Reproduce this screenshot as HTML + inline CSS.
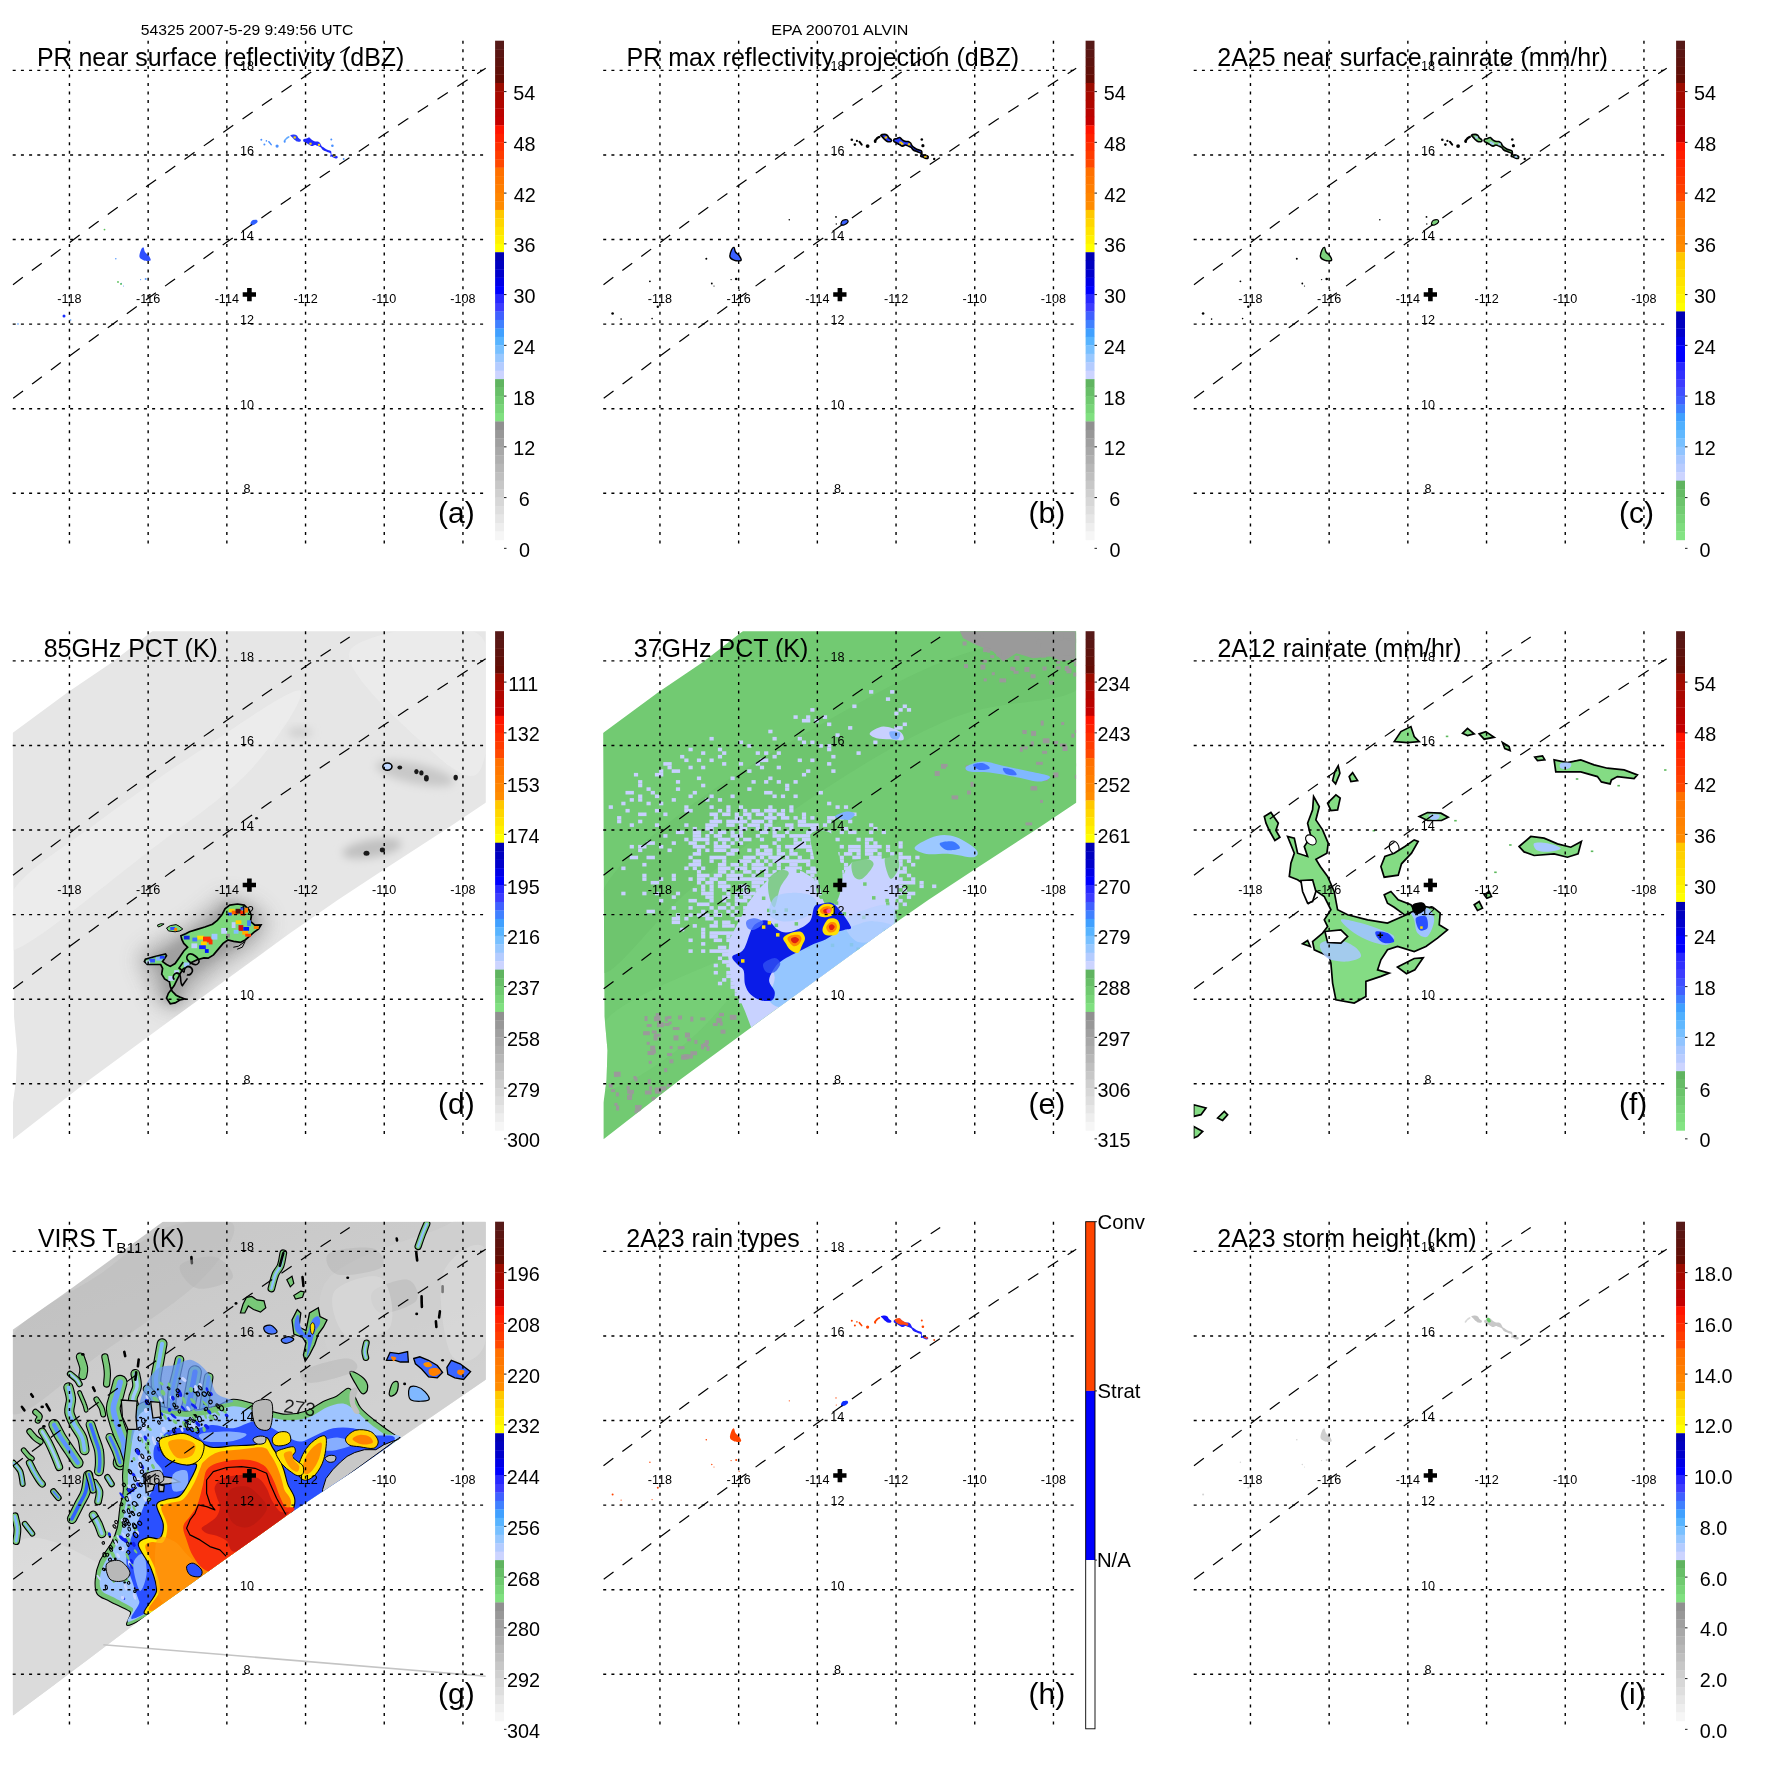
<!DOCTYPE html><html><head><meta charset="utf-8"><style>html,body{margin:0;padding:0;background:#fff;}svg{display:block;will-change:transform;}text{font-family:"Liberation Sans",sans-serif;}</style></head><body>
<svg width="1771" height="1771" viewBox="0 0 1771 1771">
<rect width="1771" height="1771" fill="#fff"/>
<defs><clipPath id="pc"><rect x="12.7" y="40.7" width="473.1" height="508.3"/></clipPath></defs>
<text transform="translate(140.87,35.00) scale(1.0114,1)" font-size="15.5" fill="#000">54325 2007-5-29 9:49:56 UTC</text>
<text transform="translate(771.31,34.70) scale(1.0381,1)" font-size="15.5" fill="#000">EPA 200701 ALVIN</text>
<g transform="translate(0.0,0.0)">
<g clip-path="url(#pc)"><path d="M284.4,141.0 C284.8,140.6 285.7,139.2 286.4,138.5 C287.2,137.8 288.4,137.2 288.8,136.9" fill="none" stroke="#60a8ff" stroke-width="1.6" stroke-linecap="round" stroke-linejoin="round"/>
<path d="M290.4,135.2 C290.7,134.8 293.0,134.4 294.0,134.4 C295.1,134.4 296.1,134.9 296.9,135.5 C297.6,136.1 297.9,137.4 298.6,138.1 C299.2,138.8 300.5,139.2 300.8,139.8 C301.1,140.3 300.8,141.3 300.3,141.6 C299.7,141.9 298.3,141.8 297.4,141.6 C296.6,141.4 296.1,141.1 295.2,140.3 C294.2,139.6 292.6,137.8 291.8,136.9 C291.0,136.1 290.0,135.7 290.4,135.2Z" fill="#2a3cff"/>
<path d="M303.5,139.2 C304.0,138.7 305.5,138.8 306.5,138.5 C307.4,138.2 308.4,137.3 309.3,137.5 C310.1,137.7 310.7,139.0 311.5,139.6 C312.4,140.3 313.3,141.0 314.4,141.3 C315.4,141.7 316.8,141.3 317.8,141.6 C318.7,141.9 319.4,142.4 320.0,143.0 C320.6,143.7 320.8,144.7 321.3,145.4 C321.7,146.1 322.1,146.5 323.0,147.1 C323.8,147.7 324.9,148.6 326.2,149.2 C327.5,149.9 330.0,150.3 330.9,150.9 C331.7,151.6 331.2,152.7 331.4,153.3 C331.6,154.0 331.1,154.4 332.0,154.9 C332.9,155.3 336.0,155.5 337.0,156.0 C337.9,156.5 337.8,157.4 337.6,157.8 C337.4,158.2 336.8,158.7 335.8,158.5 C334.9,158.3 332.8,157.2 331.9,156.8 C330.9,156.4 330.4,156.8 330.2,156.3 C330.0,155.7 331.2,154.2 330.6,153.4 C330.1,152.7 328.1,152.3 326.8,151.7 C325.5,151.2 323.9,150.8 322.8,150.0 C321.8,149.3 321.4,148.0 320.6,147.3 C319.7,146.7 318.7,146.5 317.8,146.1 C316.8,145.7 315.9,145.0 314.9,145.0 C314.0,145.0 313.1,146.2 312.1,146.1 C311.1,146.0 309.8,145.0 308.7,144.4 C307.7,143.8 306.8,143.2 305.9,142.7 C305.0,142.2 303.9,142.0 303.5,141.5 C303.1,140.9 303.0,139.7 303.5,139.2Z" fill="#1e28ff"/>
<rect x="293.6" y="136.5" width="2.2" height="2" fill="#ffe000"/>
<rect x="309.4" y="142.7" width="2.2" height="2" fill="#ffe000"/>
<rect x="317.9" y="143.8" width="2.2" height="2" fill="#ffe000"/>
<rect x="333.1" y="154.6" width="2.2" height="2" fill="#ffe000"/>
<circle cx="261.3" cy="139.8" r="1.0" fill="#4a90ff"/>
<circle cx="264.4" cy="144.6" r="1.0" fill="#4a90ff"/>
<circle cx="266.4" cy="140.9" r="0.8" fill="#4a90ff"/>
<circle cx="277.1" cy="146.1" r="1.6" fill="#4a90ff"/>
<circle cx="284.7" cy="141.7" r="1.0" fill="#4a90ff"/>
<circle cx="331.3" cy="139.5" r="1.0" fill="#4a90ff"/>
<circle cx="332.4" cy="145.7" r="1.3" fill="#4a90ff"/>
<circle cx="343.7" cy="159.0" r="0.9" fill="#4a90ff"/>
<path d="M268.9,141.7 C269.3,142.2 270.8,144.1 271.2,144.6" fill="none" stroke="#4a90ff" stroke-width="1.5" stroke-linecap="round" stroke-linejoin="round"/>
<path d="M139.5,257.0 C139.0,255.3 140.3,251.6 141.0,250.0 C141.7,248.4 142.8,247.1 143.5,247.4 C144.2,247.7 144.1,250.6 145.0,252.0 C145.9,253.4 148.1,254.6 149.0,256.0 C149.9,257.4 151.3,259.7 150.5,260.4 C149.7,261.1 145.8,261.0 144.0,260.4 C142.2,259.8 140.0,258.7 139.5,257.0Z" fill="#3050ff"/>
<path d="M250.6,223.0 C250.8,222.2 251.5,220.8 252.5,220.3 C253.5,219.8 255.7,219.5 256.5,219.8 C257.3,220.1 257.9,221.2 257.5,222.0 C257.1,222.8 255.1,224.3 254.0,224.8 C252.9,225.3 251.6,225.3 251.0,225.0 C250.4,224.7 250.3,223.8 250.6,223.0Z" fill="#3060ff"/>
<circle cx="115.8" cy="258.7" r="0.8" fill="#5a9cff"/>
<circle cx="145.7" cy="279.0" r="1.0" fill="#5a9cff"/>
<circle cx="140.6" cy="279.6" r="0.6" fill="#5a9cff"/>
<circle cx="121.3" cy="283.5" r="0.7" fill="#5a9cff"/>
<circle cx="123.5" cy="286.0" r="0.5" fill="#5a9cff"/>
<circle cx="104.5" cy="229.6" r="0.9" fill="#5cc05c"/>
<circle cx="121" cy="284" r="0.9" fill="#5cc05c"/>
<circle cx="118" cy="282" r="0.9" fill="#5cc05c"/>
<circle cx="64" cy="316" r="1.5" fill="#1a30ff"/><circle cx="70.5" cy="320" r="0.9" fill="#80b8ff"/><circle cx="18" cy="324" r="0.9" fill="#80b8ff"/></g>
<g stroke="#000" stroke-width="1.4" fill="none">
<line x1="69.45" y1="40.7" x2="69.45" y2="549.0" stroke-dasharray="3 5.47"/>
<line x1="148.15" y1="40.7" x2="148.15" y2="549.0" stroke-dasharray="3 5.47"/>
<line x1="226.85" y1="40.7" x2="226.85" y2="549.0" stroke-dasharray="3 5.47"/>
<line x1="305.55" y1="40.7" x2="305.55" y2="549.0" stroke-dasharray="3 5.47"/>
<line x1="384.25" y1="40.7" x2="384.25" y2="549.0" stroke-dasharray="3 5.47"/>
<line x1="462.95" y1="40.7" x2="462.95" y2="549.0" stroke-dasharray="3 5.47"/>
<line x1="12.7" y1="70.40" x2="485.8" y2="70.40" stroke-dasharray="3 5.2"/>
<line x1="12.7" y1="154.98" x2="485.8" y2="154.98" stroke-dasharray="3 5.2"/>
<line x1="12.7" y1="239.56" x2="485.8" y2="239.56" stroke-dasharray="3 5.2"/>
<line x1="12.7" y1="324.14" x2="485.8" y2="324.14" stroke-dasharray="3 5.2"/>
<line x1="12.7" y1="408.72" x2="485.8" y2="408.72" stroke-dasharray="3 5.2"/>
<line x1="12.7" y1="493.30" x2="485.8" y2="493.30" stroke-dasharray="3 5.2"/>
</g>
<g stroke="#000" stroke-width="1.2" fill="none" stroke-dasharray="12.3 11.3">
<path d="M13.00,284.74 L27.03,274.19 L41.06,263.69 L55.09,253.24 L69.12,242.85 L83.15,232.52 L97.17,222.24 L111.20,212.01 L125.23,201.84 L139.26,191.72 L153.29,181.65 L167.32,171.64 L181.35,161.68 L195.38,151.78 L209.41,141.93 L223.44,132.14 L237.47,122.40 L251.50,112.72 L265.52,103.09 L279.55,93.51 L293.58,83.99 L307.61,74.52 L321.64,65.10 L335.67,55.74 L349.70,46.44"/>
<path d="M13.20,398.31 L32.89,383.44 L52.58,368.67 L72.26,354.00 L91.95,339.42 L111.64,324.94 L131.32,310.55 L151.01,296.27 L170.70,282.07 L190.39,267.98 L210.07,253.98 L229.76,240.08 L249.45,226.28 L269.14,212.57 L288.82,198.97 L308.51,185.45 L328.20,172.04 L347.89,158.72 L367.57,145.50 L387.26,132.37 L406.95,119.34 L426.64,106.41 L446.32,93.58 L466.01,80.84 L485.70,68.20"/>
</g>
<text transform="translate(57.29,303.00)" font-size="12.6" fill="#000">-118</text>
<text transform="translate(136.02,303.00)" font-size="12.6" fill="#000">-116</text>
<text transform="translate(214.63,303.00)" font-size="12.6" fill="#000">-114</text>
<text transform="translate(293.45,303.00)" font-size="12.6" fill="#000">-112</text>
<text transform="translate(372.09,303.00)" font-size="12.6" fill="#000">-110</text>
<text transform="translate(450.32,303.00)" font-size="12.6" fill="#000">-108</text>
<text transform="translate(239.89,70.40)" font-size="12.6" fill="#000">18</text>
<text transform="translate(239.92,154.98)" font-size="12.6" fill="#000">16</text>
<text transform="translate(239.82,239.56)" font-size="12.6" fill="#000">14</text>
<text transform="translate(239.95,324.14)" font-size="12.6" fill="#000">12</text>
<text transform="translate(239.89,408.72)" font-size="12.6" fill="#000">10</text>
<text transform="translate(243.57,493.30)" font-size="12.6" fill="#000">8</text>
<path d="M247.1,288.1h4.6v4.1h4.3v4.6h-4.3v4.4h-4.6v-4.4h-4.4v-4.6h4.4z" fill="#000"/>
<text transform="translate(36.90,66.00) scale(0.9790,1)" font-size="25.5" fill="#000">PR near surface reflectivity (dBZ)</text>
<text transform="translate(438.00,523.00)" font-size="30.0" fill="#000">(a)</text>
<rect x="495.1" y="40.70" width="8.9" height="8.76" fill="#561a18"/>
<rect x="495.1" y="49.16" width="8.9" height="8.76" fill="#5a1613"/>
<rect x="495.1" y="57.62" width="8.9" height="8.76" fill="#5d130e"/>
<rect x="495.1" y="66.08" width="8.9" height="8.76" fill="#601009"/>
<rect x="495.1" y="74.54" width="8.9" height="8.76" fill="#640c04"/>
<rect x="495.1" y="83.01" width="8.9" height="8.76" fill="#9c0c00"/>
<rect x="495.1" y="91.47" width="8.9" height="8.76" fill="#a60900"/>
<rect x="495.1" y="99.93" width="8.9" height="8.76" fill="#b00600"/>
<rect x="495.1" y="108.39" width="8.9" height="8.76" fill="#ba0300"/>
<rect x="495.1" y="116.85" width="8.9" height="8.76" fill="#c40000"/>
<rect x="495.1" y="125.31" width="8.9" height="8.76" fill="#ff1400"/>
<rect x="495.1" y="133.77" width="8.9" height="8.76" fill="#ff2100"/>
<rect x="495.1" y="142.23" width="8.9" height="8.76" fill="#ff2e00"/>
<rect x="495.1" y="150.69" width="8.9" height="8.76" fill="#ff3b00"/>
<rect x="495.1" y="159.15" width="8.9" height="8.76" fill="#ff4800"/>
<rect x="495.1" y="167.62" width="8.9" height="8.76" fill="#ff7000"/>
<rect x="495.1" y="176.08" width="8.9" height="8.76" fill="#ff7700"/>
<rect x="495.1" y="184.54" width="8.9" height="8.76" fill="#ff7e00"/>
<rect x="495.1" y="193.00" width="8.9" height="8.76" fill="#ff8500"/>
<rect x="495.1" y="201.46" width="8.9" height="8.76" fill="#ff8c00"/>
<rect x="495.1" y="209.92" width="8.9" height="8.76" fill="#ffc800"/>
<rect x="495.1" y="218.38" width="8.9" height="8.76" fill="#ffd600"/>
<rect x="495.1" y="226.84" width="8.9" height="8.76" fill="#ffe400"/>
<rect x="495.1" y="235.30" width="8.9" height="8.76" fill="#fff100"/>
<rect x="495.1" y="243.76" width="8.9" height="8.76" fill="#ffff00"/>
<rect x="495.1" y="252.23" width="8.9" height="8.76" fill="#0000b4"/>
<rect x="495.1" y="260.69" width="8.9" height="8.76" fill="#0000c0"/>
<rect x="495.1" y="269.15" width="8.9" height="8.76" fill="#0000cc"/>
<rect x="495.1" y="277.61" width="8.9" height="8.76" fill="#0000e6"/>
<rect x="495.1" y="286.07" width="8.9" height="8.76" fill="#0000ff"/>
<rect x="495.1" y="294.53" width="8.9" height="8.76" fill="#2828ff"/>
<rect x="495.1" y="302.99" width="8.9" height="8.76" fill="#3c3cff"/>
<rect x="495.1" y="311.45" width="8.9" height="8.76" fill="#4060ff"/>
<rect x="495.1" y="319.91" width="8.9" height="8.76" fill="#4080ff"/>
<rect x="495.1" y="328.37" width="8.9" height="8.76" fill="#40a0ff"/>
<rect x="495.1" y="336.84" width="8.9" height="8.76" fill="#58b4ff"/>
<rect x="495.1" y="345.30" width="8.9" height="8.76" fill="#78c0ff"/>
<rect x="495.1" y="353.76" width="8.9" height="8.76" fill="#98c8ff"/>
<rect x="495.1" y="362.22" width="8.9" height="8.76" fill="#b4ccff"/>
<rect x="495.1" y="370.68" width="8.9" height="8.76" fill="#ccd4ff"/>
<rect x="495.1" y="379.14" width="8.9" height="8.76" fill="#60b460"/>
<rect x="495.1" y="387.60" width="8.9" height="8.76" fill="#68bf68"/>
<rect x="495.1" y="396.06" width="8.9" height="8.76" fill="#70ca70"/>
<rect x="495.1" y="404.52" width="8.9" height="8.76" fill="#78d578"/>
<rect x="495.1" y="412.98" width="8.9" height="8.76" fill="#80e080"/>
<rect x="495.1" y="421.45" width="8.9" height="8.76" fill="#909090"/>
<rect x="495.1" y="429.91" width="8.9" height="8.76" fill="#989898"/>
<rect x="495.1" y="438.37" width="8.9" height="8.76" fill="#a0a0a0"/>
<rect x="495.1" y="446.83" width="8.9" height="8.76" fill="#a8a8a8"/>
<rect x="495.1" y="455.29" width="8.9" height="8.76" fill="#afafaf"/>
<rect x="495.1" y="463.75" width="8.9" height="8.76" fill="#b7b7b7"/>
<rect x="495.1" y="472.21" width="8.9" height="8.76" fill="#bfbfbf"/>
<rect x="495.1" y="480.67" width="8.9" height="8.76" fill="#c7c7c7"/>
<rect x="495.1" y="489.13" width="8.9" height="8.76" fill="#cfcfcf"/>
<rect x="495.1" y="497.59" width="8.9" height="8.76" fill="#d7d7d7"/>
<rect x="495.1" y="506.06" width="8.9" height="8.76" fill="#dedede"/>
<rect x="495.1" y="514.52" width="8.9" height="8.76" fill="#e6e6e6"/>
<rect x="495.1" y="522.98" width="8.9" height="8.76" fill="#eeeeee"/>
<rect x="495.1" y="531.44" width="8.9" height="8.76" fill="#f6f6f6"/>
<line x1="504" y1="91.60" x2="506.5" y2="91.60" stroke="#000" stroke-width="0.9"/>
<text transform="translate(513.31,100.10)" font-size="19.8" fill="#000">54</text>
<line x1="504" y1="142.35" x2="506.5" y2="142.35" stroke="#000" stroke-width="0.9"/>
<text transform="translate(513.56,150.85)" font-size="19.8" fill="#000">48</text>
<line x1="504" y1="193.10" x2="506.5" y2="193.10" stroke="#000" stroke-width="0.9"/>
<text transform="translate(513.66,201.60)" font-size="19.8" fill="#000">42</text>
<line x1="504" y1="243.85" x2="506.5" y2="243.85" stroke="#000" stroke-width="0.9"/>
<text transform="translate(513.46,252.35)" font-size="19.8" fill="#000">36</text>
<line x1="504" y1="294.60" x2="506.5" y2="294.60" stroke="#000" stroke-width="0.9"/>
<text transform="translate(513.41,303.10)" font-size="19.8" fill="#000">30</text>
<line x1="504" y1="345.35" x2="506.5" y2="345.35" stroke="#000" stroke-width="0.9"/>
<text transform="translate(513.21,353.85)" font-size="19.8" fill="#000">24</text>
<line x1="504" y1="396.10" x2="506.5" y2="396.10" stroke="#000" stroke-width="0.9"/>
<text transform="translate(513.06,404.60)" font-size="19.8" fill="#000">18</text>
<line x1="504" y1="446.85" x2="506.5" y2="446.85" stroke="#000" stroke-width="0.9"/>
<text transform="translate(513.16,455.35)" font-size="19.8" fill="#000">12</text>
<line x1="504" y1="497.60" x2="506.5" y2="497.60" stroke="#000" stroke-width="0.9"/>
<text transform="translate(518.86,506.10)" font-size="19.8" fill="#000">6</text>
<line x1="504" y1="548.35" x2="506.5" y2="548.35" stroke="#000" stroke-width="0.9"/>
<text transform="translate(518.91,556.85)" font-size="19.8" fill="#000">0</text>
</g>
<g transform="translate(590.5,0.0)">
<g clip-path="url(#pc)"><path d="M284.4,141.0 C284.8,140.6 285.7,139.2 286.4,138.5 C287.2,137.8 288.4,137.2 288.8,136.9" fill="none" stroke="#000" stroke-width="2.4" stroke-linecap="round" stroke-linejoin="round"/>
<path d="M290.4,135.2 C290.7,134.8 293.0,134.4 294.0,134.4 C295.1,134.4 296.1,134.9 296.9,135.5 C297.6,136.1 297.9,137.4 298.6,138.1 C299.2,138.8 300.5,139.2 300.8,139.8 C301.1,140.3 300.8,141.3 300.3,141.6 C299.7,141.9 298.3,141.8 297.4,141.6 C296.6,141.4 296.1,141.1 295.2,140.3 C294.2,139.6 292.6,137.8 291.8,136.9 C291.0,136.1 290.0,135.7 290.4,135.2Z" fill="#2a3cff" stroke="#000" stroke-width="1.6"/>
<path d="M303.5,139.2 C304.0,138.7 305.5,138.8 306.5,138.5 C307.4,138.2 308.4,137.3 309.3,137.5 C310.1,137.7 310.7,139.0 311.5,139.6 C312.4,140.3 313.3,141.0 314.4,141.3 C315.4,141.7 316.8,141.3 317.8,141.6 C318.7,141.9 319.4,142.4 320.0,143.0 C320.6,143.7 320.8,144.7 321.3,145.4 C321.7,146.1 322.1,146.5 323.0,147.1 C323.8,147.7 324.9,148.6 326.2,149.2 C327.5,149.9 330.0,150.3 330.9,150.9 C331.7,151.6 331.2,152.7 331.4,153.3 C331.6,154.0 331.1,154.4 332.0,154.9 C332.9,155.3 336.0,155.5 337.0,156.0 C337.9,156.5 337.8,157.4 337.6,157.8 C337.4,158.2 336.8,158.7 335.8,158.5 C334.9,158.3 332.8,157.2 331.9,156.8 C330.9,156.4 330.4,156.8 330.2,156.3 C330.0,155.7 331.2,154.2 330.6,153.4 C330.1,152.7 328.1,152.3 326.8,151.7 C325.5,151.2 323.9,150.8 322.8,150.0 C321.8,149.3 321.4,148.0 320.6,147.3 C319.7,146.7 318.7,146.5 317.8,146.1 C316.8,145.7 315.9,145.0 314.9,145.0 C314.0,145.0 313.1,146.2 312.1,146.1 C311.1,146.0 309.8,145.0 308.7,144.4 C307.7,143.8 306.8,143.2 305.9,142.7 C305.0,142.2 303.9,142.0 303.5,141.5 C303.1,140.9 303.0,139.7 303.5,139.2Z" fill="#2a3cff" stroke="#000" stroke-width="1.6"/>
<rect x="294.2" y="136.5" width="2.4" height="2" fill="#ffd000"/>
<rect x="308.9" y="141.6" width="2.4" height="2" fill="#ffd000"/>
<rect x="310.5" y="142.7" width="2.4" height="2" fill="#ffd000"/>
<rect x="317.3" y="143.3" width="2.4" height="2" fill="#ffd000"/>
<rect x="333.7" y="155.6" width="2.4" height="2" fill="#ffd000"/>
<circle cx="261.3" cy="139.8" r="1.3" fill="#000"/>
<circle cx="264.4" cy="144.6" r="1.3" fill="#000"/>
<circle cx="266.4" cy="140.9" r="1.1" fill="#000"/>
<circle cx="277.1" cy="146.1" r="1.9" fill="#000"/>
<circle cx="284.7" cy="141.7" r="1.3" fill="#000"/>
<circle cx="331.3" cy="139.5" r="1.3" fill="#000"/>
<circle cx="332.4" cy="145.7" r="1.6" fill="#000"/>
<circle cx="343.7" cy="159.0" r="1.2" fill="#000"/>
<path d="M268.9,141.7 C269.3,142.2 270.8,144.1 271.2,144.6" fill="none" stroke="#000" stroke-width="2.0" stroke-linecap="round" stroke-linejoin="round"/>
<path d="M139.5,257.0 C139.0,255.3 140.3,251.6 141.0,250.0 C141.7,248.4 142.8,247.1 143.5,247.4 C144.2,247.7 144.1,250.6 145.0,252.0 C145.9,253.4 148.1,254.6 149.0,256.0 C149.9,257.4 151.3,259.7 150.5,260.4 C149.7,261.1 145.8,261.0 144.0,260.4 C142.2,259.8 140.0,258.7 139.5,257.0Z" fill="#3a60ff" stroke="#000" stroke-width="1.4"/>
<path d="M250.6,223.0 C250.8,222.2 251.5,220.8 252.5,220.3 C253.5,219.8 255.7,219.5 256.5,219.8 C257.3,220.1 257.9,221.2 257.5,222.0 C257.1,222.8 255.1,224.3 254.0,224.8 C252.9,225.3 251.6,225.3 251.0,225.0 C250.4,224.7 250.3,223.8 250.6,223.0Z" fill="#3a60ff" stroke="#000" stroke-width="1.2"/>
<circle cx="115.8" cy="258.7" r="1.0" fill="#000"/>
<circle cx="145.7" cy="279.0" r="1.3" fill="#000"/>
<circle cx="140.6" cy="279.6" r="0.7" fill="#000"/>
<circle cx="121.3" cy="283.5" r="0.9" fill="#000"/>
<circle cx="123.5" cy="286.0" r="0.6" fill="#000"/>
<circle cx="59.4" cy="281.3" r="0.9" fill="#000"/>
<circle cx="67.3" cy="306.7" r="1.2" fill="#000"/>
<circle cx="22.1" cy="313.5" r="1.3" fill="#000"/>
<circle cx="30.6" cy="319.1" r="0.8" fill="#000"/>
<circle cx="30.6" cy="323.7" r="0.7" fill="#000"/>
<circle cx="61.6" cy="318.6" r="0.8" fill="#000"/>
<circle cx="148.6" cy="290.3" r="0.8" fill="#000"/>
<circle cx="198.8" cy="219.8" r="0.8" fill="#000"/>
<circle cx="245.5" cy="216.9" r="0.9" fill="#000"/>
<circle cx="245.8" cy="224.0" r="0.7" fill="#000"/></g>
<g stroke="#000" stroke-width="1.4" fill="none">
<line x1="69.45" y1="40.7" x2="69.45" y2="549.0" stroke-dasharray="3 5.47"/>
<line x1="148.15" y1="40.7" x2="148.15" y2="549.0" stroke-dasharray="3 5.47"/>
<line x1="226.85" y1="40.7" x2="226.85" y2="549.0" stroke-dasharray="3 5.47"/>
<line x1="305.55" y1="40.7" x2="305.55" y2="549.0" stroke-dasharray="3 5.47"/>
<line x1="384.25" y1="40.7" x2="384.25" y2="549.0" stroke-dasharray="3 5.47"/>
<line x1="462.95" y1="40.7" x2="462.95" y2="549.0" stroke-dasharray="3 5.47"/>
<line x1="12.7" y1="70.40" x2="485.8" y2="70.40" stroke-dasharray="3 5.2"/>
<line x1="12.7" y1="154.98" x2="485.8" y2="154.98" stroke-dasharray="3 5.2"/>
<line x1="12.7" y1="239.56" x2="485.8" y2="239.56" stroke-dasharray="3 5.2"/>
<line x1="12.7" y1="324.14" x2="485.8" y2="324.14" stroke-dasharray="3 5.2"/>
<line x1="12.7" y1="408.72" x2="485.8" y2="408.72" stroke-dasharray="3 5.2"/>
<line x1="12.7" y1="493.30" x2="485.8" y2="493.30" stroke-dasharray="3 5.2"/>
</g>
<g stroke="#000" stroke-width="1.2" fill="none" stroke-dasharray="12.3 11.3">
<path d="M13.00,284.74 L27.03,274.19 L41.06,263.69 L55.09,253.24 L69.12,242.85 L83.15,232.52 L97.17,222.24 L111.20,212.01 L125.23,201.84 L139.26,191.72 L153.29,181.65 L167.32,171.64 L181.35,161.68 L195.38,151.78 L209.41,141.93 L223.44,132.14 L237.47,122.40 L251.50,112.72 L265.52,103.09 L279.55,93.51 L293.58,83.99 L307.61,74.52 L321.64,65.10 L335.67,55.74 L349.70,46.44"/>
<path d="M13.20,398.31 L32.89,383.44 L52.58,368.67 L72.26,354.00 L91.95,339.42 L111.64,324.94 L131.32,310.55 L151.01,296.27 L170.70,282.07 L190.39,267.98 L210.07,253.98 L229.76,240.08 L249.45,226.28 L269.14,212.57 L288.82,198.97 L308.51,185.45 L328.20,172.04 L347.89,158.72 L367.57,145.50 L387.26,132.37 L406.95,119.34 L426.64,106.41 L446.32,93.58 L466.01,80.84 L485.70,68.20"/>
</g>
<text transform="translate(57.29,303.00)" font-size="12.6" fill="#000">-118</text>
<text transform="translate(136.02,303.00)" font-size="12.6" fill="#000">-116</text>
<text transform="translate(214.63,303.00)" font-size="12.6" fill="#000">-114</text>
<text transform="translate(293.45,303.00)" font-size="12.6" fill="#000">-112</text>
<text transform="translate(372.09,303.00)" font-size="12.6" fill="#000">-110</text>
<text transform="translate(450.32,303.00)" font-size="12.6" fill="#000">-108</text>
<text transform="translate(239.89,70.40)" font-size="12.6" fill="#000">18</text>
<text transform="translate(239.92,154.98)" font-size="12.6" fill="#000">16</text>
<text transform="translate(239.82,239.56)" font-size="12.6" fill="#000">14</text>
<text transform="translate(239.95,324.14)" font-size="12.6" fill="#000">12</text>
<text transform="translate(239.89,408.72)" font-size="12.6" fill="#000">10</text>
<text transform="translate(243.57,493.30)" font-size="12.6" fill="#000">8</text>
<path d="M247.1,288.1h4.6v4.1h4.3v4.6h-4.3v4.4h-4.6v-4.4h-4.4v-4.6h4.4z" fill="#000"/>
<text transform="translate(35.99,66.00) scale(0.9833,1)" font-size="25.5" fill="#000">PR max reflectivity projection (dBZ)</text>
<text transform="translate(438.00,523.00)" font-size="30.0" fill="#000">(b)</text>
<rect x="495.1" y="40.70" width="8.9" height="8.76" fill="#561a18"/>
<rect x="495.1" y="49.16" width="8.9" height="8.76" fill="#5a1613"/>
<rect x="495.1" y="57.62" width="8.9" height="8.76" fill="#5d130e"/>
<rect x="495.1" y="66.08" width="8.9" height="8.76" fill="#601009"/>
<rect x="495.1" y="74.54" width="8.9" height="8.76" fill="#640c04"/>
<rect x="495.1" y="83.01" width="8.9" height="8.76" fill="#9c0c00"/>
<rect x="495.1" y="91.47" width="8.9" height="8.76" fill="#a60900"/>
<rect x="495.1" y="99.93" width="8.9" height="8.76" fill="#b00600"/>
<rect x="495.1" y="108.39" width="8.9" height="8.76" fill="#ba0300"/>
<rect x="495.1" y="116.85" width="8.9" height="8.76" fill="#c40000"/>
<rect x="495.1" y="125.31" width="8.9" height="8.76" fill="#ff1400"/>
<rect x="495.1" y="133.77" width="8.9" height="8.76" fill="#ff2100"/>
<rect x="495.1" y="142.23" width="8.9" height="8.76" fill="#ff2e00"/>
<rect x="495.1" y="150.69" width="8.9" height="8.76" fill="#ff3b00"/>
<rect x="495.1" y="159.15" width="8.9" height="8.76" fill="#ff4800"/>
<rect x="495.1" y="167.62" width="8.9" height="8.76" fill="#ff7000"/>
<rect x="495.1" y="176.08" width="8.9" height="8.76" fill="#ff7700"/>
<rect x="495.1" y="184.54" width="8.9" height="8.76" fill="#ff7e00"/>
<rect x="495.1" y="193.00" width="8.9" height="8.76" fill="#ff8500"/>
<rect x="495.1" y="201.46" width="8.9" height="8.76" fill="#ff8c00"/>
<rect x="495.1" y="209.92" width="8.9" height="8.76" fill="#ffc800"/>
<rect x="495.1" y="218.38" width="8.9" height="8.76" fill="#ffd600"/>
<rect x="495.1" y="226.84" width="8.9" height="8.76" fill="#ffe400"/>
<rect x="495.1" y="235.30" width="8.9" height="8.76" fill="#fff100"/>
<rect x="495.1" y="243.76" width="8.9" height="8.76" fill="#ffff00"/>
<rect x="495.1" y="252.23" width="8.9" height="8.76" fill="#0000b4"/>
<rect x="495.1" y="260.69" width="8.9" height="8.76" fill="#0000c0"/>
<rect x="495.1" y="269.15" width="8.9" height="8.76" fill="#0000cc"/>
<rect x="495.1" y="277.61" width="8.9" height="8.76" fill="#0000e6"/>
<rect x="495.1" y="286.07" width="8.9" height="8.76" fill="#0000ff"/>
<rect x="495.1" y="294.53" width="8.9" height="8.76" fill="#2828ff"/>
<rect x="495.1" y="302.99" width="8.9" height="8.76" fill="#3c3cff"/>
<rect x="495.1" y="311.45" width="8.9" height="8.76" fill="#4060ff"/>
<rect x="495.1" y="319.91" width="8.9" height="8.76" fill="#4080ff"/>
<rect x="495.1" y="328.37" width="8.9" height="8.76" fill="#40a0ff"/>
<rect x="495.1" y="336.84" width="8.9" height="8.76" fill="#58b4ff"/>
<rect x="495.1" y="345.30" width="8.9" height="8.76" fill="#78c0ff"/>
<rect x="495.1" y="353.76" width="8.9" height="8.76" fill="#98c8ff"/>
<rect x="495.1" y="362.22" width="8.9" height="8.76" fill="#b4ccff"/>
<rect x="495.1" y="370.68" width="8.9" height="8.76" fill="#ccd4ff"/>
<rect x="495.1" y="379.14" width="8.9" height="8.76" fill="#60b460"/>
<rect x="495.1" y="387.60" width="8.9" height="8.76" fill="#68bf68"/>
<rect x="495.1" y="396.06" width="8.9" height="8.76" fill="#70ca70"/>
<rect x="495.1" y="404.52" width="8.9" height="8.76" fill="#78d578"/>
<rect x="495.1" y="412.98" width="8.9" height="8.76" fill="#80e080"/>
<rect x="495.1" y="421.45" width="8.9" height="8.76" fill="#909090"/>
<rect x="495.1" y="429.91" width="8.9" height="8.76" fill="#989898"/>
<rect x="495.1" y="438.37" width="8.9" height="8.76" fill="#a0a0a0"/>
<rect x="495.1" y="446.83" width="8.9" height="8.76" fill="#a8a8a8"/>
<rect x="495.1" y="455.29" width="8.9" height="8.76" fill="#afafaf"/>
<rect x="495.1" y="463.75" width="8.9" height="8.76" fill="#b7b7b7"/>
<rect x="495.1" y="472.21" width="8.9" height="8.76" fill="#bfbfbf"/>
<rect x="495.1" y="480.67" width="8.9" height="8.76" fill="#c7c7c7"/>
<rect x="495.1" y="489.13" width="8.9" height="8.76" fill="#cfcfcf"/>
<rect x="495.1" y="497.59" width="8.9" height="8.76" fill="#d7d7d7"/>
<rect x="495.1" y="506.06" width="8.9" height="8.76" fill="#dedede"/>
<rect x="495.1" y="514.52" width="8.9" height="8.76" fill="#e6e6e6"/>
<rect x="495.1" y="522.98" width="8.9" height="8.76" fill="#eeeeee"/>
<rect x="495.1" y="531.44" width="8.9" height="8.76" fill="#f6f6f6"/>
<line x1="504" y1="91.60" x2="506.5" y2="91.60" stroke="#000" stroke-width="0.9"/>
<text transform="translate(513.31,100.10)" font-size="19.8" fill="#000">54</text>
<line x1="504" y1="142.35" x2="506.5" y2="142.35" stroke="#000" stroke-width="0.9"/>
<text transform="translate(513.56,150.85)" font-size="19.8" fill="#000">48</text>
<line x1="504" y1="193.10" x2="506.5" y2="193.10" stroke="#000" stroke-width="0.9"/>
<text transform="translate(513.66,201.60)" font-size="19.8" fill="#000">42</text>
<line x1="504" y1="243.85" x2="506.5" y2="243.85" stroke="#000" stroke-width="0.9"/>
<text transform="translate(513.46,252.35)" font-size="19.8" fill="#000">36</text>
<line x1="504" y1="294.60" x2="506.5" y2="294.60" stroke="#000" stroke-width="0.9"/>
<text transform="translate(513.41,303.10)" font-size="19.8" fill="#000">30</text>
<line x1="504" y1="345.35" x2="506.5" y2="345.35" stroke="#000" stroke-width="0.9"/>
<text transform="translate(513.21,353.85)" font-size="19.8" fill="#000">24</text>
<line x1="504" y1="396.10" x2="506.5" y2="396.10" stroke="#000" stroke-width="0.9"/>
<text transform="translate(513.06,404.60)" font-size="19.8" fill="#000">18</text>
<line x1="504" y1="446.85" x2="506.5" y2="446.85" stroke="#000" stroke-width="0.9"/>
<text transform="translate(513.16,455.35)" font-size="19.8" fill="#000">12</text>
<line x1="504" y1="497.60" x2="506.5" y2="497.60" stroke="#000" stroke-width="0.9"/>
<text transform="translate(518.86,506.10)" font-size="19.8" fill="#000">6</text>
<line x1="504" y1="548.35" x2="506.5" y2="548.35" stroke="#000" stroke-width="0.9"/>
<text transform="translate(518.91,556.85)" font-size="19.8" fill="#000">0</text>
</g>
<g transform="translate(1181.0,0.0)">
<g clip-path="url(#pc)"><path d="M284.4,141.0 C284.8,140.6 285.7,139.2 286.4,138.5 C287.2,137.8 288.4,137.2 288.8,136.9" fill="none" stroke="#000" stroke-width="2.4" stroke-linecap="round" stroke-linejoin="round"/>
<path d="M290.4,135.2 C290.7,134.8 293.0,134.4 294.0,134.4 C295.1,134.4 296.1,134.9 296.9,135.5 C297.6,136.1 297.9,137.4 298.6,138.1 C299.2,138.8 300.5,139.2 300.8,139.8 C301.1,140.3 300.8,141.3 300.3,141.6 C299.7,141.9 298.3,141.8 297.4,141.6 C296.6,141.4 296.1,141.1 295.2,140.3 C294.2,139.6 292.6,137.8 291.8,136.9 C291.0,136.1 290.0,135.7 290.4,135.2Z" fill="#7cd27c" stroke="#000" stroke-width="1.6"/>
<path d="M303.5,139.2 C304.0,138.7 305.5,138.8 306.5,138.5 C307.4,138.2 308.4,137.3 309.3,137.5 C310.1,137.7 310.7,139.0 311.5,139.6 C312.4,140.3 313.3,141.0 314.4,141.3 C315.4,141.7 316.8,141.3 317.8,141.6 C318.7,141.9 319.4,142.4 320.0,143.0 C320.6,143.7 320.8,144.7 321.3,145.4 C321.7,146.1 322.1,146.5 323.0,147.1 C323.8,147.7 324.9,148.6 326.2,149.2 C327.5,149.9 330.0,150.3 330.9,150.9 C331.7,151.6 331.2,152.7 331.4,153.3 C331.6,154.0 331.1,154.4 332.0,154.9 C332.9,155.3 336.0,155.5 337.0,156.0 C337.9,156.5 337.8,157.4 337.6,157.8 C337.4,158.2 336.8,158.7 335.8,158.5 C334.9,158.3 332.8,157.2 331.9,156.8 C330.9,156.4 330.4,156.8 330.2,156.3 C330.0,155.7 331.2,154.2 330.6,153.4 C330.1,152.7 328.1,152.3 326.8,151.7 C325.5,151.2 323.9,150.8 322.8,150.0 C321.8,149.3 321.4,148.0 320.6,147.3 C319.7,146.7 318.7,146.5 317.8,146.1 C316.8,145.7 315.9,145.0 314.9,145.0 C314.0,145.0 313.1,146.2 312.1,146.1 C311.1,146.0 309.8,145.0 308.7,144.4 C307.7,143.8 306.8,143.2 305.9,142.7 C305.0,142.2 303.9,142.0 303.5,141.5 C303.1,140.9 303.0,139.7 303.5,139.2Z" fill="#7cd27c" stroke="#000" stroke-width="1.6"/>
<rect x="294.2" y="136.5" width="2.4" height="2" fill="#a8c8ff"/>
<rect x="308.9" y="141.6" width="2.4" height="2" fill="#a8c8ff"/>
<rect x="310.5" y="142.7" width="2.4" height="2" fill="#a8c8ff"/>
<rect x="317.3" y="143.3" width="2.4" height="2" fill="#a8c8ff"/>
<rect x="333.7" y="155.6" width="2.4" height="2" fill="#a8c8ff"/>
<circle cx="261.3" cy="139.8" r="1.3" fill="#000"/>
<circle cx="264.4" cy="144.6" r="1.3" fill="#000"/>
<circle cx="266.4" cy="140.9" r="1.1" fill="#000"/>
<circle cx="277.1" cy="146.1" r="1.9" fill="#000"/>
<circle cx="284.7" cy="141.7" r="1.3" fill="#000"/>
<circle cx="331.3" cy="139.5" r="1.3" fill="#000"/>
<circle cx="332.4" cy="145.7" r="1.6" fill="#000"/>
<circle cx="343.7" cy="159.0" r="1.2" fill="#000"/>
<path d="M268.9,141.7 C269.3,142.2 270.8,144.1 271.2,144.6" fill="none" stroke="#000" stroke-width="2.0" stroke-linecap="round" stroke-linejoin="round"/>
<path d="M139.5,257.0 C139.0,255.3 140.3,251.6 141.0,250.0 C141.7,248.4 142.8,247.1 143.5,247.4 C144.2,247.7 144.1,250.6 145.0,252.0 C145.9,253.4 148.1,254.6 149.0,256.0 C149.9,257.4 151.3,259.7 150.5,260.4 C149.7,261.1 145.8,261.0 144.0,260.4 C142.2,259.8 140.0,258.7 139.5,257.0Z" fill="#7cd27c" stroke="#000" stroke-width="1.4"/>
<path d="M250.6,223.0 C250.8,222.2 251.5,220.8 252.5,220.3 C253.5,219.8 255.7,219.5 256.5,219.8 C257.3,220.1 257.9,221.2 257.5,222.0 C257.1,222.8 255.1,224.3 254.0,224.8 C252.9,225.3 251.6,225.3 251.0,225.0 C250.4,224.7 250.3,223.8 250.6,223.0Z" fill="#7cd27c" stroke="#000" stroke-width="1.2"/>
<circle cx="115.8" cy="258.7" r="1.0" fill="#000"/>
<circle cx="145.7" cy="279.0" r="1.3" fill="#000"/>
<circle cx="140.6" cy="279.6" r="0.7" fill="#000"/>
<circle cx="121.3" cy="283.5" r="0.9" fill="#000"/>
<circle cx="123.5" cy="286.0" r="0.6" fill="#000"/>
<circle cx="59.4" cy="281.3" r="0.9" fill="#000"/>
<circle cx="67.3" cy="306.7" r="1.2" fill="#000"/>
<circle cx="22.1" cy="313.5" r="1.3" fill="#000"/>
<circle cx="30.6" cy="319.1" r="0.8" fill="#000"/>
<circle cx="30.6" cy="323.7" r="0.7" fill="#000"/>
<circle cx="61.6" cy="318.6" r="0.8" fill="#000"/>
<circle cx="148.6" cy="290.3" r="0.8" fill="#000"/>
<circle cx="198.8" cy="219.8" r="0.8" fill="#000"/>
<circle cx="245.5" cy="216.9" r="0.9" fill="#000"/>
<circle cx="245.8" cy="224.0" r="0.7" fill="#000"/></g>
<g stroke="#000" stroke-width="1.4" fill="none">
<line x1="69.45" y1="40.7" x2="69.45" y2="549.0" stroke-dasharray="3 5.47"/>
<line x1="148.15" y1="40.7" x2="148.15" y2="549.0" stroke-dasharray="3 5.47"/>
<line x1="226.85" y1="40.7" x2="226.85" y2="549.0" stroke-dasharray="3 5.47"/>
<line x1="305.55" y1="40.7" x2="305.55" y2="549.0" stroke-dasharray="3 5.47"/>
<line x1="384.25" y1="40.7" x2="384.25" y2="549.0" stroke-dasharray="3 5.47"/>
<line x1="462.95" y1="40.7" x2="462.95" y2="549.0" stroke-dasharray="3 5.47"/>
<line x1="12.7" y1="70.40" x2="485.8" y2="70.40" stroke-dasharray="3 5.2"/>
<line x1="12.7" y1="154.98" x2="485.8" y2="154.98" stroke-dasharray="3 5.2"/>
<line x1="12.7" y1="239.56" x2="485.8" y2="239.56" stroke-dasharray="3 5.2"/>
<line x1="12.7" y1="324.14" x2="485.8" y2="324.14" stroke-dasharray="3 5.2"/>
<line x1="12.7" y1="408.72" x2="485.8" y2="408.72" stroke-dasharray="3 5.2"/>
<line x1="12.7" y1="493.30" x2="485.8" y2="493.30" stroke-dasharray="3 5.2"/>
</g>
<g stroke="#000" stroke-width="1.2" fill="none" stroke-dasharray="12.3 11.3">
<path d="M13.00,284.74 L27.03,274.19 L41.06,263.69 L55.09,253.24 L69.12,242.85 L83.15,232.52 L97.17,222.24 L111.20,212.01 L125.23,201.84 L139.26,191.72 L153.29,181.65 L167.32,171.64 L181.35,161.68 L195.38,151.78 L209.41,141.93 L223.44,132.14 L237.47,122.40 L251.50,112.72 L265.52,103.09 L279.55,93.51 L293.58,83.99 L307.61,74.52 L321.64,65.10 L335.67,55.74 L349.70,46.44"/>
<path d="M13.20,398.31 L32.89,383.44 L52.58,368.67 L72.26,354.00 L91.95,339.42 L111.64,324.94 L131.32,310.55 L151.01,296.27 L170.70,282.07 L190.39,267.98 L210.07,253.98 L229.76,240.08 L249.45,226.28 L269.14,212.57 L288.82,198.97 L308.51,185.45 L328.20,172.04 L347.89,158.72 L367.57,145.50 L387.26,132.37 L406.95,119.34 L426.64,106.41 L446.32,93.58 L466.01,80.84 L485.70,68.20"/>
</g>
<text transform="translate(57.29,303.00)" font-size="12.6" fill="#000">-118</text>
<text transform="translate(136.02,303.00)" font-size="12.6" fill="#000">-116</text>
<text transform="translate(214.63,303.00)" font-size="12.6" fill="#000">-114</text>
<text transform="translate(293.45,303.00)" font-size="12.6" fill="#000">-112</text>
<text transform="translate(372.09,303.00)" font-size="12.6" fill="#000">-110</text>
<text transform="translate(450.32,303.00)" font-size="12.6" fill="#000">-108</text>
<text transform="translate(239.89,70.40)" font-size="12.6" fill="#000">18</text>
<text transform="translate(239.92,154.98)" font-size="12.6" fill="#000">16</text>
<text transform="translate(239.82,239.56)" font-size="12.6" fill="#000">14</text>
<text transform="translate(239.95,324.14)" font-size="12.6" fill="#000">12</text>
<text transform="translate(239.89,408.72)" font-size="12.6" fill="#000">10</text>
<text transform="translate(243.57,493.30)" font-size="12.6" fill="#000">8</text>
<path d="M247.1,288.1h4.6v4.1h4.3v4.6h-4.3v4.4h-4.6v-4.4h-4.4v-4.6h4.4z" fill="#000"/>
<text transform="translate(36.25,66.00) scale(0.9818,1)" font-size="25.5" fill="#000">2A25 near surface rainrate (mm/hr)</text>
<text transform="translate(438.00,523.00)" font-size="30.0" fill="#000">(c)</text>
<rect x="495.1" y="40.70" width="8.9" height="8.76" fill="#561a18"/>
<rect x="495.1" y="49.16" width="8.9" height="8.76" fill="#5a1613"/>
<rect x="495.1" y="57.62" width="8.9" height="8.76" fill="#5d130e"/>
<rect x="495.1" y="66.08" width="8.9" height="8.76" fill="#601009"/>
<rect x="495.1" y="74.54" width="8.9" height="8.76" fill="#640c04"/>
<rect x="495.1" y="83.01" width="8.9" height="8.76" fill="#9c0c00"/>
<rect x="495.1" y="91.47" width="8.9" height="8.76" fill="#a30a00"/>
<rect x="495.1" y="99.93" width="8.9" height="8.76" fill="#a90800"/>
<rect x="495.1" y="108.39" width="8.9" height="8.76" fill="#b00600"/>
<rect x="495.1" y="116.85" width="8.9" height="8.76" fill="#b70400"/>
<rect x="495.1" y="125.31" width="8.9" height="8.76" fill="#bd0200"/>
<rect x="495.1" y="133.77" width="8.9" height="8.76" fill="#c40000"/>
<rect x="495.1" y="142.23" width="8.9" height="8.76" fill="#ff1400"/>
<rect x="495.1" y="150.69" width="8.9" height="8.76" fill="#ff1d00"/>
<rect x="495.1" y="159.15" width="8.9" height="8.76" fill="#ff2500"/>
<rect x="495.1" y="167.62" width="8.9" height="8.76" fill="#ff2e00"/>
<rect x="495.1" y="176.08" width="8.9" height="8.76" fill="#ff3700"/>
<rect x="495.1" y="184.54" width="8.9" height="8.76" fill="#ff3f00"/>
<rect x="495.1" y="193.00" width="8.9" height="8.76" fill="#ff4800"/>
<rect x="495.1" y="201.46" width="8.9" height="8.76" fill="#ff7000"/>
<rect x="495.1" y="209.92" width="8.9" height="8.76" fill="#ff7600"/>
<rect x="495.1" y="218.38" width="8.9" height="8.76" fill="#ff7b00"/>
<rect x="495.1" y="226.84" width="8.9" height="8.76" fill="#ff8100"/>
<rect x="495.1" y="235.30" width="8.9" height="8.76" fill="#ff8600"/>
<rect x="495.1" y="243.76" width="8.9" height="8.76" fill="#ff8c00"/>
<rect x="495.1" y="252.23" width="8.9" height="8.76" fill="#ffc800"/>
<rect x="495.1" y="260.69" width="8.9" height="8.76" fill="#ffd100"/>
<rect x="495.1" y="269.15" width="8.9" height="8.76" fill="#ffda00"/>
<rect x="495.1" y="277.61" width="8.9" height="8.76" fill="#ffe400"/>
<rect x="495.1" y="286.07" width="8.9" height="8.76" fill="#ffed00"/>
<rect x="495.1" y="294.53" width="8.9" height="8.76" fill="#fff600"/>
<rect x="495.1" y="302.99" width="8.9" height="8.76" fill="#ffff00"/>
<rect x="495.1" y="311.45" width="8.9" height="8.76" fill="#0000b4"/>
<rect x="495.1" y="319.91" width="8.9" height="8.76" fill="#0000c0"/>
<rect x="495.1" y="328.37" width="8.9" height="8.76" fill="#0000cc"/>
<rect x="495.1" y="336.84" width="8.9" height="8.76" fill="#0000e6"/>
<rect x="495.1" y="345.30" width="8.9" height="8.76" fill="#0000ff"/>
<rect x="495.1" y="353.76" width="8.9" height="8.76" fill="#0000ff"/>
<rect x="495.1" y="362.22" width="8.9" height="8.76" fill="#2828ff"/>
<rect x="495.1" y="370.68" width="8.9" height="8.76" fill="#3030ff"/>
<rect x="495.1" y="379.14" width="8.9" height="8.76" fill="#3c3cff"/>
<rect x="495.1" y="387.60" width="8.9" height="8.76" fill="#4050ff"/>
<rect x="495.1" y="396.06" width="8.9" height="8.76" fill="#4060ff"/>
<rect x="495.1" y="404.52" width="8.9" height="8.76" fill="#4080ff"/>
<rect x="495.1" y="412.98" width="8.9" height="8.76" fill="#40a0ff"/>
<rect x="495.1" y="421.45" width="8.9" height="8.76" fill="#50b0ff"/>
<rect x="495.1" y="429.91" width="8.9" height="8.76" fill="#60b8ff"/>
<rect x="495.1" y="438.37" width="8.9" height="8.76" fill="#78c0ff"/>
<rect x="495.1" y="446.83" width="8.9" height="8.76" fill="#90c4ff"/>
<rect x="495.1" y="455.29" width="8.9" height="8.76" fill="#a8c8ff"/>
<rect x="495.1" y="463.75" width="8.9" height="8.76" fill="#b8ccff"/>
<rect x="495.1" y="472.21" width="8.9" height="8.76" fill="#ccd4ff"/>
<rect x="495.1" y="480.67" width="8.9" height="8.76" fill="#60b460"/>
<rect x="495.1" y="489.13" width="8.9" height="8.76" fill="#66bc66"/>
<rect x="495.1" y="497.59" width="8.9" height="8.76" fill="#6cc46c"/>
<rect x="495.1" y="506.06" width="8.9" height="8.76" fill="#72cc72"/>
<rect x="495.1" y="514.52" width="8.9" height="8.76" fill="#78d478"/>
<rect x="495.1" y="522.98" width="8.9" height="8.76" fill="#7edc7e"/>
<rect x="495.1" y="531.44" width="8.9" height="8.76" fill="#84e484"/>
<line x1="504" y1="91.60" x2="506.5" y2="91.60" stroke="#000" stroke-width="0.9"/>
<text transform="translate(512.91,100.10)" font-size="19.8" fill="#000">54</text>
<line x1="504" y1="142.35" x2="506.5" y2="142.35" stroke="#000" stroke-width="0.9"/>
<text transform="translate(513.16,150.85)" font-size="19.8" fill="#000">48</text>
<line x1="504" y1="193.10" x2="506.5" y2="193.10" stroke="#000" stroke-width="0.9"/>
<text transform="translate(513.26,201.60)" font-size="19.8" fill="#000">42</text>
<line x1="504" y1="243.85" x2="506.5" y2="243.85" stroke="#000" stroke-width="0.9"/>
<text transform="translate(513.06,252.35)" font-size="19.8" fill="#000">36</text>
<line x1="504" y1="294.60" x2="506.5" y2="294.60" stroke="#000" stroke-width="0.9"/>
<text transform="translate(513.01,303.10)" font-size="19.8" fill="#000">30</text>
<line x1="504" y1="345.35" x2="506.5" y2="345.35" stroke="#000" stroke-width="0.9"/>
<text transform="translate(512.81,353.85)" font-size="19.8" fill="#000">24</text>
<line x1="504" y1="396.10" x2="506.5" y2="396.10" stroke="#000" stroke-width="0.9"/>
<text transform="translate(512.66,404.60)" font-size="19.8" fill="#000">18</text>
<line x1="504" y1="446.85" x2="506.5" y2="446.85" stroke="#000" stroke-width="0.9"/>
<text transform="translate(512.76,455.35)" font-size="19.8" fill="#000">12</text>
<line x1="504" y1="497.60" x2="506.5" y2="497.60" stroke="#000" stroke-width="0.9"/>
<text transform="translate(518.46,506.10)" font-size="19.8" fill="#000">6</text>
<line x1="504" y1="548.35" x2="506.5" y2="548.35" stroke="#000" stroke-width="0.9"/>
<text transform="translate(518.51,556.85)" font-size="19.8" fill="#000">0</text>
</g>
<g transform="translate(0.0,590.5)">
<g clip-path="url(#pc)"><defs><clipPath id="swd"><path d="M12.5,142.4 L67.8,101.8 L112.9,71.3 L152.5,40.5 L486.0,40.5 L486.0,212.0 L445.3,239.2 L384.4,278.7 L338.1,309.2 L289.5,343.1 L253.2,369.5 L178.7,423.7 L89.5,489.2 L13.0,548.8 L13.0,512.0 L16.0,490.0 L17.0,460.0 L14.0,426.0Z"/></clipPath><filter id="blr" x="-50%" y="-50%" width="200%" height="200%"><feGaussianBlur stdDeviation="9"/></filter><filter id="blr2" x="-50%" y="-50%" width="200%" height="200%"><feGaussianBlur stdDeviation="4"/></filter></defs>
<path d="M12.5,142.4 L67.8,101.8 L112.9,71.3 L152.5,40.5 L486.0,40.5 L486.0,212.0 L445.3,239.2 L384.4,278.7 L338.1,309.2 L289.5,343.1 L253.2,369.5 L178.7,423.7 L89.5,489.2 L13.0,548.8 L13.0,512.0 L16.0,490.0 L17.0,460.0 L14.0,426.0Z" fill="#e6e6e6"/>
<g clip-path="url(#swd)">
<path d="M13.0,300.0 C27.5,278.3 68.8,253.3 100.0,230.0 C131.2,206.7 166.7,181.7 200.0,160.0 C233.3,138.3 291.7,96.7 300.0,100.0 C308.3,103.3 275.0,153.3 250.0,180.0 C225.0,206.7 189.5,230.0 150.0,260.0 C110.5,290.0 35.8,353.3 13.0,360.0 C-9.8,366.7 -1.5,321.7 13.0,300.0Z" fill="#eeeeee" opacity="0.7"/>
<path d="M350.0,60.0 C360.0,42.5 458.3,25.0 480.0,45.0 C501.7,65.0 490.0,162.5 480.0,180.0 C470.0,197.5 441.7,170.0 420.0,150.0 C398.3,130.0 340.0,77.5 350.0,60.0Z" fill="#efefef" opacity="0.6"/>
<path d="M226.0,303.9 C233.2,303.9 247.6,308.7 254.8,313.5 C262.0,318.3 269.2,325.5 269.2,332.7 C269.2,339.9 262.0,349.5 254.8,356.7 C247.6,363.9 235.6,368.7 226.0,375.9 C216.4,383.1 204.4,392.7 197.2,399.9 C190.0,407.1 189.2,416.7 182.8,419.1 C176.4,421.5 165.2,419.9 158.8,414.3 C152.4,408.7 147.9,393.5 144.4,385.5 C140.9,377.5 136.1,371.9 137.7,366.3 C139.3,360.7 145.7,357.5 154.0,351.9 C162.3,346.3 178.0,339.1 187.6,332.7 C197.2,326.3 205.2,318.3 211.6,313.5 C218.0,308.7 218.8,303.9 226.0,303.9Z" fill="#b4b4b4" filter="url(#blr)" opacity="0.9"/>
<path d="M226.0,313.5 C231.6,312.7 245.2,314.3 250.0,318.3 C254.8,322.3 257.2,331.1 254.8,337.5 C252.4,343.9 242.8,351.1 235.6,356.7 C228.4,362.3 219.6,365.5 211.6,371.1 C203.6,376.7 193.2,383.9 187.6,390.3 C182.0,396.7 181.5,406.3 178.0,409.5 C174.5,412.7 169.7,414.3 166.5,409.5 C163.3,404.7 161.7,387.1 158.8,380.7 C155.9,374.3 147.6,375.1 149.2,371.1 C150.8,367.1 160.4,362.3 168.4,356.7 C176.4,351.1 189.2,343.1 197.2,337.5 C205.2,331.9 211.6,327.1 216.4,323.1 C221.2,319.1 220.4,314.3 226.0,313.5Z" fill="#9a9a9a" filter="url(#blr2)" opacity="0.8"/>
<ellipse cx="415" cy="183" rx="40" ry="10" fill="#c8c8c8" filter="url(#blr2)" transform="rotate(12 415 183)"/>
<ellipse cx="372" cy="258" rx="30" ry="9" fill="#c0c0c0" filter="url(#blr2)" transform="rotate(-10 372 258)"/>
<ellipse cx="300" cy="142" rx="12" ry="5" fill="#cfcfcf" filter="url(#blr2)"/>
</g>
<path d="M229.8,314.6 L237.5,313.5 L244.2,314.6 L249.0,319.3 L251.4,325.0 L250.5,330.8 L254.8,334.6 L261.0,334.4 L258.6,338.5 L253.8,341.8 L249.0,346.1 L245.2,349.5 L240.4,351.9 L233.7,350.9 L227.9,349.5 L223.1,352.9 L218.3,358.6 L213.5,364.4 L208.2,367.7 L203.9,367.4 L197.2,369.2 L191.4,372.0 L186.6,375.9 L182.8,378.8 L179.9,383.6 L177.0,389.3 L174.2,395.1 L171.3,398.9 L168.4,402.8 L166.5,407.6 L170.3,413.3 L175.1,412.4 L179.9,409.5 L184.7,408.5 L179.9,406.6 L176.1,404.7 L172.2,400.8 L170.3,396.0 L169.4,391.2 L164.6,388.4 L161.7,383.6 L162.6,377.8 L160.7,374.0 L154.0,374.0 L147.3,374.0 L144.4,371.1 L145.4,368.7 L154.0,366.3 L165.5,363.4 L166.5,365.3 L162.6,371.1 L166.5,374.0 L170.3,375.9 L175.1,373.0 L179.9,366.3 L183.8,360.5 L187.6,356.7 L183.8,352.9 L181.8,349.0 L180.9,345.2 L185.7,343.3 L189.5,341.3 L197.2,338.9 L204.9,336.5 L212.5,333.7 L217.3,329.8 L222.1,324.1 L225.0,318.3Z" fill="#7cd87c" stroke="#000" stroke-width="1.7"/>
<path d="M166.5,337.5 L170.3,335.1 L176.1,334.1 L179.0,335.6 L182.8,338.5 L179.9,340.4 L175.1,341.3 L168.4,340.4Z" fill="#7cd87c" stroke="#000" stroke-width="1.0"/>
<path d="M157.4,334.6 L160.7,333.2 L164.1,333.5 L160.7,335.6 L158.3,336.5Z" fill="#7cd87c" stroke="#000" stroke-width="1.0"/>
<path d="M233.7,356.7 L238.5,355.7 L245.2,350.9 L242.3,356.7 L237.5,358.6" fill="none" stroke="#000" stroke-width="1.0" stroke-linecap="round" stroke-linejoin="round"/>
<rect x="228.9" y="318.3" width="5.8" height="3.8" fill="#ffd000"/>
<rect x="231.7" y="320.2" width="6.7" height="3.8" fill="#ff6000"/>
<rect x="235.6" y="318.3" width="5.8" height="4.8" fill="#501010"/>
<rect x="240.4" y="320.2" width="4.8" height="4.8" fill="#ff3000"/>
<rect x="244.2" y="317.3" width="3.8" height="4.8" fill="#ff8000"/>
<rect x="227.9" y="322.1" width="3.8" height="2.9" fill="#2040ff"/>
<rect x="240.4" y="316.4" width="3.8" height="2.9" fill="#3050ff"/>
<rect x="235.6" y="329.8" width="5.8" height="3.8" fill="#ffd000"/>
<rect x="238.5" y="334.6" width="4.8" height="5.8" fill="#d01010"/>
<rect x="243.3" y="336.5" width="5.8" height="3.8" fill="#0010ff"/>
<rect x="242.3" y="340.4" width="5.8" height="3.8" fill="#ffb000"/>
<rect x="233.7" y="339.4" width="4.8" height="3.8" fill="#80c0ff"/>
<rect x="247.1" y="329.8" width="3.8" height="5.8" fill="#4080ff"/>
<rect x="253.8" y="335.6" width="4.8" height="2.9" fill="#ff8000"/>
<rect x="245.2" y="343.3" width="5.8" height="2.9" fill="#ff4000"/>
<rect x="231.7" y="331.7" width="3.8" height="5.8" fill="#c0d0ff"/>
<rect x="197.2" y="345.2" width="6.7" height="3.8" fill="#ffe000"/>
<rect x="203.0" y="346.1" width="7.7" height="5.8" fill="#ff3000"/>
<rect x="201.0" y="350.9" width="5.8" height="3.8" fill="#ffd000"/>
<rect x="199.1" y="354.8" width="6.7" height="3.8" fill="#1020ff"/>
<rect x="204.9" y="358.6" width="3.8" height="3.8" fill="#0010ff"/>
<rect x="192.4" y="347.1" width="4.8" height="3.8" fill="#4070ff"/>
<rect x="208.7" y="348.1" width="3.8" height="5.8" fill="#ff3000"/>
<rect x="191.4" y="352.9" width="5.8" height="4.8" fill="#c0d0ff"/>
<rect x="211.6" y="343.3" width="5.8" height="5.8" fill="#a0c8ff"/>
<rect x="183.8" y="345.2" width="5.8" height="3.8" fill="#1020e0"/>
<rect x="170.3" y="336.5" width="4.8" height="2.9" fill="#3050ff"/>
<rect x="174.2" y="337.5" width="2.9" height="2.9" fill="#ff8000"/>
<rect x="149.2" y="368.2" width="5.8" height="3.8" fill="#3050ff"/>
<rect x="155.9" y="366.3" width="5.8" height="3.8" fill="#80b0ff"/>
<rect x="146.3" y="370.1" width="3.8" height="2.9" fill="#c0d0ff"/>
<rect x="159.8" y="365.3" width="4.8" height="2.9" fill="#2040ff"/>
<rect x="168.4" y="385.5" width="5.8" height="4.8" fill="#c0d0ff"/>
<rect x="183.8" y="372.0" width="5.8" height="4.8" fill="#a0c8ff"/>
<rect x="174.2" y="379.7" width="4.8" height="3.8" fill="#c0d0ff"/>
<rect x="221.2" y="337.5" width="5.8" height="5.8" fill="#c0d0ff"/>
<rect x="226.0" y="343.3" width="3.8" height="3.8" fill="#909090"/>
<text transform="translate(182.0,397.0) rotate(-55)" font-size="21" fill="#000">250</text>
<ellipse cx="387.4" cy="176.1" rx="4.6" ry="3.6" fill="#c0d8ff" stroke="#000" stroke-width="1.6"/>
<ellipse cx="399.8" cy="177.1" rx="2.4" ry="2" fill="#1a1a1a"/>
<ellipse cx="416.4" cy="181.1" rx="2.2" ry="2.6" fill="#1a1a1a"/>
<ellipse cx="421.4" cy="182.4" rx="2.2" ry="2.6" fill="#1a1a1a"/>
<ellipse cx="426.4" cy="187.7" rx="2.4" ry="3.2" fill="#1a1a1a"/>
<ellipse cx="455.7" cy="187.1" rx="2.2" ry="2.8" fill="#1a1a1a"/>
<ellipse cx="366.5" cy="262.7" rx="3" ry="2.5" fill="#1a1a1a"/>
<ellipse cx="382.4" cy="259.4" rx="2.6" ry="2.4" fill="#1a1a1a"/>
<ellipse cx="256.5" cy="227.7" rx="1.5" ry="1.2" fill="#1a1a1a"/></g>
<g stroke="#000" stroke-width="1.4" fill="none">
<line x1="69.45" y1="40.7" x2="69.45" y2="549.0" stroke-dasharray="3 5.47"/>
<line x1="148.15" y1="40.7" x2="148.15" y2="549.0" stroke-dasharray="3 5.47"/>
<line x1="226.85" y1="40.7" x2="226.85" y2="549.0" stroke-dasharray="3 5.47"/>
<line x1="305.55" y1="40.7" x2="305.55" y2="549.0" stroke-dasharray="3 5.47"/>
<line x1="384.25" y1="40.7" x2="384.25" y2="549.0" stroke-dasharray="3 5.47"/>
<line x1="462.95" y1="40.7" x2="462.95" y2="549.0" stroke-dasharray="3 5.47"/>
<line x1="12.7" y1="70.40" x2="485.8" y2="70.40" stroke-dasharray="3 5.2"/>
<line x1="12.7" y1="154.98" x2="485.8" y2="154.98" stroke-dasharray="3 5.2"/>
<line x1="12.7" y1="239.56" x2="485.8" y2="239.56" stroke-dasharray="3 5.2"/>
<line x1="12.7" y1="324.14" x2="485.8" y2="324.14" stroke-dasharray="3 5.2"/>
<line x1="12.7" y1="408.72" x2="485.8" y2="408.72" stroke-dasharray="3 5.2"/>
<line x1="12.7" y1="493.30" x2="485.8" y2="493.30" stroke-dasharray="3 5.2"/>
</g>
<g stroke="#000" stroke-width="1.2" fill="none" stroke-dasharray="12.3 11.3">
<path d="M13.00,284.74 L27.03,274.19 L41.06,263.69 L55.09,253.24 L69.12,242.85 L83.15,232.52 L97.17,222.24 L111.20,212.01 L125.23,201.84 L139.26,191.72 L153.29,181.65 L167.32,171.64 L181.35,161.68 L195.38,151.78 L209.41,141.93 L223.44,132.14 L237.47,122.40 L251.50,112.72 L265.52,103.09 L279.55,93.51 L293.58,83.99 L307.61,74.52 L321.64,65.10 L335.67,55.74 L349.70,46.44"/>
<path d="M13.20,398.31 L32.89,383.44 L52.58,368.67 L72.26,354.00 L91.95,339.42 L111.64,324.94 L131.32,310.55 L151.01,296.27 L170.70,282.07 L190.39,267.98 L210.07,253.98 L229.76,240.08 L249.45,226.28 L269.14,212.57 L288.82,198.97 L308.51,185.45 L328.20,172.04 L347.89,158.72 L367.57,145.50 L387.26,132.37 L406.95,119.34 L426.64,106.41 L446.32,93.58 L466.01,80.84 L485.70,68.20"/>
</g>
<text transform="translate(57.29,303.00)" font-size="12.6" fill="#000">-118</text>
<text transform="translate(136.02,303.00)" font-size="12.6" fill="#000">-116</text>
<text transform="translate(214.63,303.00)" font-size="12.6" fill="#000">-114</text>
<text transform="translate(293.45,303.00)" font-size="12.6" fill="#000">-112</text>
<text transform="translate(372.09,303.00)" font-size="12.6" fill="#000">-110</text>
<text transform="translate(450.32,303.00)" font-size="12.6" fill="#000">-108</text>
<text transform="translate(239.89,70.40)" font-size="12.6" fill="#000">18</text>
<text transform="translate(239.92,154.98)" font-size="12.6" fill="#000">16</text>
<text transform="translate(239.82,239.56)" font-size="12.6" fill="#000">14</text>
<text transform="translate(239.95,324.14)" font-size="12.6" fill="#000">12</text>
<text transform="translate(239.89,408.72)" font-size="12.6" fill="#000">10</text>
<text transform="translate(243.57,493.30)" font-size="12.6" fill="#000">8</text>
<path d="M247.1,288.1h4.6v4.1h4.3v4.6h-4.3v4.4h-4.6v-4.4h-4.4v-4.6h4.4z" fill="#000"/>
<text transform="translate(43.68,66.00) scale(0.9783,1)" font-size="25.5" fill="#000">85GHz PCT (K)</text>
<text transform="translate(438.00,523.00)" font-size="30.0" fill="#000">(d)</text>
<rect x="495.1" y="40.70" width="8.9" height="8.76" fill="#561a18"/>
<rect x="495.1" y="49.16" width="8.9" height="8.76" fill="#5a1613"/>
<rect x="495.1" y="57.62" width="8.9" height="8.76" fill="#5d130e"/>
<rect x="495.1" y="66.08" width="8.9" height="8.76" fill="#601009"/>
<rect x="495.1" y="74.54" width="8.9" height="8.76" fill="#640c04"/>
<rect x="495.1" y="83.01" width="8.9" height="8.76" fill="#9c0c00"/>
<rect x="495.1" y="91.47" width="8.9" height="8.76" fill="#a60900"/>
<rect x="495.1" y="99.93" width="8.9" height="8.76" fill="#b00600"/>
<rect x="495.1" y="108.39" width="8.9" height="8.76" fill="#ba0300"/>
<rect x="495.1" y="116.85" width="8.9" height="8.76" fill="#c40000"/>
<rect x="495.1" y="125.31" width="8.9" height="8.76" fill="#ff1400"/>
<rect x="495.1" y="133.77" width="8.9" height="8.76" fill="#ff2100"/>
<rect x="495.1" y="142.23" width="8.9" height="8.76" fill="#ff2e00"/>
<rect x="495.1" y="150.69" width="8.9" height="8.76" fill="#ff3b00"/>
<rect x="495.1" y="159.15" width="8.9" height="8.76" fill="#ff4800"/>
<rect x="495.1" y="167.62" width="8.9" height="8.76" fill="#ff7000"/>
<rect x="495.1" y="176.08" width="8.9" height="8.76" fill="#ff7700"/>
<rect x="495.1" y="184.54" width="8.9" height="8.76" fill="#ff7e00"/>
<rect x="495.1" y="193.00" width="8.9" height="8.76" fill="#ff8500"/>
<rect x="495.1" y="201.46" width="8.9" height="8.76" fill="#ff8c00"/>
<rect x="495.1" y="209.92" width="8.9" height="8.76" fill="#ffc800"/>
<rect x="495.1" y="218.38" width="8.9" height="8.76" fill="#ffd600"/>
<rect x="495.1" y="226.84" width="8.9" height="8.76" fill="#ffe400"/>
<rect x="495.1" y="235.30" width="8.9" height="8.76" fill="#fff100"/>
<rect x="495.1" y="243.76" width="8.9" height="8.76" fill="#ffff00"/>
<rect x="495.1" y="252.23" width="8.9" height="8.76" fill="#0000b4"/>
<rect x="495.1" y="260.69" width="8.9" height="8.76" fill="#0000c0"/>
<rect x="495.1" y="269.15" width="8.9" height="8.76" fill="#0000cc"/>
<rect x="495.1" y="277.61" width="8.9" height="8.76" fill="#0000e6"/>
<rect x="495.1" y="286.07" width="8.9" height="8.76" fill="#0000ff"/>
<rect x="495.1" y="294.53" width="8.9" height="8.76" fill="#2828ff"/>
<rect x="495.1" y="302.99" width="8.9" height="8.76" fill="#3c3cff"/>
<rect x="495.1" y="311.45" width="8.9" height="8.76" fill="#4060ff"/>
<rect x="495.1" y="319.91" width="8.9" height="8.76" fill="#4080ff"/>
<rect x="495.1" y="328.37" width="8.9" height="8.76" fill="#40a0ff"/>
<rect x="495.1" y="336.84" width="8.9" height="8.76" fill="#58b4ff"/>
<rect x="495.1" y="345.30" width="8.9" height="8.76" fill="#78c0ff"/>
<rect x="495.1" y="353.76" width="8.9" height="8.76" fill="#98c8ff"/>
<rect x="495.1" y="362.22" width="8.9" height="8.76" fill="#b4ccff"/>
<rect x="495.1" y="370.68" width="8.9" height="8.76" fill="#ccd4ff"/>
<rect x="495.1" y="379.14" width="8.9" height="8.76" fill="#60b460"/>
<rect x="495.1" y="387.60" width="8.9" height="8.76" fill="#68bf68"/>
<rect x="495.1" y="396.06" width="8.9" height="8.76" fill="#70ca70"/>
<rect x="495.1" y="404.52" width="8.9" height="8.76" fill="#78d578"/>
<rect x="495.1" y="412.98" width="8.9" height="8.76" fill="#80e080"/>
<rect x="495.1" y="421.45" width="8.9" height="8.76" fill="#909090"/>
<rect x="495.1" y="429.91" width="8.9" height="8.76" fill="#989898"/>
<rect x="495.1" y="438.37" width="8.9" height="8.76" fill="#a0a0a0"/>
<rect x="495.1" y="446.83" width="8.9" height="8.76" fill="#a8a8a8"/>
<rect x="495.1" y="455.29" width="8.9" height="8.76" fill="#afafaf"/>
<rect x="495.1" y="463.75" width="8.9" height="8.76" fill="#b7b7b7"/>
<rect x="495.1" y="472.21" width="8.9" height="8.76" fill="#bfbfbf"/>
<rect x="495.1" y="480.67" width="8.9" height="8.76" fill="#c7c7c7"/>
<rect x="495.1" y="489.13" width="8.9" height="8.76" fill="#cfcfcf"/>
<rect x="495.1" y="497.59" width="8.9" height="8.76" fill="#d7d7d7"/>
<rect x="495.1" y="506.06" width="8.9" height="8.76" fill="#dedede"/>
<rect x="495.1" y="514.52" width="8.9" height="8.76" fill="#e6e6e6"/>
<rect x="495.1" y="522.98" width="8.9" height="8.76" fill="#eeeeee"/>
<rect x="495.1" y="531.44" width="8.9" height="8.76" fill="#f6f6f6"/>
<line x1="504" y1="91.60" x2="506.5" y2="91.60" stroke="#000" stroke-width="0.9"/>
<text transform="translate(508.20,100.10)" font-size="19.8" fill="#000">111</text>
<line x1="504" y1="142.35" x2="506.5" y2="142.35" stroke="#000" stroke-width="0.9"/>
<text transform="translate(506.77,150.85)" font-size="19.8" fill="#000">132</text>
<line x1="504" y1="193.10" x2="506.5" y2="193.10" stroke="#000" stroke-width="0.9"/>
<text transform="translate(506.72,201.60)" font-size="19.8" fill="#000">153</text>
<line x1="504" y1="243.85" x2="506.5" y2="243.85" stroke="#000" stroke-width="0.9"/>
<text transform="translate(506.57,252.35)" font-size="19.8" fill="#000">174</text>
<line x1="504" y1="294.60" x2="506.5" y2="294.60" stroke="#000" stroke-width="0.9"/>
<text transform="translate(506.67,303.10)" font-size="19.8" fill="#000">195</text>
<line x1="504" y1="345.35" x2="506.5" y2="345.35" stroke="#000" stroke-width="0.9"/>
<text transform="translate(506.97,353.85)" font-size="19.8" fill="#000">216</text>
<line x1="504" y1="396.10" x2="506.5" y2="396.10" stroke="#000" stroke-width="0.9"/>
<text transform="translate(507.02,404.60)" font-size="19.8" fill="#000">237</text>
<line x1="504" y1="446.85" x2="506.5" y2="446.85" stroke="#000" stroke-width="0.9"/>
<text transform="translate(506.92,455.35)" font-size="19.8" fill="#000">258</text>
<line x1="504" y1="497.60" x2="506.5" y2="497.60" stroke="#000" stroke-width="0.9"/>
<text transform="translate(506.97,506.10)" font-size="19.8" fill="#000">279</text>
<line x1="504" y1="548.35" x2="506.5" y2="548.35" stroke="#000" stroke-width="0.9"/>
<text transform="translate(507.02,556.85)" font-size="19.8" fill="#000">300</text>
</g>
<g transform="translate(590.5,590.5)">
<g clip-path="url(#pc)"><defs><clipPath id="swe"><path d="M12.5,142.4 L67.8,101.8 L112.9,71.3 L152.5,40.5 L486.0,40.5 L486.0,212.0 L445.3,239.2 L384.4,278.7 L338.1,309.2 L289.5,343.1 L253.2,369.5 L178.7,423.7 L89.5,489.2 L13.0,548.8 L13.0,512.0 L16.0,490.0 L17.0,460.0 L14.0,426.0Z"/></clipPath></defs>
<path d="M12.5,142.4 L67.8,101.8 L112.9,71.3 L152.5,40.5 L486.0,40.5 L486.0,212.0 L445.3,239.2 L384.4,278.7 L338.1,309.2 L289.5,343.1 L253.2,369.5 L178.7,423.7 L89.5,489.2 L13.0,548.8 L13.0,512.0 L16.0,490.0 L17.0,460.0 L14.0,426.0Z" fill="#72ca72"/>
<g clip-path="url(#swe)">
<path d="M12.8,299.3 C27.3,271.6 62.8,243.8 99.4,216.0 C136.1,188.3 188.3,157.7 232.7,132.8 C277.1,107.8 323.8,81.1 366.0,66.1 C408.2,51.1 465.9,37.3 485.9,42.8 C505.9,48.4 505.9,85.6 485.9,99.4 C465.9,113.3 408.2,109.4 366.0,126.1 C323.8,142.8 277.1,170.5 232.7,199.4 C188.3,228.3 136.1,268.8 99.4,299.3 C62.8,329.9 27.3,382.6 12.8,382.6 C-1.6,382.6 -1.6,327.1 12.8,299.3Z" fill="#6ac06a" opacity="0.5"/>
<path d="M12.8,432.6 C27.3,413.2 73.9,393.7 99.4,382.6 C125.0,371.5 166.1,354.9 166.1,366.0 C166.1,377.1 125.0,427.0 99.4,449.2 C73.9,471.5 27.3,502.0 12.8,499.2 C-1.6,496.4 -1.6,452.0 12.8,432.6Z" fill="#7ad27a" opacity="0.5"/>
<path d="M369.3,40.5 L485.2,40.5 L485.2,67.8 L472.6,71.1 L459.2,66.1 L442.6,67.8 L425.9,62.8 L412.6,71.1 L402.6,61.1 L385.9,54.5 L372.6,47.8Z" fill="#9a9a9a"/>
<rect x="389.9" y="74.1" width="5.0" height="5.0" fill="#9a9a9a"/>
<rect x="419.8" y="76.2" width="3.0" height="4.0" fill="#9a9a9a"/>
<rect x="392.6" y="56.6" width="6.7" height="5.0" fill="#9a9a9a"/>
<rect x="465.7" y="70.3" width="4.0" height="3.0" fill="#9a9a9a"/>
<rect x="444.8" y="46.9" width="3.0" height="4.0" fill="#9a9a9a"/>
<rect x="458.5" y="90.0" width="5.0" height="4.0" fill="#9a9a9a"/>
<rect x="408.9" y="87.9" width="6.7" height="4.0" fill="#9a9a9a"/>
<rect x="452.0" y="76.0" width="4.0" height="4.0" fill="#9a9a9a"/>
<rect x="372.1" y="51.0" width="4.0" height="4.0" fill="#9a9a9a"/>
<rect x="482.0" y="68.0" width="5.0" height="4.0" fill="#9a9a9a"/>
<rect x="424.0" y="65.2" width="5.0" height="5.0" fill="#9a9a9a"/>
<rect x="433.9" y="76.4" width="5.0" height="5.0" fill="#9a9a9a"/>
<rect x="475.7" y="44.9" width="5.0" height="5.0" fill="#9a9a9a"/>
<rect x="444.8" y="52.5" width="5.0" height="5.0" fill="#9a9a9a"/>
<rect x="474.3" y="75.5" width="4.0" height="5.0" fill="#9a9a9a"/>
<rect x="465.1" y="75.8" width="5.0" height="3.0" fill="#9a9a9a"/>
<rect x="485.1" y="48.3" width="3.0" height="4.0" fill="#9a9a9a"/>
<rect x="473.4" y="44.4" width="6.7" height="4.0" fill="#9a9a9a"/>
<rect x="470.3" y="45.8" width="3.0" height="4.0" fill="#9a9a9a"/>
<rect x="450.7" y="62.1" width="5.0" height="5.0" fill="#9a9a9a"/>
<rect x="389.7" y="45.3" width="3.0" height="3.0" fill="#9a9a9a"/>
<rect x="373.5" y="73.6" width="4.0" height="4.0" fill="#9a9a9a"/>
<rect x="396.7" y="58.2" width="3.0" height="4.0" fill="#9a9a9a"/>
<rect x="473.3" y="64.7" width="6.7" height="5.0" fill="#9a9a9a"/>
<rect x="446.0" y="49.1" width="5.0" height="4.0" fill="#9a9a9a"/>
<rect x="440.1" y="83.8" width="5.0" height="4.0" fill="#9a9a9a"/>
<rect x="483.6" y="72.8" width="5.0" height="3.0" fill="#9a9a9a"/>
<rect x="399.7" y="64.6" width="4.0" height="3.0" fill="#9a9a9a"/>
<rect x="440.0" y="62.1" width="5.0" height="5.0" fill="#9a9a9a"/>
<rect x="475.9" y="77.8" width="5.0" height="5.0" fill="#9a9a9a"/>
<rect x="421.8" y="76.7" width="3.0" height="4.0" fill="#9a9a9a"/>
<rect x="391.6" y="69.2" width="5.0" height="3.0" fill="#9a9a9a"/>
<rect x="405.9" y="61.0" width="5.0" height="5.0" fill="#9a9a9a"/>
<rect x="393.2" y="87.9" width="3.0" height="3.0" fill="#9a9a9a"/>
<rect x="482.8" y="82.0" width="4.0" height="4.0" fill="#9a9a9a"/>
<rect x="423.1" y="80.3" width="5.0" height="3.0" fill="#9a9a9a"/>
<rect x="401.3" y="81.7" width="3.0" height="3.0" fill="#9a9a9a"/>
<rect x="463.6" y="150.5" width="4.0" height="3.0" fill="#9a9a9a"/>
<rect x="440.0" y="195.9" width="6.7" height="4.0" fill="#9a9a9a"/>
<rect x="432.2" y="139.5" width="4.0" height="4.0" fill="#9a9a9a"/>
<rect x="429.3" y="156.3" width="3.0" height="5.0" fill="#9a9a9a"/>
<rect x="440.6" y="140.4" width="5.0" height="5.0" fill="#9a9a9a"/>
<rect x="472.0" y="155.5" width="5.0" height="5.0" fill="#9a9a9a"/>
<rect x="445.6" y="171.3" width="6.7" height="3.0" fill="#9a9a9a"/>
<rect x="480.8" y="143.2" width="3.0" height="4.0" fill="#9a9a9a"/>
<rect x="485.5" y="172.9" width="4.0" height="3.0" fill="#9a9a9a"/>
<rect x="462.8" y="181.9" width="5.0" height="5.0" fill="#9a9a9a"/>
<rect x="440.3" y="150.8" width="3.0" height="5.0" fill="#9a9a9a"/>
<rect x="484.4" y="139.4" width="4.0" height="3.0" fill="#9a9a9a"/>
<rect x="452.3" y="147.8" width="6.7" height="5.0" fill="#9a9a9a"/>
<rect x="424.9" y="180.2" width="4.0" height="5.0" fill="#9a9a9a"/>
<rect x="484.4" y="184.3" width="3.0" height="4.0" fill="#9a9a9a"/>
<rect x="431.9" y="139.6" width="3.0" height="3.0" fill="#9a9a9a"/>
<rect x="433.2" y="155.8" width="4.0" height="3.0" fill="#9a9a9a"/>
<rect x="450.5" y="187.5" width="6.7" height="3.0" fill="#9a9a9a"/>
<rect x="469.4" y="153.1" width="6.7" height="3.0" fill="#9a9a9a"/>
<rect x="449.5" y="209.4" width="3.0" height="3.0" fill="#9a9a9a"/>
<rect x="470.7" y="131.5" width="3.0" height="3.0" fill="#9a9a9a"/>
<rect x="450.2" y="130.1" width="3.0" height="5.0" fill="#9a9a9a"/>
<rect x="451.6" y="160.3" width="5.0" height="3.0" fill="#9a9a9a"/>
<rect x="441.0" y="195.6" width="5.0" height="4.0" fill="#9a9a9a"/>
<rect x="435.0" y="231.9" width="6.7" height="3.0" fill="#9a9a9a"/>
<rect x="350.4" y="173.4" width="6.7" height="3.0" fill="#9a9a9a"/>
<rect x="375.2" y="174.7" width="6.7" height="5.0" fill="#9a9a9a"/>
<rect x="380.0" y="191.3" width="3.0" height="5.0" fill="#9a9a9a"/>
<rect x="393.3" y="175.0" width="6.7" height="5.0" fill="#9a9a9a"/>
<rect x="361.0" y="204.9" width="6.7" height="4.0" fill="#9a9a9a"/>
<rect x="344.2" y="180.5" width="5.0" height="5.0" fill="#9a9a9a"/>
<rect x="376.5" y="200.0" width="4.0" height="4.0" fill="#9a9a9a"/>
<rect x="350.5" y="174.2" width="5.0" height="4.0" fill="#9a9a9a"/>
<rect x="128.3" y="427.4" width="3.0" height="5.0" fill="#9a9a9a"/>
<rect x="116.0" y="455.5" width="3.0" height="5.0" fill="#9a9a9a"/>
<rect x="114.4" y="449.7" width="4.0" height="4.0" fill="#9a9a9a"/>
<rect x="54.0" y="425.6" width="3.0" height="5.0" fill="#9a9a9a"/>
<rect x="129.2" y="431.1" width="3.0" height="4.0" fill="#9a9a9a"/>
<rect x="125.7" y="427.4" width="3.0" height="5.0" fill="#9a9a9a"/>
<rect x="93.3" y="463.8" width="5.0" height="5.0" fill="#9a9a9a"/>
<rect x="76.9" y="425.4" width="4.0" height="3.0" fill="#9a9a9a"/>
<rect x="99.8" y="426.1" width="3.0" height="5.0" fill="#9a9a9a"/>
<rect x="79.1" y="455.5" width="3.0" height="3.0" fill="#9a9a9a"/>
<rect x="90.8" y="464.1" width="6.7" height="4.0" fill="#9a9a9a"/>
<rect x="83.0" y="444.9" width="5.0" height="5.0" fill="#9a9a9a"/>
<rect x="87.6" y="425.0" width="4.0" height="4.0" fill="#9a9a9a"/>
<rect x="87.3" y="455.7" width="6.7" height="3.0" fill="#9a9a9a"/>
<rect x="63.4" y="425.8" width="6.7" height="5.0" fill="#9a9a9a"/>
<rect x="96.5" y="447.8" width="4.0" height="3.0" fill="#9a9a9a"/>
<rect x="74.0" y="432.4" width="5.0" height="3.0" fill="#9a9a9a"/>
<rect x="130.0" y="439.2" width="5.0" height="4.0" fill="#9a9a9a"/>
<rect x="122.3" y="432.5" width="5.0" height="3.0" fill="#9a9a9a"/>
<rect x="78.9" y="468.8" width="4.0" height="4.0" fill="#9a9a9a"/>
<rect x="103.9" y="449.4" width="3.0" height="4.0" fill="#9a9a9a"/>
<rect x="139.3" y="424.3" width="6.7" height="5.0" fill="#9a9a9a"/>
<rect x="129.3" y="422.7" width="4.0" height="3.0" fill="#9a9a9a"/>
<rect x="56.2" y="433.5" width="5.0" height="3.0" fill="#9a9a9a"/>
<rect x="62.3" y="459.1" width="3.0" height="4.0" fill="#9a9a9a"/>
<rect x="65.2" y="422.6" width="4.0" height="4.0" fill="#9a9a9a"/>
<rect x="58.2" y="470.3" width="3.0" height="3.0" fill="#9a9a9a"/>
<rect x="73.7" y="477.6" width="3.0" height="4.0" fill="#9a9a9a"/>
<rect x="90.7" y="466.2" width="5.0" height="3.0" fill="#9a9a9a"/>
<rect x="52.6" y="440.7" width="6.7" height="4.0" fill="#9a9a9a"/>
<rect x="57.0" y="460.5" width="6.7" height="4.0" fill="#9a9a9a"/>
<rect x="61.3" y="439.9" width="5.0" height="3.0" fill="#9a9a9a"/>
<rect x="109.8" y="426.9" width="5.0" height="3.0" fill="#9a9a9a"/>
<rect x="97.4" y="464.1" width="5.0" height="4.0" fill="#9a9a9a"/>
<rect x="76.6" y="462.5" width="5.0" height="3.0" fill="#9a9a9a"/>
<rect x="110.5" y="453.7" width="3.0" height="5.0" fill="#9a9a9a"/>
<rect x="94.4" y="442.1" width="5.0" height="5.0" fill="#9a9a9a"/>
<rect x="63.4" y="443.2" width="6.7" height="3.0" fill="#9a9a9a"/>
<rect x="59.7" y="455.2" width="5.0" height="5.0" fill="#9a9a9a"/>
<rect x="99.9" y="460.7" width="6.7" height="4.0" fill="#9a9a9a"/>
<rect x="78.1" y="430.9" width="3.0" height="3.0" fill="#9a9a9a"/>
<rect x="82.3" y="436.6" width="6.7" height="3.0" fill="#9a9a9a"/>
<rect x="128.5" y="422.4" width="5.0" height="3.0" fill="#9a9a9a"/>
<rect x="112.5" y="452.3" width="5.0" height="4.0" fill="#9a9a9a"/>
<rect x="56.2" y="451.3" width="3.0" height="3.0" fill="#9a9a9a"/>
<rect x="74.3" y="426.1" width="3.0" height="5.0" fill="#9a9a9a"/>
<rect x="66.6" y="431.7" width="6.7" height="5.0" fill="#9a9a9a"/>
<rect x="63.1" y="445.0" width="4.0" height="5.0" fill="#9a9a9a"/>
<rect x="46.7" y="517.6" width="4.0" height="4.0" fill="#9a9a9a"/>
<rect x="36.7" y="499.3" width="6.7" height="4.0" fill="#9a9a9a"/>
<rect x="73.4" y="505.3" width="5.0" height="5.0" fill="#9a9a9a"/>
<rect x="44.8" y="515.0" width="5.0" height="5.0" fill="#9a9a9a"/>
<rect x="44.0" y="519.8" width="3.0" height="3.0" fill="#9a9a9a"/>
<rect x="44.5" y="514.6" width="6.7" height="3.0" fill="#9a9a9a"/>
<rect x="25.6" y="515.0" width="3.0" height="5.0" fill="#9a9a9a"/>
<rect x="20.4" y="498.6" width="4.0" height="3.0" fill="#9a9a9a"/>
<rect x="42.9" y="485.6" width="3.0" height="3.0" fill="#9a9a9a"/>
<rect x="36.1" y="495.3" width="3.0" height="4.0" fill="#9a9a9a"/>
<rect x="57.3" y="488.7" width="3.0" height="5.0" fill="#9a9a9a"/>
<rect x="76.5" y="493.4" width="3.0" height="3.0" fill="#9a9a9a"/>
<rect x="44.0" y="487.0" width="3.0" height="4.0" fill="#9a9a9a"/>
<rect x="18.3" y="493.1" width="4.0" height="4.0" fill="#9a9a9a"/>
<rect x="44.8" y="526.3" width="6.7" height="3.0" fill="#9a9a9a"/>
<rect x="54.4" y="500.0" width="6.7" height="4.0" fill="#9a9a9a"/>
<rect x="61.2" y="506.5" width="4.0" height="4.0" fill="#9a9a9a"/>
<rect x="36.6" y="504.4" width="5.0" height="5.0" fill="#9a9a9a"/>
<rect x="64.2" y="497.0" width="5.0" height="3.0" fill="#9a9a9a"/>
<rect x="23.4" y="481.2" width="6.7" height="5.0" fill="#9a9a9a"/>
<rect x="24.0" y="481.6" width="3.0" height="5.0" fill="#9a9a9a"/>
<rect x="24.0" y="512.4" width="3.0" height="3.0" fill="#9a9a9a"/>
<rect x="38.8" y="500.9" width="3.0" height="5.0" fill="#9a9a9a"/>
<rect x="58.5" y="495.7" width="3.0" height="4.0" fill="#9a9a9a"/>
<rect x="69.2" y="495.8" width="6.7" height="4.0" fill="#9a9a9a"/>
<rect x="25.4" y="501.9" width="3.0" height="4.0" fill="#9a9a9a"/>
<rect x="64.4" y="499.1" width="6.7" height="4.0" fill="#9a9a9a"/>
<rect x="278.6" y="99.6" width="4.2" height="3.6" fill="#c8d0ff"/>
<rect x="299.6" y="99.6" width="4.2" height="3.6" fill="#c8d0ff"/>
<rect x="295.4" y="106.8" width="4.2" height="3.6" fill="#c8d0ff"/>
<rect x="261.8" y="114.0" width="4.2" height="3.6" fill="#c8d0ff"/>
<rect x="312.2" y="114.0" width="4.2" height="3.6" fill="#c8d0ff"/>
<rect x="219.8" y="117.6" width="4.2" height="3.6" fill="#c8d0ff"/>
<rect x="308.0" y="117.6" width="4.2" height="3.6" fill="#c8d0ff"/>
<rect x="316.4" y="117.6" width="4.2" height="3.6" fill="#c8d0ff"/>
<rect x="303.8" y="121.2" width="4.2" height="3.6" fill="#c8d0ff"/>
<rect x="203.0" y="124.8" width="4.2" height="3.6" fill="#c8d0ff"/>
<rect x="215.6" y="124.8" width="4.2" height="3.6" fill="#c8d0ff"/>
<rect x="232.4" y="124.8" width="4.2" height="3.6" fill="#c8d0ff"/>
<rect x="211.4" y="128.4" width="8.4" height="3.6" fill="#c8d0ff"/>
<rect x="224.0" y="128.4" width="4.2" height="3.6" fill="#c8d0ff"/>
<rect x="236.6" y="132.0" width="4.2" height="3.6" fill="#c8d0ff"/>
<rect x="312.2" y="132.0" width="4.2" height="3.6" fill="#c8d0ff"/>
<rect x="257.6" y="135.6" width="4.2" height="3.6" fill="#c8d0ff"/>
<rect x="303.8" y="135.6" width="8.4" height="3.6" fill="#c8d0ff"/>
<rect x="177.8" y="139.2" width="4.2" height="3.6" fill="#c8d0ff"/>
<rect x="245.0" y="142.8" width="4.2" height="3.6" fill="#c8d0ff"/>
<rect x="119.0" y="146.4" width="4.2" height="3.6" fill="#c8d0ff"/>
<rect x="182.0" y="146.4" width="4.2" height="3.6" fill="#c8d0ff"/>
<rect x="207.2" y="146.4" width="4.2" height="3.6" fill="#c8d0ff"/>
<rect x="148.4" y="150.0" width="4.2" height="3.6" fill="#c8d0ff"/>
<rect x="211.4" y="150.0" width="4.2" height="3.6" fill="#c8d0ff"/>
<rect x="219.8" y="150.0" width="4.2" height="3.6" fill="#c8d0ff"/>
<rect x="282.8" y="150.0" width="4.2" height="3.6" fill="#c8d0ff"/>
<rect x="156.8" y="153.6" width="4.2" height="3.6" fill="#c8d0ff"/>
<rect x="228.2" y="153.6" width="4.2" height="3.6" fill="#c8d0ff"/>
<rect x="236.6" y="153.6" width="4.2" height="3.6" fill="#c8d0ff"/>
<rect x="98.0" y="157.2" width="4.2" height="3.6" fill="#c8d0ff"/>
<rect x="127.4" y="157.2" width="4.2" height="3.6" fill="#c8d0ff"/>
<rect x="236.6" y="157.2" width="4.2" height="3.6" fill="#c8d0ff"/>
<rect x="110.6" y="160.8" width="4.2" height="3.6" fill="#c8d0ff"/>
<rect x="131.6" y="160.8" width="4.2" height="3.6" fill="#c8d0ff"/>
<rect x="165.2" y="160.8" width="4.2" height="3.6" fill="#c8d0ff"/>
<rect x="173.6" y="160.8" width="4.2" height="3.6" fill="#c8d0ff"/>
<rect x="186.2" y="160.8" width="4.2" height="3.6" fill="#c8d0ff"/>
<rect x="266.0" y="160.8" width="4.2" height="3.6" fill="#c8d0ff"/>
<rect x="89.6" y="164.4" width="4.2" height="3.6" fill="#c8d0ff"/>
<rect x="127.4" y="164.4" width="4.2" height="3.6" fill="#c8d0ff"/>
<rect x="182.0" y="164.4" width="4.2" height="3.6" fill="#c8d0ff"/>
<rect x="240.8" y="164.4" width="4.2" height="3.6" fill="#c8d0ff"/>
<rect x="93.8" y="168.0" width="4.2" height="3.6" fill="#c8d0ff"/>
<rect x="106.4" y="168.0" width="4.2" height="3.6" fill="#c8d0ff"/>
<rect x="119.0" y="168.0" width="4.2" height="3.6" fill="#c8d0ff"/>
<rect x="169.4" y="168.0" width="8.4" height="3.6" fill="#c8d0ff"/>
<rect x="207.2" y="168.0" width="4.2" height="3.6" fill="#c8d0ff"/>
<rect x="219.8" y="168.0" width="4.2" height="3.6" fill="#c8d0ff"/>
<rect x="72.8" y="171.6" width="8.4" height="3.6" fill="#c8d0ff"/>
<rect x="131.6" y="171.6" width="4.2" height="3.6" fill="#c8d0ff"/>
<rect x="148.4" y="171.6" width="4.2" height="3.6" fill="#c8d0ff"/>
<rect x="165.2" y="171.6" width="4.2" height="3.6" fill="#c8d0ff"/>
<rect x="236.6" y="171.6" width="4.2" height="3.6" fill="#c8d0ff"/>
<rect x="77.0" y="175.2" width="4.2" height="3.6" fill="#c8d0ff"/>
<rect x="98.0" y="175.2" width="4.2" height="3.6" fill="#c8d0ff"/>
<rect x="110.6" y="175.2" width="4.2" height="3.6" fill="#c8d0ff"/>
<rect x="169.4" y="175.2" width="4.2" height="3.6" fill="#c8d0ff"/>
<rect x="186.2" y="175.2" width="4.2" height="3.6" fill="#c8d0ff"/>
<rect x="68.6" y="178.8" width="4.2" height="3.6" fill="#c8d0ff"/>
<rect x="81.2" y="178.8" width="8.4" height="3.6" fill="#c8d0ff"/>
<rect x="156.8" y="178.8" width="4.2" height="3.6" fill="#c8d0ff"/>
<rect x="215.6" y="178.8" width="4.2" height="3.6" fill="#c8d0ff"/>
<rect x="240.8" y="178.8" width="4.2" height="3.6" fill="#c8d0ff"/>
<rect x="43.4" y="182.4" width="4.2" height="3.6" fill="#c8d0ff"/>
<rect x="64.4" y="182.4" width="8.4" height="3.6" fill="#c8d0ff"/>
<rect x="211.4" y="182.4" width="4.2" height="3.6" fill="#c8d0ff"/>
<rect x="106.4" y="186.0" width="4.2" height="3.6" fill="#c8d0ff"/>
<rect x="140.0" y="186.0" width="4.2" height="3.6" fill="#c8d0ff"/>
<rect x="177.8" y="186.0" width="4.2" height="3.6" fill="#c8d0ff"/>
<rect x="47.6" y="189.6" width="4.2" height="3.6" fill="#c8d0ff"/>
<rect x="85.4" y="189.6" width="4.2" height="3.6" fill="#c8d0ff"/>
<rect x="161.0" y="189.6" width="4.2" height="3.6" fill="#c8d0ff"/>
<rect x="173.6" y="189.6" width="4.2" height="3.6" fill="#c8d0ff"/>
<rect x="186.2" y="189.6" width="4.2" height="3.6" fill="#c8d0ff"/>
<rect x="203.0" y="189.6" width="4.2" height="3.6" fill="#c8d0ff"/>
<rect x="47.6" y="193.2" width="4.2" height="3.6" fill="#c8d0ff"/>
<rect x="110.6" y="193.2" width="4.2" height="3.6" fill="#c8d0ff"/>
<rect x="194.6" y="193.2" width="4.2" height="3.6" fill="#c8d0ff"/>
<rect x="56.0" y="196.8" width="4.2" height="3.6" fill="#c8d0ff"/>
<rect x="85.4" y="196.8" width="4.2" height="3.6" fill="#c8d0ff"/>
<rect x="156.8" y="196.8" width="4.2" height="3.6" fill="#c8d0ff"/>
<rect x="194.6" y="196.8" width="4.2" height="3.6" fill="#c8d0ff"/>
<rect x="35.0" y="200.4" width="8.4" height="3.6" fill="#c8d0ff"/>
<rect x="60.2" y="200.4" width="4.2" height="3.6" fill="#c8d0ff"/>
<rect x="102.2" y="200.4" width="4.2" height="3.6" fill="#c8d0ff"/>
<rect x="173.6" y="200.4" width="8.4" height="3.6" fill="#c8d0ff"/>
<rect x="228.2" y="200.4" width="4.2" height="3.6" fill="#c8d0ff"/>
<rect x="47.6" y="204.0" width="4.2" height="3.6" fill="#c8d0ff"/>
<rect x="64.4" y="204.0" width="4.2" height="3.6" fill="#c8d0ff"/>
<rect x="98.0" y="204.0" width="4.2" height="3.6" fill="#c8d0ff"/>
<rect x="119.0" y="204.0" width="4.2" height="3.6" fill="#c8d0ff"/>
<rect x="140.0" y="204.0" width="4.2" height="3.6" fill="#c8d0ff"/>
<rect x="182.0" y="204.0" width="4.2" height="3.6" fill="#c8d0ff"/>
<rect x="190.4" y="204.0" width="4.2" height="3.6" fill="#c8d0ff"/>
<rect x="203.0" y="204.0" width="4.2" height="3.6" fill="#c8d0ff"/>
<rect x="39.2" y="207.6" width="4.2" height="3.6" fill="#c8d0ff"/>
<rect x="47.6" y="207.6" width="4.2" height="3.6" fill="#c8d0ff"/>
<rect x="81.2" y="207.6" width="4.2" height="3.6" fill="#c8d0ff"/>
<rect x="114.8" y="207.6" width="4.2" height="3.6" fill="#c8d0ff"/>
<rect x="127.4" y="207.6" width="4.2" height="3.6" fill="#c8d0ff"/>
<rect x="30.8" y="211.2" width="4.2" height="3.6" fill="#c8d0ff"/>
<rect x="56.0" y="211.2" width="4.2" height="3.6" fill="#c8d0ff"/>
<rect x="68.6" y="211.2" width="4.2" height="3.6" fill="#c8d0ff"/>
<rect x="236.6" y="211.2" width="4.2" height="3.6" fill="#c8d0ff"/>
<rect x="18.2" y="214.8" width="4.2" height="3.6" fill="#c8d0ff"/>
<rect x="93.8" y="214.8" width="4.2" height="3.6" fill="#c8d0ff"/>
<rect x="119.0" y="214.8" width="4.2" height="3.6" fill="#c8d0ff"/>
<rect x="135.8" y="214.8" width="4.2" height="3.6" fill="#c8d0ff"/>
<rect x="148.4" y="214.8" width="4.2" height="3.6" fill="#c8d0ff"/>
<rect x="177.8" y="214.8" width="4.2" height="3.6" fill="#c8d0ff"/>
<rect x="198.8" y="214.8" width="4.2" height="3.6" fill="#c8d0ff"/>
<rect x="245.0" y="214.8" width="4.2" height="3.6" fill="#c8d0ff"/>
<rect x="253.4" y="214.8" width="4.2" height="3.6" fill="#c8d0ff"/>
<rect x="35.0" y="218.4" width="4.2" height="3.6" fill="#c8d0ff"/>
<rect x="64.4" y="218.4" width="4.2" height="3.6" fill="#c8d0ff"/>
<rect x="93.8" y="218.4" width="8.4" height="3.6" fill="#c8d0ff"/>
<rect x="127.4" y="218.4" width="4.2" height="3.6" fill="#c8d0ff"/>
<rect x="135.8" y="218.4" width="4.2" height="3.6" fill="#c8d0ff"/>
<rect x="152.6" y="218.4" width="4.2" height="3.6" fill="#c8d0ff"/>
<rect x="161.0" y="218.4" width="8.4" height="3.6" fill="#c8d0ff"/>
<rect x="173.6" y="218.4" width="12.6" height="3.6" fill="#c8d0ff"/>
<rect x="190.4" y="218.4" width="4.2" height="3.6" fill="#c8d0ff"/>
<rect x="198.8" y="218.4" width="4.2" height="3.6" fill="#c8d0ff"/>
<rect x="47.6" y="222.0" width="8.4" height="3.6" fill="#c8d0ff"/>
<rect x="72.8" y="222.0" width="4.2" height="3.6" fill="#c8d0ff"/>
<rect x="119.0" y="222.0" width="8.4" height="3.6" fill="#c8d0ff"/>
<rect x="131.6" y="222.0" width="8.4" height="3.6" fill="#c8d0ff"/>
<rect x="144.2" y="222.0" width="4.2" height="3.6" fill="#c8d0ff"/>
<rect x="152.6" y="222.0" width="8.4" height="3.6" fill="#c8d0ff"/>
<rect x="165.2" y="222.0" width="8.4" height="3.6" fill="#c8d0ff"/>
<rect x="177.8" y="222.0" width="4.2" height="3.6" fill="#c8d0ff"/>
<rect x="186.2" y="222.0" width="8.4" height="3.6" fill="#c8d0ff"/>
<rect x="211.4" y="222.0" width="4.2" height="3.6" fill="#c8d0ff"/>
<rect x="261.8" y="222.0" width="4.2" height="3.6" fill="#c8d0ff"/>
<rect x="26.6" y="225.6" width="4.2" height="3.6" fill="#c8d0ff"/>
<rect x="123.2" y="225.6" width="4.2" height="3.6" fill="#c8d0ff"/>
<rect x="144.2" y="225.6" width="8.4" height="3.6" fill="#c8d0ff"/>
<rect x="156.8" y="225.6" width="4.2" height="3.6" fill="#c8d0ff"/>
<rect x="173.6" y="225.6" width="12.6" height="3.6" fill="#c8d0ff"/>
<rect x="190.4" y="225.6" width="8.4" height="3.6" fill="#c8d0ff"/>
<rect x="203.0" y="225.6" width="4.2" height="3.6" fill="#c8d0ff"/>
<rect x="211.4" y="225.6" width="4.2" height="3.6" fill="#c8d0ff"/>
<rect x="219.8" y="225.6" width="4.2" height="3.6" fill="#c8d0ff"/>
<rect x="236.6" y="225.6" width="8.4" height="3.6" fill="#c8d0ff"/>
<rect x="249.2" y="225.6" width="4.2" height="3.6" fill="#c8d0ff"/>
<rect x="26.6" y="229.2" width="4.2" height="3.6" fill="#c8d0ff"/>
<rect x="47.6" y="229.2" width="4.2" height="3.6" fill="#c8d0ff"/>
<rect x="119.0" y="229.2" width="12.6" height="3.6" fill="#c8d0ff"/>
<rect x="135.8" y="229.2" width="21.0" height="3.6" fill="#c8d0ff"/>
<rect x="161.0" y="229.2" width="12.6" height="3.6" fill="#c8d0ff"/>
<rect x="177.8" y="229.2" width="4.2" height="3.6" fill="#c8d0ff"/>
<rect x="207.2" y="229.2" width="8.4" height="3.6" fill="#c8d0ff"/>
<rect x="236.6" y="229.2" width="4.2" height="3.6" fill="#c8d0ff"/>
<rect x="257.6" y="229.2" width="4.2" height="3.6" fill="#c8d0ff"/>
<rect x="39.2" y="232.8" width="4.2" height="3.6" fill="#c8d0ff"/>
<rect x="64.4" y="232.8" width="4.2" height="3.6" fill="#c8d0ff"/>
<rect x="93.8" y="232.8" width="4.2" height="3.6" fill="#c8d0ff"/>
<rect x="114.8" y="232.8" width="12.6" height="3.6" fill="#c8d0ff"/>
<rect x="135.8" y="232.8" width="8.4" height="3.6" fill="#c8d0ff"/>
<rect x="148.4" y="232.8" width="4.2" height="3.6" fill="#c8d0ff"/>
<rect x="156.8" y="232.8" width="12.6" height="3.6" fill="#c8d0ff"/>
<rect x="173.6" y="232.8" width="8.4" height="3.6" fill="#c8d0ff"/>
<rect x="194.6" y="232.8" width="8.4" height="3.6" fill="#c8d0ff"/>
<rect x="207.2" y="232.8" width="21.0" height="3.6" fill="#c8d0ff"/>
<rect x="232.4" y="232.8" width="4.2" height="3.6" fill="#c8d0ff"/>
<rect x="278.6" y="232.8" width="4.2" height="3.6" fill="#c8d0ff"/>
<rect x="102.2" y="236.4" width="4.2" height="3.6" fill="#c8d0ff"/>
<rect x="114.8" y="236.4" width="8.4" height="3.6" fill="#c8d0ff"/>
<rect x="148.4" y="236.4" width="8.4" height="3.6" fill="#c8d0ff"/>
<rect x="165.2" y="236.4" width="4.2" height="3.6" fill="#c8d0ff"/>
<rect x="173.6" y="236.4" width="4.2" height="3.6" fill="#c8d0ff"/>
<rect x="182.0" y="236.4" width="8.4" height="3.6" fill="#c8d0ff"/>
<rect x="198.8" y="236.4" width="4.2" height="3.6" fill="#c8d0ff"/>
<rect x="219.8" y="236.4" width="8.4" height="3.6" fill="#c8d0ff"/>
<rect x="253.4" y="236.4" width="4.2" height="3.6" fill="#c8d0ff"/>
<rect x="282.8" y="236.4" width="4.2" height="3.6" fill="#c8d0ff"/>
<rect x="85.4" y="240.0" width="8.4" height="3.6" fill="#c8d0ff"/>
<rect x="102.2" y="240.0" width="8.4" height="3.6" fill="#c8d0ff"/>
<rect x="119.0" y="240.0" width="4.2" height="3.6" fill="#c8d0ff"/>
<rect x="127.4" y="240.0" width="8.4" height="3.6" fill="#c8d0ff"/>
<rect x="140.0" y="240.0" width="4.2" height="3.6" fill="#c8d0ff"/>
<rect x="148.4" y="240.0" width="4.2" height="3.6" fill="#c8d0ff"/>
<rect x="169.4" y="240.0" width="8.4" height="3.6" fill="#c8d0ff"/>
<rect x="182.0" y="240.0" width="4.2" height="3.6" fill="#c8d0ff"/>
<rect x="194.6" y="240.0" width="4.2" height="3.6" fill="#c8d0ff"/>
<rect x="215.6" y="240.0" width="25.2" height="3.6" fill="#c8d0ff"/>
<rect x="249.2" y="240.0" width="4.2" height="3.6" fill="#c8d0ff"/>
<rect x="257.6" y="240.0" width="8.4" height="3.6" fill="#c8d0ff"/>
<rect x="278.6" y="240.0" width="4.2" height="3.6" fill="#c8d0ff"/>
<rect x="291.2" y="240.0" width="4.2" height="3.6" fill="#c8d0ff"/>
<rect x="72.8" y="243.6" width="4.2" height="3.6" fill="#c8d0ff"/>
<rect x="102.2" y="243.6" width="8.4" height="3.6" fill="#c8d0ff"/>
<rect x="114.8" y="243.6" width="4.2" height="3.6" fill="#c8d0ff"/>
<rect x="123.2" y="243.6" width="8.4" height="3.6" fill="#c8d0ff"/>
<rect x="140.0" y="243.6" width="12.6" height="3.6" fill="#c8d0ff"/>
<rect x="165.2" y="243.6" width="4.2" height="3.6" fill="#c8d0ff"/>
<rect x="182.0" y="243.6" width="12.6" height="3.6" fill="#c8d0ff"/>
<rect x="198.8" y="243.6" width="21.0" height="3.6" fill="#c8d0ff"/>
<rect x="228.2" y="243.6" width="4.2" height="3.6" fill="#c8d0ff"/>
<rect x="236.6" y="243.6" width="4.2" height="3.6" fill="#c8d0ff"/>
<rect x="93.8" y="247.2" width="4.2" height="3.6" fill="#c8d0ff"/>
<rect x="102.2" y="247.2" width="16.8" height="3.6" fill="#c8d0ff"/>
<rect x="127.4" y="247.2" width="12.6" height="3.6" fill="#c8d0ff"/>
<rect x="144.2" y="247.2" width="4.2" height="3.6" fill="#c8d0ff"/>
<rect x="152.6" y="247.2" width="8.4" height="3.6" fill="#c8d0ff"/>
<rect x="169.4" y="247.2" width="4.2" height="3.6" fill="#c8d0ff"/>
<rect x="186.2" y="247.2" width="4.2" height="3.6" fill="#c8d0ff"/>
<rect x="203.0" y="247.2" width="4.2" height="3.6" fill="#c8d0ff"/>
<rect x="211.4" y="247.2" width="25.2" height="3.6" fill="#c8d0ff"/>
<rect x="245.0" y="247.2" width="4.2" height="3.6" fill="#c8d0ff"/>
<rect x="266.0" y="247.2" width="4.2" height="3.6" fill="#c8d0ff"/>
<rect x="274.4" y="247.2" width="8.4" height="3.6" fill="#c8d0ff"/>
<rect x="56.0" y="250.8" width="8.4" height="3.6" fill="#c8d0ff"/>
<rect x="81.2" y="250.8" width="4.2" height="3.6" fill="#c8d0ff"/>
<rect x="98.0" y="250.8" width="8.4" height="3.6" fill="#c8d0ff"/>
<rect x="114.8" y="250.8" width="4.2" height="3.6" fill="#c8d0ff"/>
<rect x="123.2" y="250.8" width="4.2" height="3.6" fill="#c8d0ff"/>
<rect x="131.6" y="250.8" width="4.2" height="3.6" fill="#c8d0ff"/>
<rect x="140.0" y="250.8" width="4.2" height="3.6" fill="#c8d0ff"/>
<rect x="148.4" y="250.8" width="4.2" height="3.6" fill="#c8d0ff"/>
<rect x="182.0" y="250.8" width="4.2" height="3.6" fill="#c8d0ff"/>
<rect x="203.0" y="250.8" width="12.6" height="3.6" fill="#c8d0ff"/>
<rect x="219.8" y="250.8" width="4.2" height="3.6" fill="#c8d0ff"/>
<rect x="228.2" y="250.8" width="4.2" height="3.6" fill="#c8d0ff"/>
<rect x="274.4" y="250.8" width="4.2" height="3.6" fill="#c8d0ff"/>
<rect x="282.8" y="250.8" width="4.2" height="3.6" fill="#c8d0ff"/>
<rect x="308.0" y="250.8" width="4.2" height="3.6" fill="#c8d0ff"/>
<rect x="39.2" y="254.4" width="4.2" height="3.6" fill="#c8d0ff"/>
<rect x="47.6" y="254.4" width="8.4" height="3.6" fill="#c8d0ff"/>
<rect x="68.6" y="254.4" width="4.2" height="3.6" fill="#c8d0ff"/>
<rect x="102.2" y="254.4" width="12.6" height="3.6" fill="#c8d0ff"/>
<rect x="123.2" y="254.4" width="16.8" height="3.6" fill="#c8d0ff"/>
<rect x="169.4" y="254.4" width="8.4" height="3.6" fill="#c8d0ff"/>
<rect x="186.2" y="254.4" width="4.2" height="3.6" fill="#c8d0ff"/>
<rect x="194.6" y="254.4" width="37.8" height="3.6" fill="#c8d0ff"/>
<rect x="249.2" y="254.4" width="4.2" height="3.6" fill="#c8d0ff"/>
<rect x="257.6" y="254.4" width="12.6" height="3.6" fill="#c8d0ff"/>
<rect x="274.4" y="254.4" width="16.8" height="3.6" fill="#c8d0ff"/>
<rect x="295.4" y="254.4" width="4.2" height="3.6" fill="#c8d0ff"/>
<rect x="308.0" y="254.4" width="4.2" height="3.6" fill="#c8d0ff"/>
<rect x="47.6" y="258.0" width="4.2" height="3.6" fill="#c8d0ff"/>
<rect x="77.0" y="258.0" width="4.2" height="3.6" fill="#c8d0ff"/>
<rect x="106.4" y="258.0" width="4.2" height="3.6" fill="#c8d0ff"/>
<rect x="114.8" y="258.0" width="4.2" height="3.6" fill="#c8d0ff"/>
<rect x="123.2" y="258.0" width="12.6" height="3.6" fill="#c8d0ff"/>
<rect x="140.0" y="258.0" width="8.4" height="3.6" fill="#c8d0ff"/>
<rect x="156.8" y="258.0" width="4.2" height="3.6" fill="#c8d0ff"/>
<rect x="165.2" y="258.0" width="4.2" height="3.6" fill="#c8d0ff"/>
<rect x="173.6" y="258.0" width="8.4" height="3.6" fill="#c8d0ff"/>
<rect x="186.2" y="258.0" width="4.2" height="3.6" fill="#c8d0ff"/>
<rect x="198.8" y="258.0" width="4.2" height="3.6" fill="#c8d0ff"/>
<rect x="215.6" y="258.0" width="16.8" height="3.6" fill="#c8d0ff"/>
<rect x="236.6" y="258.0" width="4.2" height="3.6" fill="#c8d0ff"/>
<rect x="257.6" y="258.0" width="12.6" height="3.6" fill="#c8d0ff"/>
<rect x="274.4" y="258.0" width="12.6" height="3.6" fill="#c8d0ff"/>
<rect x="295.4" y="258.0" width="4.2" height="3.6" fill="#c8d0ff"/>
<rect x="102.2" y="261.6" width="8.4" height="3.6" fill="#c8d0ff"/>
<rect x="135.8" y="261.6" width="8.4" height="3.6" fill="#c8d0ff"/>
<rect x="165.2" y="261.6" width="16.8" height="3.6" fill="#c8d0ff"/>
<rect x="186.2" y="261.6" width="8.4" height="3.6" fill="#c8d0ff"/>
<rect x="198.8" y="261.6" width="8.4" height="3.6" fill="#c8d0ff"/>
<rect x="219.8" y="261.6" width="4.2" height="3.6" fill="#c8d0ff"/>
<rect x="232.4" y="261.6" width="4.2" height="3.6" fill="#c8d0ff"/>
<rect x="240.8" y="261.6" width="8.4" height="3.6" fill="#c8d0ff"/>
<rect x="253.4" y="261.6" width="8.4" height="3.6" fill="#c8d0ff"/>
<rect x="266.0" y="261.6" width="4.2" height="3.6" fill="#c8d0ff"/>
<rect x="274.4" y="261.6" width="8.4" height="3.6" fill="#c8d0ff"/>
<rect x="287.0" y="261.6" width="4.2" height="3.6" fill="#c8d0ff"/>
<rect x="299.6" y="261.6" width="4.2" height="3.6" fill="#c8d0ff"/>
<rect x="308.0" y="261.6" width="4.2" height="3.6" fill="#c8d0ff"/>
<rect x="39.2" y="265.2" width="8.4" height="3.6" fill="#c8d0ff"/>
<rect x="56.0" y="265.2" width="8.4" height="3.6" fill="#c8d0ff"/>
<rect x="98.0" y="265.2" width="4.2" height="3.6" fill="#c8d0ff"/>
<rect x="119.0" y="265.2" width="16.8" height="3.6" fill="#c8d0ff"/>
<rect x="152.6" y="265.2" width="12.6" height="3.6" fill="#c8d0ff"/>
<rect x="169.4" y="265.2" width="4.2" height="3.6" fill="#c8d0ff"/>
<rect x="177.8" y="265.2" width="12.6" height="3.6" fill="#c8d0ff"/>
<rect x="194.6" y="265.2" width="4.2" height="3.6" fill="#c8d0ff"/>
<rect x="207.2" y="265.2" width="4.2" height="3.6" fill="#c8d0ff"/>
<rect x="219.8" y="265.2" width="21.0" height="3.6" fill="#c8d0ff"/>
<rect x="249.2" y="265.2" width="4.2" height="3.6" fill="#c8d0ff"/>
<rect x="261.8" y="265.2" width="8.4" height="3.6" fill="#c8d0ff"/>
<rect x="278.6" y="265.2" width="12.6" height="3.6" fill="#c8d0ff"/>
<rect x="299.6" y="265.2" width="4.2" height="3.6" fill="#c8d0ff"/>
<rect x="308.0" y="265.2" width="12.6" height="3.6" fill="#c8d0ff"/>
<rect x="324.8" y="265.2" width="4.2" height="3.6" fill="#c8d0ff"/>
<rect x="102.2" y="268.8" width="8.4" height="3.6" fill="#c8d0ff"/>
<rect x="119.0" y="268.8" width="4.2" height="3.6" fill="#c8d0ff"/>
<rect x="131.6" y="268.8" width="4.2" height="3.6" fill="#c8d0ff"/>
<rect x="148.4" y="268.8" width="12.6" height="3.6" fill="#c8d0ff"/>
<rect x="165.2" y="268.8" width="4.2" height="3.6" fill="#c8d0ff"/>
<rect x="173.6" y="268.8" width="4.2" height="3.6" fill="#c8d0ff"/>
<rect x="182.0" y="268.8" width="37.8" height="3.6" fill="#c8d0ff"/>
<rect x="228.2" y="268.8" width="4.2" height="3.6" fill="#c8d0ff"/>
<rect x="236.6" y="268.8" width="4.2" height="3.6" fill="#c8d0ff"/>
<rect x="249.2" y="268.8" width="4.2" height="3.6" fill="#c8d0ff"/>
<rect x="278.6" y="268.8" width="8.4" height="3.6" fill="#c8d0ff"/>
<rect x="291.2" y="268.8" width="4.2" height="3.6" fill="#c8d0ff"/>
<rect x="303.8" y="268.8" width="8.4" height="3.6" fill="#c8d0ff"/>
<rect x="316.4" y="268.8" width="4.2" height="3.6" fill="#c8d0ff"/>
<rect x="51.8" y="272.4" width="4.2" height="3.6" fill="#c8d0ff"/>
<rect x="98.0" y="272.4" width="12.6" height="3.6" fill="#c8d0ff"/>
<rect x="127.4" y="272.4" width="8.4" height="3.6" fill="#c8d0ff"/>
<rect x="140.0" y="272.4" width="8.4" height="3.6" fill="#c8d0ff"/>
<rect x="152.6" y="272.4" width="4.2" height="3.6" fill="#c8d0ff"/>
<rect x="161.0" y="272.4" width="12.6" height="3.6" fill="#c8d0ff"/>
<rect x="177.8" y="272.4" width="4.2" height="3.6" fill="#c8d0ff"/>
<rect x="186.2" y="272.4" width="4.2" height="3.6" fill="#c8d0ff"/>
<rect x="198.8" y="272.4" width="8.4" height="3.6" fill="#c8d0ff"/>
<rect x="215.6" y="272.4" width="4.2" height="3.6" fill="#c8d0ff"/>
<rect x="232.4" y="272.4" width="12.6" height="3.6" fill="#c8d0ff"/>
<rect x="253.4" y="272.4" width="4.2" height="3.6" fill="#c8d0ff"/>
<rect x="261.8" y="272.4" width="4.2" height="3.6" fill="#c8d0ff"/>
<rect x="270.2" y="272.4" width="25.2" height="3.6" fill="#c8d0ff"/>
<rect x="303.8" y="272.4" width="8.4" height="3.6" fill="#c8d0ff"/>
<rect x="320.6" y="272.4" width="4.2" height="3.6" fill="#c8d0ff"/>
<rect x="30.8" y="276.0" width="4.2" height="3.6" fill="#c8d0ff"/>
<rect x="93.8" y="276.0" width="4.2" height="3.6" fill="#c8d0ff"/>
<rect x="102.2" y="276.0" width="4.2" height="3.6" fill="#c8d0ff"/>
<rect x="110.6" y="276.0" width="4.2" height="3.6" fill="#c8d0ff"/>
<rect x="127.4" y="276.0" width="12.6" height="3.6" fill="#c8d0ff"/>
<rect x="144.2" y="276.0" width="12.6" height="3.6" fill="#c8d0ff"/>
<rect x="161.0" y="276.0" width="16.8" height="3.6" fill="#c8d0ff"/>
<rect x="186.2" y="276.0" width="4.2" height="3.6" fill="#c8d0ff"/>
<rect x="194.6" y="276.0" width="16.8" height="3.6" fill="#c8d0ff"/>
<rect x="219.8" y="276.0" width="21.0" height="3.6" fill="#c8d0ff"/>
<rect x="245.0" y="276.0" width="4.2" height="3.6" fill="#c8d0ff"/>
<rect x="253.4" y="276.0" width="8.4" height="3.6" fill="#c8d0ff"/>
<rect x="270.2" y="276.0" width="4.2" height="3.6" fill="#c8d0ff"/>
<rect x="278.6" y="276.0" width="12.6" height="3.6" fill="#c8d0ff"/>
<rect x="295.4" y="276.0" width="4.2" height="3.6" fill="#c8d0ff"/>
<rect x="303.8" y="276.0" width="4.2" height="3.6" fill="#c8d0ff"/>
<rect x="312.2" y="276.0" width="4.2" height="3.6" fill="#c8d0ff"/>
<rect x="106.4" y="279.6" width="4.2" height="3.6" fill="#c8d0ff"/>
<rect x="127.4" y="279.6" width="8.4" height="3.6" fill="#c8d0ff"/>
<rect x="140.0" y="279.6" width="4.2" height="3.6" fill="#c8d0ff"/>
<rect x="152.6" y="279.6" width="8.4" height="3.6" fill="#c8d0ff"/>
<rect x="165.2" y="279.6" width="4.2" height="3.6" fill="#c8d0ff"/>
<rect x="173.6" y="279.6" width="4.2" height="3.6" fill="#c8d0ff"/>
<rect x="182.0" y="279.6" width="4.2" height="3.6" fill="#c8d0ff"/>
<rect x="190.4" y="279.6" width="16.8" height="3.6" fill="#c8d0ff"/>
<rect x="215.6" y="279.6" width="21.0" height="3.6" fill="#c8d0ff"/>
<rect x="240.8" y="279.6" width="12.6" height="3.6" fill="#c8d0ff"/>
<rect x="266.0" y="279.6" width="4.2" height="3.6" fill="#c8d0ff"/>
<rect x="274.4" y="279.6" width="4.2" height="3.6" fill="#c8d0ff"/>
<rect x="287.0" y="279.6" width="16.8" height="3.6" fill="#c8d0ff"/>
<rect x="308.0" y="279.6" width="8.4" height="3.6" fill="#c8d0ff"/>
<rect x="51.8" y="283.2" width="4.2" height="3.6" fill="#c8d0ff"/>
<rect x="81.2" y="283.2" width="4.2" height="3.6" fill="#c8d0ff"/>
<rect x="106.4" y="283.2" width="12.6" height="3.6" fill="#c8d0ff"/>
<rect x="123.2" y="283.2" width="8.4" height="3.6" fill="#c8d0ff"/>
<rect x="135.8" y="283.2" width="16.8" height="3.6" fill="#c8d0ff"/>
<rect x="161.0" y="283.2" width="4.2" height="3.6" fill="#c8d0ff"/>
<rect x="173.6" y="283.2" width="12.6" height="3.6" fill="#c8d0ff"/>
<rect x="190.4" y="283.2" width="12.6" height="3.6" fill="#c8d0ff"/>
<rect x="219.8" y="283.2" width="4.2" height="3.6" fill="#c8d0ff"/>
<rect x="232.4" y="283.2" width="8.4" height="3.6" fill="#c8d0ff"/>
<rect x="249.2" y="283.2" width="8.4" height="3.6" fill="#c8d0ff"/>
<rect x="261.8" y="283.2" width="8.4" height="3.6" fill="#c8d0ff"/>
<rect x="287.0" y="283.2" width="4.2" height="3.6" fill="#c8d0ff"/>
<rect x="299.6" y="283.2" width="4.2" height="3.6" fill="#c8d0ff"/>
<rect x="316.4" y="283.2" width="4.2" height="3.6" fill="#c8d0ff"/>
<rect x="51.8" y="286.8" width="4.2" height="3.6" fill="#c8d0ff"/>
<rect x="68.6" y="286.8" width="4.2" height="3.6" fill="#c8d0ff"/>
<rect x="81.2" y="286.8" width="4.2" height="3.6" fill="#c8d0ff"/>
<rect x="98.0" y="286.8" width="4.2" height="3.6" fill="#c8d0ff"/>
<rect x="106.4" y="286.8" width="8.4" height="3.6" fill="#c8d0ff"/>
<rect x="119.0" y="286.8" width="8.4" height="3.6" fill="#c8d0ff"/>
<rect x="135.8" y="286.8" width="42.0" height="3.6" fill="#c8d0ff"/>
<rect x="182.0" y="286.8" width="4.2" height="3.6" fill="#c8d0ff"/>
<rect x="194.6" y="286.8" width="4.2" height="3.6" fill="#c8d0ff"/>
<rect x="207.2" y="286.8" width="12.6" height="3.6" fill="#c8d0ff"/>
<rect x="224.0" y="286.8" width="4.2" height="3.6" fill="#c8d0ff"/>
<rect x="232.4" y="286.8" width="29.4" height="3.6" fill="#c8d0ff"/>
<rect x="266.0" y="286.8" width="16.8" height="3.6" fill="#c8d0ff"/>
<rect x="287.0" y="286.8" width="12.6" height="3.6" fill="#c8d0ff"/>
<rect x="303.8" y="286.8" width="8.4" height="3.6" fill="#c8d0ff"/>
<rect x="320.6" y="286.8" width="4.2" height="3.6" fill="#c8d0ff"/>
<rect x="60.2" y="290.4" width="8.4" height="3.6" fill="#c8d0ff"/>
<rect x="106.4" y="290.4" width="4.2" height="3.6" fill="#c8d0ff"/>
<rect x="114.8" y="290.4" width="8.4" height="3.6" fill="#c8d0ff"/>
<rect x="127.4" y="290.4" width="8.4" height="3.6" fill="#c8d0ff"/>
<rect x="161.0" y="290.4" width="12.6" height="3.6" fill="#c8d0ff"/>
<rect x="198.8" y="290.4" width="4.2" height="3.6" fill="#c8d0ff"/>
<rect x="211.4" y="290.4" width="4.2" height="3.6" fill="#c8d0ff"/>
<rect x="219.8" y="290.4" width="8.4" height="3.6" fill="#c8d0ff"/>
<rect x="232.4" y="290.4" width="8.4" height="3.6" fill="#c8d0ff"/>
<rect x="249.2" y="290.4" width="8.4" height="3.6" fill="#c8d0ff"/>
<rect x="274.4" y="290.4" width="12.6" height="3.6" fill="#c8d0ff"/>
<rect x="295.4" y="290.4" width="4.2" height="3.6" fill="#c8d0ff"/>
<rect x="303.8" y="290.4" width="21.0" height="3.6" fill="#c8d0ff"/>
<rect x="329.0" y="290.4" width="4.2" height="3.6" fill="#c8d0ff"/>
<rect x="110.6" y="294.0" width="4.2" height="3.6" fill="#c8d0ff"/>
<rect x="119.0" y="294.0" width="4.2" height="3.6" fill="#c8d0ff"/>
<rect x="127.4" y="294.0" width="12.6" height="3.6" fill="#c8d0ff"/>
<rect x="148.4" y="294.0" width="8.4" height="3.6" fill="#c8d0ff"/>
<rect x="161.0" y="294.0" width="8.4" height="3.6" fill="#c8d0ff"/>
<rect x="173.6" y="294.0" width="8.4" height="3.6" fill="#c8d0ff"/>
<rect x="186.2" y="294.0" width="8.4" height="3.6" fill="#c8d0ff"/>
<rect x="207.2" y="294.0" width="25.2" height="3.6" fill="#c8d0ff"/>
<rect x="236.6" y="294.0" width="4.2" height="3.6" fill="#c8d0ff"/>
<rect x="245.0" y="294.0" width="4.2" height="3.6" fill="#c8d0ff"/>
<rect x="253.4" y="294.0" width="4.2" height="3.6" fill="#c8d0ff"/>
<rect x="266.0" y="294.0" width="8.4" height="3.6" fill="#c8d0ff"/>
<rect x="291.2" y="294.0" width="8.4" height="3.6" fill="#c8d0ff"/>
<rect x="303.8" y="294.0" width="8.4" height="3.6" fill="#c8d0ff"/>
<rect x="329.0" y="294.0" width="4.2" height="3.6" fill="#c8d0ff"/>
<rect x="341.6" y="294.0" width="4.2" height="3.6" fill="#c8d0ff"/>
<rect x="102.2" y="297.6" width="4.2" height="3.6" fill="#c8d0ff"/>
<rect x="110.6" y="297.6" width="4.2" height="3.6" fill="#c8d0ff"/>
<rect x="119.0" y="297.6" width="4.2" height="3.6" fill="#c8d0ff"/>
<rect x="131.6" y="297.6" width="4.2" height="3.6" fill="#c8d0ff"/>
<rect x="152.6" y="297.6" width="4.2" height="3.6" fill="#c8d0ff"/>
<rect x="165.2" y="297.6" width="4.2" height="3.6" fill="#c8d0ff"/>
<rect x="182.0" y="297.6" width="8.4" height="3.6" fill="#c8d0ff"/>
<rect x="203.0" y="297.6" width="8.4" height="3.6" fill="#c8d0ff"/>
<rect x="219.8" y="297.6" width="4.2" height="3.6" fill="#c8d0ff"/>
<rect x="228.2" y="297.6" width="4.2" height="3.6" fill="#c8d0ff"/>
<rect x="236.6" y="297.6" width="4.2" height="3.6" fill="#c8d0ff"/>
<rect x="257.6" y="297.6" width="8.4" height="3.6" fill="#c8d0ff"/>
<rect x="270.2" y="297.6" width="4.2" height="3.6" fill="#c8d0ff"/>
<rect x="278.6" y="297.6" width="8.4" height="3.6" fill="#c8d0ff"/>
<rect x="291.2" y="297.6" width="4.2" height="3.6" fill="#c8d0ff"/>
<rect x="299.6" y="297.6" width="8.4" height="3.6" fill="#c8d0ff"/>
<rect x="312.2" y="297.6" width="4.2" height="3.6" fill="#c8d0ff"/>
<rect x="30.8" y="301.2" width="4.2" height="3.6" fill="#c8d0ff"/>
<rect x="51.8" y="301.2" width="4.2" height="3.6" fill="#c8d0ff"/>
<rect x="64.4" y="301.2" width="4.2" height="3.6" fill="#c8d0ff"/>
<rect x="85.4" y="301.2" width="4.2" height="3.6" fill="#c8d0ff"/>
<rect x="110.6" y="301.2" width="12.6" height="3.6" fill="#c8d0ff"/>
<rect x="135.8" y="301.2" width="4.2" height="3.6" fill="#c8d0ff"/>
<rect x="144.2" y="301.2" width="21.0" height="3.6" fill="#c8d0ff"/>
<rect x="169.4" y="301.2" width="4.2" height="3.6" fill="#c8d0ff"/>
<rect x="177.8" y="301.2" width="12.6" height="3.6" fill="#c8d0ff"/>
<rect x="219.8" y="301.2" width="4.2" height="3.6" fill="#c8d0ff"/>
<rect x="228.2" y="301.2" width="8.4" height="3.6" fill="#c8d0ff"/>
<rect x="257.6" y="301.2" width="8.4" height="3.6" fill="#c8d0ff"/>
<rect x="270.2" y="301.2" width="4.2" height="3.6" fill="#c8d0ff"/>
<rect x="287.0" y="301.2" width="8.4" height="3.6" fill="#c8d0ff"/>
<rect x="303.8" y="301.2" width="8.4" height="3.6" fill="#c8d0ff"/>
<rect x="316.4" y="301.2" width="8.4" height="3.6" fill="#c8d0ff"/>
<rect x="81.2" y="304.8" width="4.2" height="3.6" fill="#c8d0ff"/>
<rect x="114.8" y="304.8" width="8.4" height="3.6" fill="#c8d0ff"/>
<rect x="131.6" y="304.8" width="8.4" height="3.6" fill="#c8d0ff"/>
<rect x="144.2" y="304.8" width="4.2" height="3.6" fill="#c8d0ff"/>
<rect x="152.6" y="304.8" width="8.4" height="3.6" fill="#c8d0ff"/>
<rect x="165.2" y="304.8" width="21.0" height="3.6" fill="#c8d0ff"/>
<rect x="190.4" y="304.8" width="8.4" height="3.6" fill="#c8d0ff"/>
<rect x="211.4" y="304.8" width="16.8" height="3.6" fill="#c8d0ff"/>
<rect x="249.2" y="304.8" width="21.0" height="3.6" fill="#c8d0ff"/>
<rect x="274.4" y="304.8" width="16.8" height="3.6" fill="#c8d0ff"/>
<rect x="303.8" y="304.8" width="4.2" height="3.6" fill="#c8d0ff"/>
<rect x="316.4" y="304.8" width="4.2" height="3.6" fill="#c8d0ff"/>
<rect x="68.6" y="308.4" width="4.2" height="3.6" fill="#c8d0ff"/>
<rect x="98.0" y="308.4" width="8.4" height="3.6" fill="#c8d0ff"/>
<rect x="119.0" y="308.4" width="4.2" height="3.6" fill="#c8d0ff"/>
<rect x="131.6" y="308.4" width="4.2" height="3.6" fill="#c8d0ff"/>
<rect x="144.2" y="308.4" width="12.6" height="3.6" fill="#c8d0ff"/>
<rect x="161.0" y="308.4" width="8.4" height="3.6" fill="#c8d0ff"/>
<rect x="182.0" y="308.4" width="8.4" height="3.6" fill="#c8d0ff"/>
<rect x="194.6" y="308.4" width="16.8" height="3.6" fill="#c8d0ff"/>
<rect x="215.6" y="308.4" width="29.4" height="3.6" fill="#c8d0ff"/>
<rect x="253.4" y="308.4" width="4.2" height="3.6" fill="#c8d0ff"/>
<rect x="270.2" y="308.4" width="16.8" height="3.6" fill="#c8d0ff"/>
<rect x="308.0" y="308.4" width="4.2" height="3.6" fill="#c8d0ff"/>
<rect x="106.4" y="312.0" width="12.6" height="3.6" fill="#c8d0ff"/>
<rect x="135.8" y="312.0" width="4.2" height="3.6" fill="#c8d0ff"/>
<rect x="144.2" y="312.0" width="4.2" height="3.6" fill="#c8d0ff"/>
<rect x="156.8" y="312.0" width="8.4" height="3.6" fill="#c8d0ff"/>
<rect x="169.4" y="312.0" width="8.4" height="3.6" fill="#c8d0ff"/>
<rect x="182.0" y="312.0" width="4.2" height="3.6" fill="#c8d0ff"/>
<rect x="198.8" y="312.0" width="8.4" height="3.6" fill="#c8d0ff"/>
<rect x="211.4" y="312.0" width="4.2" height="3.6" fill="#c8d0ff"/>
<rect x="219.8" y="312.0" width="4.2" height="3.6" fill="#c8d0ff"/>
<rect x="232.4" y="312.0" width="12.6" height="3.6" fill="#c8d0ff"/>
<rect x="253.4" y="312.0" width="4.2" height="3.6" fill="#c8d0ff"/>
<rect x="261.8" y="312.0" width="4.2" height="3.6" fill="#c8d0ff"/>
<rect x="274.4" y="312.0" width="4.2" height="3.6" fill="#c8d0ff"/>
<rect x="287.0" y="312.0" width="4.2" height="3.6" fill="#c8d0ff"/>
<rect x="295.4" y="312.0" width="4.2" height="3.6" fill="#c8d0ff"/>
<rect x="303.8" y="312.0" width="4.2" height="3.6" fill="#c8d0ff"/>
<rect x="312.2" y="312.0" width="4.2" height="3.6" fill="#c8d0ff"/>
<rect x="81.2" y="315.6" width="4.2" height="3.6" fill="#c8d0ff"/>
<rect x="98.0" y="315.6" width="4.2" height="3.6" fill="#c8d0ff"/>
<rect x="119.0" y="315.6" width="4.2" height="3.6" fill="#c8d0ff"/>
<rect x="127.4" y="315.6" width="8.4" height="3.6" fill="#c8d0ff"/>
<rect x="140.0" y="315.6" width="4.2" height="3.6" fill="#c8d0ff"/>
<rect x="152.6" y="315.6" width="4.2" height="3.6" fill="#c8d0ff"/>
<rect x="165.2" y="315.6" width="12.6" height="3.6" fill="#c8d0ff"/>
<rect x="182.0" y="315.6" width="4.2" height="3.6" fill="#c8d0ff"/>
<rect x="190.4" y="315.6" width="4.2" height="3.6" fill="#c8d0ff"/>
<rect x="198.8" y="315.6" width="21.0" height="3.6" fill="#c8d0ff"/>
<rect x="224.0" y="315.6" width="4.2" height="3.6" fill="#c8d0ff"/>
<rect x="232.4" y="315.6" width="21.0" height="3.6" fill="#c8d0ff"/>
<rect x="261.8" y="315.6" width="8.4" height="3.6" fill="#c8d0ff"/>
<rect x="274.4" y="315.6" width="4.2" height="3.6" fill="#c8d0ff"/>
<rect x="282.8" y="315.6" width="8.4" height="3.6" fill="#c8d0ff"/>
<rect x="303.8" y="315.6" width="4.2" height="3.6" fill="#c8d0ff"/>
<rect x="56.0" y="319.2" width="8.4" height="3.6" fill="#c8d0ff"/>
<rect x="110.6" y="319.2" width="4.2" height="3.6" fill="#c8d0ff"/>
<rect x="123.2" y="319.2" width="4.2" height="3.6" fill="#c8d0ff"/>
<rect x="135.8" y="319.2" width="4.2" height="3.6" fill="#c8d0ff"/>
<rect x="144.2" y="319.2" width="4.2" height="3.6" fill="#c8d0ff"/>
<rect x="152.6" y="319.2" width="4.2" height="3.6" fill="#c8d0ff"/>
<rect x="165.2" y="319.2" width="12.6" height="3.6" fill="#c8d0ff"/>
<rect x="186.2" y="319.2" width="4.2" height="3.6" fill="#c8d0ff"/>
<rect x="194.6" y="319.2" width="4.2" height="3.6" fill="#c8d0ff"/>
<rect x="207.2" y="319.2" width="4.2" height="3.6" fill="#c8d0ff"/>
<rect x="215.6" y="319.2" width="4.2" height="3.6" fill="#c8d0ff"/>
<rect x="228.2" y="319.2" width="8.4" height="3.6" fill="#c8d0ff"/>
<rect x="240.8" y="319.2" width="8.4" height="3.6" fill="#c8d0ff"/>
<rect x="253.4" y="319.2" width="4.2" height="3.6" fill="#c8d0ff"/>
<rect x="261.8" y="319.2" width="8.4" height="3.6" fill="#c8d0ff"/>
<rect x="278.6" y="319.2" width="16.8" height="3.6" fill="#c8d0ff"/>
<rect x="299.6" y="319.2" width="4.2" height="3.6" fill="#c8d0ff"/>
<rect x="85.4" y="322.8" width="4.2" height="3.6" fill="#c8d0ff"/>
<rect x="98.0" y="322.8" width="4.2" height="3.6" fill="#c8d0ff"/>
<rect x="106.4" y="322.8" width="12.6" height="3.6" fill="#c8d0ff"/>
<rect x="123.2" y="322.8" width="8.4" height="3.6" fill="#c8d0ff"/>
<rect x="140.0" y="322.8" width="4.2" height="3.6" fill="#c8d0ff"/>
<rect x="152.6" y="322.8" width="4.2" height="3.6" fill="#c8d0ff"/>
<rect x="161.0" y="322.8" width="4.2" height="3.6" fill="#c8d0ff"/>
<rect x="173.6" y="322.8" width="4.2" height="3.6" fill="#c8d0ff"/>
<rect x="186.2" y="322.8" width="4.2" height="3.6" fill="#c8d0ff"/>
<rect x="194.6" y="322.8" width="8.4" height="3.6" fill="#c8d0ff"/>
<rect x="219.8" y="322.8" width="4.2" height="3.6" fill="#c8d0ff"/>
<rect x="228.2" y="322.8" width="4.2" height="3.6" fill="#c8d0ff"/>
<rect x="236.6" y="322.8" width="16.8" height="3.6" fill="#c8d0ff"/>
<rect x="257.6" y="322.8" width="4.2" height="3.6" fill="#c8d0ff"/>
<rect x="266.0" y="322.8" width="4.2" height="3.6" fill="#c8d0ff"/>
<rect x="278.6" y="322.8" width="21.0" height="3.6" fill="#c8d0ff"/>
<rect x="81.2" y="326.4" width="8.4" height="3.6" fill="#c8d0ff"/>
<rect x="93.8" y="326.4" width="4.2" height="3.6" fill="#c8d0ff"/>
<rect x="114.8" y="326.4" width="8.4" height="3.6" fill="#c8d0ff"/>
<rect x="144.2" y="326.4" width="16.8" height="3.6" fill="#c8d0ff"/>
<rect x="165.2" y="326.4" width="4.2" height="3.6" fill="#c8d0ff"/>
<rect x="177.8" y="326.4" width="4.2" height="3.6" fill="#c8d0ff"/>
<rect x="190.4" y="326.4" width="4.2" height="3.6" fill="#c8d0ff"/>
<rect x="198.8" y="326.4" width="4.2" height="3.6" fill="#c8d0ff"/>
<rect x="211.4" y="326.4" width="8.4" height="3.6" fill="#c8d0ff"/>
<rect x="224.0" y="326.4" width="12.6" height="3.6" fill="#c8d0ff"/>
<rect x="245.0" y="326.4" width="4.2" height="3.6" fill="#c8d0ff"/>
<rect x="257.6" y="326.4" width="8.4" height="3.6" fill="#c8d0ff"/>
<rect x="270.2" y="326.4" width="16.8" height="3.6" fill="#c8d0ff"/>
<rect x="291.2" y="326.4" width="4.2" height="3.6" fill="#c8d0ff"/>
<rect x="81.2" y="330.0" width="8.4" height="3.6" fill="#c8d0ff"/>
<rect x="123.2" y="330.0" width="4.2" height="3.6" fill="#c8d0ff"/>
<rect x="131.6" y="330.0" width="8.4" height="3.6" fill="#c8d0ff"/>
<rect x="173.6" y="330.0" width="4.2" height="3.6" fill="#c8d0ff"/>
<rect x="190.4" y="330.0" width="8.4" height="3.6" fill="#c8d0ff"/>
<rect x="219.8" y="330.0" width="4.2" height="3.6" fill="#c8d0ff"/>
<rect x="228.2" y="330.0" width="4.2" height="3.6" fill="#c8d0ff"/>
<rect x="253.4" y="330.0" width="8.4" height="3.6" fill="#c8d0ff"/>
<rect x="274.4" y="330.0" width="4.2" height="3.6" fill="#c8d0ff"/>
<rect x="282.8" y="330.0" width="4.2" height="3.6" fill="#c8d0ff"/>
<rect x="102.2" y="333.6" width="4.2" height="3.6" fill="#c8d0ff"/>
<rect x="119.0" y="333.6" width="8.4" height="3.6" fill="#c8d0ff"/>
<rect x="131.6" y="333.6" width="12.6" height="3.6" fill="#c8d0ff"/>
<rect x="148.4" y="333.6" width="4.2" height="3.6" fill="#c8d0ff"/>
<rect x="161.0" y="333.6" width="4.2" height="3.6" fill="#c8d0ff"/>
<rect x="169.4" y="333.6" width="4.2" height="3.6" fill="#c8d0ff"/>
<rect x="186.2" y="333.6" width="8.4" height="3.6" fill="#c8d0ff"/>
<rect x="203.0" y="333.6" width="4.2" height="3.6" fill="#c8d0ff"/>
<rect x="215.6" y="333.6" width="4.2" height="3.6" fill="#c8d0ff"/>
<rect x="232.4" y="333.6" width="8.4" height="3.6" fill="#c8d0ff"/>
<rect x="249.2" y="333.6" width="4.2" height="3.6" fill="#c8d0ff"/>
<rect x="257.6" y="333.6" width="4.2" height="3.6" fill="#c8d0ff"/>
<rect x="266.0" y="333.6" width="12.6" height="3.6" fill="#c8d0ff"/>
<rect x="89.6" y="337.2" width="4.2" height="3.6" fill="#c8d0ff"/>
<rect x="110.6" y="337.2" width="4.2" height="3.6" fill="#c8d0ff"/>
<rect x="156.8" y="337.2" width="8.4" height="3.6" fill="#c8d0ff"/>
<rect x="173.6" y="337.2" width="4.2" height="3.6" fill="#c8d0ff"/>
<rect x="182.0" y="337.2" width="33.6" height="3.6" fill="#c8d0ff"/>
<rect x="219.8" y="337.2" width="21.0" height="3.6" fill="#c8d0ff"/>
<rect x="257.6" y="337.2" width="8.4" height="3.6" fill="#c8d0ff"/>
<rect x="270.2" y="337.2" width="4.2" height="3.6" fill="#c8d0ff"/>
<rect x="287.0" y="337.2" width="4.2" height="3.6" fill="#c8d0ff"/>
<rect x="110.6" y="340.8" width="4.2" height="3.6" fill="#c8d0ff"/>
<rect x="119.0" y="340.8" width="25.2" height="3.6" fill="#c8d0ff"/>
<rect x="152.6" y="340.8" width="16.8" height="3.6" fill="#c8d0ff"/>
<rect x="177.8" y="340.8" width="8.4" height="3.6" fill="#c8d0ff"/>
<rect x="194.6" y="340.8" width="16.8" height="3.6" fill="#c8d0ff"/>
<rect x="215.6" y="340.8" width="8.4" height="3.6" fill="#c8d0ff"/>
<rect x="240.8" y="340.8" width="4.2" height="3.6" fill="#c8d0ff"/>
<rect x="249.2" y="340.8" width="16.8" height="3.6" fill="#c8d0ff"/>
<rect x="274.4" y="340.8" width="4.2" height="3.6" fill="#c8d0ff"/>
<rect x="282.8" y="340.8" width="8.4" height="3.6" fill="#c8d0ff"/>
<rect x="110.6" y="344.4" width="4.2" height="3.6" fill="#c8d0ff"/>
<rect x="119.0" y="344.4" width="8.4" height="3.6" fill="#c8d0ff"/>
<rect x="135.8" y="344.4" width="4.2" height="3.6" fill="#c8d0ff"/>
<rect x="144.2" y="344.4" width="4.2" height="3.6" fill="#c8d0ff"/>
<rect x="152.6" y="344.4" width="4.2" height="3.6" fill="#c8d0ff"/>
<rect x="169.4" y="344.4" width="12.6" height="3.6" fill="#c8d0ff"/>
<rect x="186.2" y="344.4" width="8.4" height="3.6" fill="#c8d0ff"/>
<rect x="203.0" y="344.4" width="4.2" height="3.6" fill="#c8d0ff"/>
<rect x="219.8" y="344.4" width="8.4" height="3.6" fill="#c8d0ff"/>
<rect x="236.6" y="344.4" width="4.2" height="3.6" fill="#c8d0ff"/>
<rect x="253.4" y="344.4" width="12.6" height="3.6" fill="#c8d0ff"/>
<rect x="98.0" y="348.0" width="4.2" height="3.6" fill="#c8d0ff"/>
<rect x="123.2" y="348.0" width="8.4" height="3.6" fill="#c8d0ff"/>
<rect x="135.8" y="348.0" width="4.2" height="3.6" fill="#c8d0ff"/>
<rect x="161.0" y="348.0" width="4.2" height="3.6" fill="#c8d0ff"/>
<rect x="169.4" y="348.0" width="4.2" height="3.6" fill="#c8d0ff"/>
<rect x="177.8" y="348.0" width="4.2" height="3.6" fill="#c8d0ff"/>
<rect x="190.4" y="348.0" width="4.2" height="3.6" fill="#c8d0ff"/>
<rect x="203.0" y="348.0" width="8.4" height="3.6" fill="#c8d0ff"/>
<rect x="224.0" y="348.0" width="4.2" height="3.6" fill="#c8d0ff"/>
<rect x="232.4" y="348.0" width="16.8" height="3.6" fill="#c8d0ff"/>
<rect x="257.6" y="348.0" width="4.2" height="3.6" fill="#c8d0ff"/>
<rect x="278.6" y="348.0" width="4.2" height="3.6" fill="#c8d0ff"/>
<rect x="110.6" y="351.6" width="4.2" height="3.6" fill="#c8d0ff"/>
<rect x="144.2" y="351.6" width="4.2" height="3.6" fill="#c8d0ff"/>
<rect x="152.6" y="351.6" width="4.2" height="3.6" fill="#c8d0ff"/>
<rect x="165.2" y="351.6" width="4.2" height="3.6" fill="#c8d0ff"/>
<rect x="173.6" y="351.6" width="4.2" height="3.6" fill="#c8d0ff"/>
<rect x="182.0" y="351.6" width="4.2" height="3.6" fill="#c8d0ff"/>
<rect x="194.6" y="351.6" width="4.2" height="3.6" fill="#c8d0ff"/>
<rect x="203.0" y="351.6" width="12.6" height="3.6" fill="#c8d0ff"/>
<rect x="224.0" y="351.6" width="4.2" height="3.6" fill="#c8d0ff"/>
<rect x="236.6" y="351.6" width="4.2" height="3.6" fill="#c8d0ff"/>
<rect x="245.0" y="351.6" width="8.4" height="3.6" fill="#c8d0ff"/>
<rect x="266.0" y="351.6" width="4.2" height="3.6" fill="#c8d0ff"/>
<rect x="127.4" y="355.2" width="8.4" height="3.6" fill="#c8d0ff"/>
<rect x="140.0" y="355.2" width="8.4" height="3.6" fill="#c8d0ff"/>
<rect x="161.0" y="355.2" width="4.2" height="3.6" fill="#c8d0ff"/>
<rect x="182.0" y="355.2" width="4.2" height="3.6" fill="#c8d0ff"/>
<rect x="190.4" y="355.2" width="12.6" height="3.6" fill="#c8d0ff"/>
<rect x="207.2" y="355.2" width="21.0" height="3.6" fill="#c8d0ff"/>
<rect x="236.6" y="355.2" width="4.2" height="3.6" fill="#c8d0ff"/>
<rect x="249.2" y="355.2" width="4.2" height="3.6" fill="#c8d0ff"/>
<rect x="257.6" y="355.2" width="4.2" height="3.6" fill="#c8d0ff"/>
<rect x="266.0" y="355.2" width="8.4" height="3.6" fill="#c8d0ff"/>
<rect x="98.0" y="358.8" width="4.2" height="3.6" fill="#c8d0ff"/>
<rect x="110.6" y="358.8" width="4.2" height="3.6" fill="#c8d0ff"/>
<rect x="119.0" y="358.8" width="25.2" height="3.6" fill="#c8d0ff"/>
<rect x="148.4" y="358.8" width="4.2" height="3.6" fill="#c8d0ff"/>
<rect x="165.2" y="358.8" width="8.4" height="3.6" fill="#c8d0ff"/>
<rect x="182.0" y="358.8" width="8.4" height="3.6" fill="#c8d0ff"/>
<rect x="194.6" y="358.8" width="12.6" height="3.6" fill="#c8d0ff"/>
<rect x="232.4" y="358.8" width="4.2" height="3.6" fill="#c8d0ff"/>
<rect x="249.2" y="358.8" width="4.2" height="3.6" fill="#c8d0ff"/>
<rect x="257.6" y="358.8" width="4.2" height="3.6" fill="#c8d0ff"/>
<rect x="131.6" y="362.4" width="8.4" height="3.6" fill="#c8d0ff"/>
<rect x="144.2" y="362.4" width="4.2" height="3.6" fill="#c8d0ff"/>
<rect x="156.8" y="362.4" width="4.2" height="3.6" fill="#c8d0ff"/>
<rect x="165.2" y="362.4" width="4.2" height="3.6" fill="#c8d0ff"/>
<rect x="177.8" y="362.4" width="25.2" height="3.6" fill="#c8d0ff"/>
<rect x="207.2" y="362.4" width="8.4" height="3.6" fill="#c8d0ff"/>
<rect x="219.8" y="362.4" width="4.2" height="3.6" fill="#c8d0ff"/>
<rect x="228.2" y="362.4" width="12.6" height="3.6" fill="#c8d0ff"/>
<rect x="245.0" y="362.4" width="21.0" height="3.6" fill="#c8d0ff"/>
<rect x="127.4" y="366.0" width="4.2" height="3.6" fill="#c8d0ff"/>
<rect x="140.0" y="366.0" width="4.2" height="3.6" fill="#c8d0ff"/>
<rect x="148.4" y="366.0" width="16.8" height="3.6" fill="#c8d0ff"/>
<rect x="177.8" y="366.0" width="4.2" height="3.6" fill="#c8d0ff"/>
<rect x="211.4" y="366.0" width="4.2" height="3.6" fill="#c8d0ff"/>
<rect x="219.8" y="366.0" width="4.2" height="3.6" fill="#c8d0ff"/>
<rect x="228.2" y="366.0" width="4.2" height="3.6" fill="#c8d0ff"/>
<rect x="245.0" y="366.0" width="12.6" height="3.6" fill="#c8d0ff"/>
<rect x="131.6" y="369.6" width="12.6" height="3.6" fill="#c8d0ff"/>
<rect x="156.8" y="369.6" width="4.2" height="3.6" fill="#c8d0ff"/>
<rect x="165.2" y="369.6" width="16.8" height="3.6" fill="#c8d0ff"/>
<rect x="186.2" y="369.6" width="8.4" height="3.6" fill="#c8d0ff"/>
<rect x="198.8" y="369.6" width="4.2" height="3.6" fill="#c8d0ff"/>
<rect x="215.6" y="369.6" width="4.2" height="3.6" fill="#c8d0ff"/>
<rect x="236.6" y="369.6" width="4.2" height="3.6" fill="#c8d0ff"/>
<rect x="257.6" y="369.6" width="4.2" height="3.6" fill="#c8d0ff"/>
<rect x="123.2" y="373.2" width="4.2" height="3.6" fill="#c8d0ff"/>
<rect x="135.8" y="373.2" width="16.8" height="3.6" fill="#c8d0ff"/>
<rect x="156.8" y="373.2" width="4.2" height="3.6" fill="#c8d0ff"/>
<rect x="165.2" y="373.2" width="4.2" height="3.6" fill="#c8d0ff"/>
<rect x="173.6" y="373.2" width="8.4" height="3.6" fill="#c8d0ff"/>
<rect x="186.2" y="373.2" width="4.2" height="3.6" fill="#c8d0ff"/>
<rect x="194.6" y="373.2" width="8.4" height="3.6" fill="#c8d0ff"/>
<rect x="215.6" y="373.2" width="4.2" height="3.6" fill="#c8d0ff"/>
<rect x="224.0" y="373.2" width="12.6" height="3.6" fill="#c8d0ff"/>
<rect x="249.2" y="373.2" width="4.2" height="3.6" fill="#c8d0ff"/>
<rect x="140.0" y="376.8" width="12.6" height="3.6" fill="#c8d0ff"/>
<rect x="169.4" y="376.8" width="4.2" height="3.6" fill="#c8d0ff"/>
<rect x="203.0" y="376.8" width="4.2" height="3.6" fill="#c8d0ff"/>
<rect x="211.4" y="376.8" width="4.2" height="3.6" fill="#c8d0ff"/>
<rect x="224.0" y="376.8" width="4.2" height="3.6" fill="#c8d0ff"/>
<rect x="232.4" y="376.8" width="4.2" height="3.6" fill="#c8d0ff"/>
<rect x="245.0" y="376.8" width="8.4" height="3.6" fill="#c8d0ff"/>
<rect x="123.2" y="380.4" width="4.2" height="3.6" fill="#c8d0ff"/>
<rect x="135.8" y="380.4" width="8.4" height="3.6" fill="#c8d0ff"/>
<rect x="161.0" y="380.4" width="4.2" height="3.6" fill="#c8d0ff"/>
<rect x="169.4" y="380.4" width="16.8" height="3.6" fill="#c8d0ff"/>
<rect x="211.4" y="380.4" width="12.6" height="3.6" fill="#c8d0ff"/>
<rect x="228.2" y="380.4" width="12.6" height="3.6" fill="#c8d0ff"/>
<rect x="135.8" y="384.0" width="16.8" height="3.6" fill="#c8d0ff"/>
<rect x="156.8" y="384.0" width="4.2" height="3.6" fill="#c8d0ff"/>
<rect x="165.2" y="384.0" width="12.6" height="3.6" fill="#c8d0ff"/>
<rect x="198.8" y="384.0" width="21.0" height="3.6" fill="#c8d0ff"/>
<rect x="224.0" y="384.0" width="12.6" height="3.6" fill="#c8d0ff"/>
<rect x="245.0" y="384.0" width="4.2" height="3.6" fill="#c8d0ff"/>
<rect x="131.6" y="387.6" width="4.2" height="3.6" fill="#c8d0ff"/>
<rect x="140.0" y="387.6" width="4.2" height="3.6" fill="#c8d0ff"/>
<rect x="148.4" y="387.6" width="12.6" height="3.6" fill="#c8d0ff"/>
<rect x="165.2" y="387.6" width="8.4" height="3.6" fill="#c8d0ff"/>
<rect x="186.2" y="387.6" width="4.2" height="3.6" fill="#c8d0ff"/>
<rect x="198.8" y="387.6" width="4.2" height="3.6" fill="#c8d0ff"/>
<rect x="207.2" y="387.6" width="4.2" height="3.6" fill="#c8d0ff"/>
<rect x="224.0" y="387.6" width="8.4" height="3.6" fill="#c8d0ff"/>
<rect x="127.4" y="391.2" width="4.2" height="3.6" fill="#c8d0ff"/>
<rect x="140.0" y="391.2" width="4.2" height="3.6" fill="#c8d0ff"/>
<rect x="156.8" y="391.2" width="21.0" height="3.6" fill="#c8d0ff"/>
<rect x="182.0" y="391.2" width="4.2" height="3.6" fill="#c8d0ff"/>
<rect x="194.6" y="391.2" width="8.4" height="3.6" fill="#c8d0ff"/>
<rect x="211.4" y="391.2" width="4.2" height="3.6" fill="#c8d0ff"/>
<rect x="219.8" y="391.2" width="4.2" height="3.6" fill="#c8d0ff"/>
<rect x="228.2" y="391.2" width="4.2" height="3.6" fill="#c8d0ff"/>
<rect x="140.0" y="394.8" width="37.8" height="3.6" fill="#c8d0ff"/>
<rect x="182.0" y="394.8" width="12.6" height="3.6" fill="#c8d0ff"/>
<rect x="211.4" y="394.8" width="4.2" height="3.6" fill="#c8d0ff"/>
<rect x="232.4" y="394.8" width="4.2" height="3.6" fill="#c8d0ff"/>
<rect x="144.2" y="398.4" width="12.6" height="3.6" fill="#c8d0ff"/>
<rect x="161.0" y="398.4" width="4.2" height="3.6" fill="#c8d0ff"/>
<rect x="169.4" y="398.4" width="4.2" height="3.6" fill="#c8d0ff"/>
<rect x="177.8" y="398.4" width="8.4" height="3.6" fill="#c8d0ff"/>
<rect x="207.2" y="398.4" width="4.2" height="3.6" fill="#c8d0ff"/>
<rect x="215.6" y="398.4" width="4.2" height="3.6" fill="#c8d0ff"/>
<rect x="144.2" y="402.0" width="4.2" height="3.6" fill="#c8d0ff"/>
<rect x="152.6" y="402.0" width="4.2" height="3.6" fill="#c8d0ff"/>
<rect x="165.2" y="402.0" width="8.4" height="3.6" fill="#c8d0ff"/>
<rect x="182.0" y="402.0" width="4.2" height="3.6" fill="#c8d0ff"/>
<rect x="190.4" y="402.0" width="4.2" height="3.6" fill="#c8d0ff"/>
<rect x="198.8" y="402.0" width="4.2" height="3.6" fill="#c8d0ff"/>
<rect x="148.4" y="405.6" width="8.4" height="3.6" fill="#c8d0ff"/>
<rect x="161.0" y="405.6" width="4.2" height="3.6" fill="#c8d0ff"/>
<rect x="169.4" y="405.6" width="4.2" height="3.6" fill="#c8d0ff"/>
<rect x="148.4" y="409.2" width="8.4" height="3.6" fill="#c8d0ff"/>
<rect x="156.8" y="412.8" width="4.2" height="3.6" fill="#c8d0ff"/>
<path d="M161.6,439.5 L154.6,421.0 L146.1,401.2 L140.4,384.3 L137.6,366.0 L139.0,349.0 L146.1,334.9 L153.1,322.2 L158.8,310.9 L167.3,299.6 L178.6,288.3 L189.8,279.8 L201.1,277.0 L212.4,281.3 L223.7,288.3 L226.5,302.4 L230.8,310.9 L240.7,306.7 L249.1,296.8 L254.8,279.8 L261.8,271.4 L276.0,268.6 L290.1,268.6 L305.6,265.7 L309.8,277.0 L307.0,295.4 L304.2,316.5 L302.8,344.8 L226.5,439.5Z" fill="#c8d2ff"/>
<path d="M220.9,243.1 C223.7,238.9 236.0,238.9 240.7,243.1 C245.4,247.4 247.3,261.0 249.1,268.6 C251.0,276.1 252.4,281.3 252.0,288.3 C251.5,295.4 249.1,306.7 246.3,310.9 C243.5,315.1 237.8,316.1 235.0,313.7 C232.2,311.4 231.3,304.3 229.4,296.8 C227.5,289.3 225.1,277.5 223.7,268.6 C222.3,259.6 218.1,247.4 220.9,243.1Z" fill="#72ca72"/>
<path d="M178.6,288.3 C180.4,284.1 186.6,280.8 189.8,279.8 C193.1,278.9 198.3,279.8 198.3,282.7 C198.3,285.5 192.2,291.1 189.8,296.8 C187.5,302.4 186.1,315.1 184.2,316.5 C182.3,318.0 179.5,310.0 178.6,305.3 C177.6,300.5 176.7,292.5 178.6,288.3Z" fill="#72ca72" opacity="0.8"/>
<path d="M261.8,271.4 C264.0,268.6 272.4,268.1 276.0,268.6 C279.5,269.0 283.7,270.9 283.0,274.2 C282.3,277.5 275.0,286.4 271.7,288.3 C268.4,290.2 264.9,288.3 263.2,285.5 C261.6,282.7 259.7,274.2 261.8,271.4Z" fill="#72ca72" opacity="0.8"/>
<path d="M294.3,268.6 C295.2,264.8 303.2,264.3 305.6,265.7 C308.0,267.1 309.4,273.3 308.4,277.0 C307.5,280.8 302.3,289.7 300.0,288.3 C297.6,286.9 293.4,272.3 294.3,268.6Z" fill="#72ca72" opacity="0.8"/>
<rect x="196.1" y="344.3" width="3.5" height="3.5" fill="#72ca72"/>
<rect x="295.5" y="311.8" width="3.5" height="3.5" fill="#72ca72"/>
<rect x="216.0" y="354.6" width="3.5" height="3.5" fill="#72ca72"/>
<rect x="171.4" y="306.0" width="3.5" height="3.5" fill="#72ca72"/>
<rect x="294.9" y="308.3" width="3.5" height="3.5" fill="#72ca72"/>
<rect x="259.3" y="352.5" width="3.5" height="3.5" fill="#72ca72"/>
<rect x="176.5" y="318.2" width="3.5" height="3.5" fill="#72ca72"/>
<rect x="225.5" y="329.1" width="3.5" height="3.5" fill="#72ca72"/>
<rect x="184.1" y="333.1" width="3.5" height="3.5" fill="#72ca72"/>
<rect x="272.6" y="291.8" width="3.5" height="3.5" fill="#72ca72"/>
<rect x="252.1" y="321.6" width="3.5" height="3.5" fill="#72ca72"/>
<rect x="194.0" y="317.8" width="3.5" height="3.5" fill="#72ca72"/>
<rect x="271.6" y="325.1" width="3.5" height="3.5" fill="#72ca72"/>
<rect x="281.5" y="305.6" width="3.5" height="3.5" fill="#72ca72"/>
<rect x="236.6" y="342.4" width="3.5" height="3.5" fill="#72ca72"/>
<rect x="172.0" y="334.4" width="3.5" height="3.5" fill="#72ca72"/>
<rect x="265.9" y="356.9" width="3.5" height="3.5" fill="#72ca72"/>
<rect x="206.0" y="278.9" width="3.5" height="3.5" fill="#72ca72"/>
<rect x="181.9" y="319.3" width="3.5" height="3.5" fill="#72ca72"/>
<rect x="204.1" y="331.6" width="3.5" height="3.5" fill="#72ca72"/>
<rect x="152.4" y="358.8" width="3.5" height="3.5" fill="#72ca72"/>
<rect x="296.9" y="346.2" width="3.5" height="3.5" fill="#72ca72"/>
<rect x="244.3" y="310.8" width="3.5" height="3.5" fill="#72ca72"/>
<rect x="291.7" y="337.2" width="3.5" height="3.5" fill="#72ca72"/>
<rect x="240.3" y="353.1" width="3.5" height="3.5" fill="#72ca72"/>
<path d="M184.2,306.7 C188.0,303.1 195.0,302.7 201.1,302.4 C207.3,302.2 216.7,302.9 220.9,305.3 C225.1,307.6 228.0,312.8 226.5,316.5 C225.1,320.3 218.3,325.5 212.4,327.8 C206.5,330.2 196.9,331.4 191.3,330.7 C185.6,330.0 179.7,327.6 178.6,323.6 C177.4,319.6 180.4,310.2 184.2,306.7Z" fill="#a8ccff" opacity="0.7"/>
<path d="M178.6,358.9 C183.3,352.8 202.1,353.2 212.4,350.4 C222.8,347.6 232.7,344.3 240.7,342.0 C248.7,339.6 253.4,338.2 260.4,336.3 C267.5,334.4 276.0,329.7 283.0,330.7 C290.1,331.6 309.8,332.5 302.8,342.0 C295.7,351.4 258.1,374.9 240.7,387.1 C223.3,399.4 208.7,411.6 198.3,415.4 C188.0,419.1 180.9,414.4 178.6,409.7 C176.2,405.0 184.2,395.6 184.2,387.1 C184.2,378.7 173.8,365.0 178.6,358.9Z" fill="#8cc4ff" opacity="0.85"/>
<path d="M254.8,330.7 C257.1,324.8 275.0,318.9 283.0,316.5 C291.0,314.2 299.5,312.3 302.8,316.5 C306.1,320.8 308.4,336.1 302.8,342.0 C297.1,347.8 276.9,353.7 268.9,351.8 C260.9,350.0 252.4,336.5 254.8,330.7Z" fill="#b8d0ff" opacity="0.7"/>
<path d="M141.8,366.0 C142.8,363.4 149.8,363.6 153.1,358.9 C156.4,354.2 158.8,342.4 161.6,337.7 C164.4,333.0 167.3,331.8 170.1,330.7 C172.9,329.5 175.7,329.3 178.6,330.7 C181.4,332.1 184.2,337.3 187.0,339.1 C189.8,341.0 192.2,342.0 195.5,342.0 C198.8,342.0 202.8,341.0 206.8,339.1 C210.8,337.3 216.7,334.4 219.5,330.7 C222.3,326.9 222.1,319.4 223.7,316.5 C225.4,313.7 226.5,314.4 229.4,313.7 C232.2,313.0 237.4,311.4 240.7,312.3 C244.0,313.3 245.8,315.4 249.1,319.4 C252.4,323.4 259.5,333.0 260.4,336.3 C261.4,339.6 257.1,338.2 254.8,339.1 C252.4,340.1 249.6,340.3 246.3,342.0 C243.0,343.6 238.8,347.1 235.0,349.0 C231.3,350.9 227.5,351.6 223.7,353.2 C220.0,354.9 216.2,357.0 212.4,358.9 C208.7,360.8 204.7,362.7 201.1,364.5 C197.6,366.4 194.1,368.1 191.3,370.2 C188.4,372.3 186.3,374.0 184.2,377.2 C182.1,380.5 178.6,386.0 178.6,390.0 C178.6,394.0 183.7,398.0 184.2,401.2 C184.7,404.5 183.7,408.3 181.4,409.7 C179.0,411.1 173.6,410.7 170.1,409.7 C166.6,408.8 162.8,406.7 160.2,404.1 C157.6,401.5 155.7,398.2 154.6,394.2 C153.4,390.2 154.3,383.4 153.1,380.1 C152.0,376.8 149.4,376.8 147.5,374.4 C145.6,372.1 140.9,368.5 141.8,366.0Z" fill="#0a1ce8"/>
<path d="M172.9,373.0 C174.3,370.7 181.4,367.4 184.2,367.4 C187.0,367.4 189.8,370.7 189.8,373.0 C189.8,375.4 186.6,380.1 184.2,381.5 C181.8,382.9 177.6,382.9 175.7,381.5 C173.8,380.1 171.5,375.4 172.9,373.0Z" fill="#3050f0" opacity="0.8"/>
<path d="M156.0,330.7 C157.1,329.0 161.6,327.6 164.4,327.8 C167.3,328.1 172.9,330.2 172.9,332.1 C172.9,334.0 167.0,338.2 164.4,339.1 C161.8,340.1 158.8,339.1 157.4,337.7 C156.0,336.3 154.8,332.3 156.0,330.7Z" fill="#4a70ff" opacity="0.8"/>
<path d="M192.7,347.6 C193.4,345.8 196.8,343.7 199.7,342.7 C202.7,341.6 207.8,340.4 210.3,341.3 C212.8,342.1 214.3,345.4 214.5,347.6 C214.8,349.8 212.9,352.2 211.7,354.7 C210.5,357.1 209.4,361.6 207.5,362.4 C205.5,363.2 202.0,361.1 200.0,359.6 C198.0,358.1 196.7,355.2 195.5,353.2 C194.3,351.2 192.0,349.4 192.7,347.6Z" fill="#ffe000"/>
<path d="M196.9,348.3 C196.7,346.5 199.3,345.4 201.1,344.8 C203.0,344.1 206.5,343.9 208.2,344.5 C209.8,345.1 211.0,346.7 211.0,348.3 C211.0,349.9 209.6,352.8 208.2,354.0 C206.8,355.1 204.4,356.3 202.5,355.4 C200.7,354.4 197.1,350.1 196.9,348.3Z" fill="#ff8a00"/>
<path d="M200.4,348.3 C200.9,347.4 203.3,346.4 204.7,346.5 C206.0,346.6 208.4,348.0 208.5,349.0 C208.6,350.0 206.5,352.1 205.4,352.5 C204.3,353.0 202.7,352.5 201.8,351.8 C201.0,351.1 200.0,349.2 200.4,348.3Z" fill="#e02010"/>
<path d="M232.2,337.7 C232.9,335.3 235.5,330.0 237.8,328.5 C240.2,327.1 244.4,327.7 246.3,329.0 C248.2,330.3 249.4,333.9 249.4,336.3 C249.5,338.8 248.3,342.2 246.6,343.7 C244.9,345.1 241.4,345.1 239.3,345.1 C237.1,345.0 234.8,344.6 233.6,343.4 C232.4,342.1 231.5,340.2 232.2,337.7Z" fill="#ffe000"/>
<path d="M235.7,337.0 C235.8,335.4 237.7,332.9 239.3,332.1 C240.8,331.3 243.7,331.5 244.9,332.4 C246.1,333.2 246.5,335.5 246.3,337.0 C246.1,338.5 244.8,340.5 243.5,341.3 C242.2,342.0 239.8,342.4 238.5,341.7 C237.3,341.0 235.6,338.6 235.7,337.0Z" fill="#ff8a00"/>
<path d="M238.5,335.6 C238.9,334.8 240.4,333.7 241.4,333.8 C242.3,333.9 244.1,335.4 244.2,336.3 C244.3,337.3 242.9,339.0 242.1,339.4 C241.3,339.8 239.8,339.5 239.3,338.9 C238.7,338.2 238.2,336.5 238.5,335.6Z" fill="#e02010"/>
<path d="M226.5,320.8 C227.0,319.0 228.7,316.1 230.8,314.9 C232.9,313.6 237.1,313.2 239.3,313.4 C241.4,313.7 243.3,314.8 243.8,316.5 C244.3,318.3 243.8,322.2 242.4,323.9 C240.9,325.6 237.4,326.5 235.0,326.7 C232.6,326.9 229.4,326.3 228.0,325.3 C226.5,324.3 226.1,322.5 226.5,320.8Z" fill="#ffe000"/>
<path d="M229.4,320.1 C229.5,318.9 231.4,317.3 232.9,316.5 C234.4,315.8 237.1,315.5 238.5,315.8 C240.0,316.2 241.3,317.5 241.4,318.7 C241.5,319.8 240.8,322.1 239.3,322.9 C237.7,323.7 233.8,324.1 232.2,323.6 C230.5,323.1 229.3,321.3 229.4,320.1Z" fill="#ff8a00"/>
<path d="M232.9,319.4 C233.5,318.6 236.1,317.7 237.1,318.0 C238.2,318.2 239.4,320.0 239.3,320.8 C239.1,321.6 237.4,322.6 236.4,322.9 C235.5,323.2 234.2,323.1 233.6,322.5 C233.0,321.9 232.3,320.1 232.9,319.4Z" fill="#e02010"/>
<path d="M236.1,319.1 C236.6,318.5 238.9,318.2 239.5,318.7 C240.2,319.1 240.4,321.3 240.0,321.9 C239.5,322.5 237.3,322.7 236.7,322.2 C236.1,321.7 235.7,319.7 236.1,319.1Z" fill="#ff60c0" opacity="0.8"/>
<rect x="171.4" y="334.8" width="3.5" height="3.5" fill="#ffe000"/>
<rect x="185.5" y="342.6" width="3.5" height="3.5" fill="#ffe000"/>
<rect x="150.5" y="368.7" width="3.5" height="3.5" fill="#ffe000"/>
<rect x="177.1" y="330.6" width="3.5" height="3.5" fill="#ffe000"/>
<path d="M376.0,176.1 C378.2,174.4 385.9,171.1 392.6,171.1 C399.3,171.1 408.2,174.4 415.9,176.1 C423.7,177.7 432.0,179.4 439.3,181.1 C446.5,182.7 457.6,184.4 459.2,186.1 C460.9,187.7 454.8,190.9 449.2,191.1 C443.7,191.2 434.3,188.2 425.9,186.7 C417.6,185.2 407.0,183.0 399.3,182.1 C391.5,181.1 383.2,182.1 379.3,181.1 C375.4,180.1 373.7,177.7 376.0,176.1Z" fill="#80b8ff"/>
<path d="M382.6,174.4 C383.2,173.3 389.8,172.2 392.6,172.7 C395.4,173.3 399.8,176.6 399.3,177.7 C398.7,178.8 392.1,180.0 389.3,179.4 C386.5,178.8 382.1,175.5 382.6,174.4Z" fill="#4070ff"/>
<path d="M412.6,177.7 C413.7,177.1 420.4,178.3 422.6,179.4 C424.8,180.5 427.0,183.7 425.9,184.4 C424.8,185.1 418.2,184.5 415.9,183.4 C413.7,182.3 411.5,178.4 412.6,177.7Z" fill="#4070ff"/>
<path d="M324.3,256.7 C326.0,253.7 339.0,247.0 346.0,245.4 C352.9,243.7 359.3,244.4 366.0,246.7 C372.6,249.0 383.2,256.0 385.9,259.4 C388.7,262.7 387.1,266.0 382.6,266.7 C378.2,267.3 367.1,263.9 359.3,263.4 C351.5,262.8 341.8,264.5 336.0,263.4 C330.1,262.2 322.7,259.7 324.3,256.7Z" fill="#9cc8ff"/>
<path d="M349.3,252.7 C350.4,251.3 359.3,250.2 362.6,251.0 C366.0,251.9 370.4,256.3 369.3,257.7 C368.2,259.1 359.3,260.2 356.0,259.4 C352.6,258.5 348.2,254.1 349.3,252.7Z" fill="#3c78ff"/>
<path d="M279.3,142.8 C280.5,140.8 287.7,136.4 292.7,136.1 C297.7,135.8 306.0,138.9 309.3,141.1 C312.7,143.3 314.3,148.1 312.7,149.4 C311.0,150.7 303.8,149.0 299.3,148.7 C294.9,148.5 289.3,148.7 286.0,147.7 C282.7,146.7 278.2,144.7 279.3,142.8Z" fill="#c8d0ff"/>
<path d="M299.3,141.1 C300.7,140.1 307.9,140.8 309.3,142.1 C310.7,143.4 309.0,147.8 307.7,148.7 C306.3,149.7 302.4,149.0 301.0,147.7 C299.6,146.5 297.9,142.0 299.3,141.1Z" fill="#80b0ff"/>
<path d="M244.4,226.0 C244.1,224.7 252.7,221.5 256.0,221.0 C259.4,220.6 264.1,222.0 264.3,223.4 C264.6,224.8 261.0,228.9 257.7,229.4 C254.4,229.8 244.6,227.4 244.4,226.0Z" fill="#80b0ff"/>
</g></g>
<g stroke="#000" stroke-width="1.4" fill="none">
<line x1="69.45" y1="40.7" x2="69.45" y2="549.0" stroke-dasharray="3 5.47"/>
<line x1="148.15" y1="40.7" x2="148.15" y2="549.0" stroke-dasharray="3 5.47"/>
<line x1="226.85" y1="40.7" x2="226.85" y2="549.0" stroke-dasharray="3 5.47"/>
<line x1="305.55" y1="40.7" x2="305.55" y2="549.0" stroke-dasharray="3 5.47"/>
<line x1="384.25" y1="40.7" x2="384.25" y2="549.0" stroke-dasharray="3 5.47"/>
<line x1="462.95" y1="40.7" x2="462.95" y2="549.0" stroke-dasharray="3 5.47"/>
<line x1="12.7" y1="70.40" x2="485.8" y2="70.40" stroke-dasharray="3 5.2"/>
<line x1="12.7" y1="154.98" x2="485.8" y2="154.98" stroke-dasharray="3 5.2"/>
<line x1="12.7" y1="239.56" x2="485.8" y2="239.56" stroke-dasharray="3 5.2"/>
<line x1="12.7" y1="324.14" x2="485.8" y2="324.14" stroke-dasharray="3 5.2"/>
<line x1="12.7" y1="408.72" x2="485.8" y2="408.72" stroke-dasharray="3 5.2"/>
<line x1="12.7" y1="493.30" x2="485.8" y2="493.30" stroke-dasharray="3 5.2"/>
</g>
<g stroke="#000" stroke-width="1.2" fill="none" stroke-dasharray="12.3 11.3">
<path d="M13.00,284.74 L27.03,274.19 L41.06,263.69 L55.09,253.24 L69.12,242.85 L83.15,232.52 L97.17,222.24 L111.20,212.01 L125.23,201.84 L139.26,191.72 L153.29,181.65 L167.32,171.64 L181.35,161.68 L195.38,151.78 L209.41,141.93 L223.44,132.14 L237.47,122.40 L251.50,112.72 L265.52,103.09 L279.55,93.51 L293.58,83.99 L307.61,74.52 L321.64,65.10 L335.67,55.74 L349.70,46.44"/>
<path d="M13.20,398.31 L32.89,383.44 L52.58,368.67 L72.26,354.00 L91.95,339.42 L111.64,324.94 L131.32,310.55 L151.01,296.27 L170.70,282.07 L190.39,267.98 L210.07,253.98 L229.76,240.08 L249.45,226.28 L269.14,212.57 L288.82,198.97 L308.51,185.45 L328.20,172.04 L347.89,158.72 L367.57,145.50 L387.26,132.37 L406.95,119.34 L426.64,106.41 L446.32,93.58 L466.01,80.84 L485.70,68.20"/>
</g>
<text transform="translate(57.29,303.00)" font-size="12.6" fill="#000">-118</text>
<text transform="translate(136.02,303.00)" font-size="12.6" fill="#000">-116</text>
<text transform="translate(214.63,303.00)" font-size="12.6" fill="#000">-114</text>
<text transform="translate(293.45,303.00)" font-size="12.6" fill="#000">-112</text>
<text transform="translate(372.09,303.00)" font-size="12.6" fill="#000">-110</text>
<text transform="translate(450.32,303.00)" font-size="12.6" fill="#000">-108</text>
<text transform="translate(239.89,70.40)" font-size="12.6" fill="#000">18</text>
<text transform="translate(239.92,154.98)" font-size="12.6" fill="#000">16</text>
<text transform="translate(239.82,239.56)" font-size="12.6" fill="#000">14</text>
<text transform="translate(239.95,324.14)" font-size="12.6" fill="#000">12</text>
<text transform="translate(239.89,408.72)" font-size="12.6" fill="#000">10</text>
<text transform="translate(243.57,493.30)" font-size="12.6" fill="#000">8</text>
<path d="M247.1,288.1h4.6v4.1h4.3v4.6h-4.3v4.4h-4.6v-4.4h-4.4v-4.6h4.4z" fill="#000"/>
<text transform="translate(43.30,66.00) scale(0.9804,1)" font-size="25.5" fill="#000">37GHz PCT (K)</text>
<text transform="translate(438.00,523.00)" font-size="30.0" fill="#000">(e)</text>
<rect x="495.1" y="40.70" width="8.9" height="8.76" fill="#561a18"/>
<rect x="495.1" y="49.16" width="8.9" height="8.76" fill="#5a1613"/>
<rect x="495.1" y="57.62" width="8.9" height="8.76" fill="#5d130e"/>
<rect x="495.1" y="66.08" width="8.9" height="8.76" fill="#601009"/>
<rect x="495.1" y="74.54" width="8.9" height="8.76" fill="#640c04"/>
<rect x="495.1" y="83.01" width="8.9" height="8.76" fill="#9c0c00"/>
<rect x="495.1" y="91.47" width="8.9" height="8.76" fill="#a60900"/>
<rect x="495.1" y="99.93" width="8.9" height="8.76" fill="#b00600"/>
<rect x="495.1" y="108.39" width="8.9" height="8.76" fill="#ba0300"/>
<rect x="495.1" y="116.85" width="8.9" height="8.76" fill="#c40000"/>
<rect x="495.1" y="125.31" width="8.9" height="8.76" fill="#ff1400"/>
<rect x="495.1" y="133.77" width="8.9" height="8.76" fill="#ff2100"/>
<rect x="495.1" y="142.23" width="8.9" height="8.76" fill="#ff2e00"/>
<rect x="495.1" y="150.69" width="8.9" height="8.76" fill="#ff3b00"/>
<rect x="495.1" y="159.15" width="8.9" height="8.76" fill="#ff4800"/>
<rect x="495.1" y="167.62" width="8.9" height="8.76" fill="#ff7000"/>
<rect x="495.1" y="176.08" width="8.9" height="8.76" fill="#ff7700"/>
<rect x="495.1" y="184.54" width="8.9" height="8.76" fill="#ff7e00"/>
<rect x="495.1" y="193.00" width="8.9" height="8.76" fill="#ff8500"/>
<rect x="495.1" y="201.46" width="8.9" height="8.76" fill="#ff8c00"/>
<rect x="495.1" y="209.92" width="8.9" height="8.76" fill="#ffc800"/>
<rect x="495.1" y="218.38" width="8.9" height="8.76" fill="#ffd600"/>
<rect x="495.1" y="226.84" width="8.9" height="8.76" fill="#ffe400"/>
<rect x="495.1" y="235.30" width="8.9" height="8.76" fill="#fff100"/>
<rect x="495.1" y="243.76" width="8.9" height="8.76" fill="#ffff00"/>
<rect x="495.1" y="252.23" width="8.9" height="8.76" fill="#0000b4"/>
<rect x="495.1" y="260.69" width="8.9" height="8.76" fill="#0000c0"/>
<rect x="495.1" y="269.15" width="8.9" height="8.76" fill="#0000cc"/>
<rect x="495.1" y="277.61" width="8.9" height="8.76" fill="#0000e6"/>
<rect x="495.1" y="286.07" width="8.9" height="8.76" fill="#0000ff"/>
<rect x="495.1" y="294.53" width="8.9" height="8.76" fill="#2828ff"/>
<rect x="495.1" y="302.99" width="8.9" height="8.76" fill="#3c3cff"/>
<rect x="495.1" y="311.45" width="8.9" height="8.76" fill="#4060ff"/>
<rect x="495.1" y="319.91" width="8.9" height="8.76" fill="#4080ff"/>
<rect x="495.1" y="328.37" width="8.9" height="8.76" fill="#40a0ff"/>
<rect x="495.1" y="336.84" width="8.9" height="8.76" fill="#58b4ff"/>
<rect x="495.1" y="345.30" width="8.9" height="8.76" fill="#78c0ff"/>
<rect x="495.1" y="353.76" width="8.9" height="8.76" fill="#98c8ff"/>
<rect x="495.1" y="362.22" width="8.9" height="8.76" fill="#b4ccff"/>
<rect x="495.1" y="370.68" width="8.9" height="8.76" fill="#ccd4ff"/>
<rect x="495.1" y="379.14" width="8.9" height="8.76" fill="#60b460"/>
<rect x="495.1" y="387.60" width="8.9" height="8.76" fill="#68bf68"/>
<rect x="495.1" y="396.06" width="8.9" height="8.76" fill="#70ca70"/>
<rect x="495.1" y="404.52" width="8.9" height="8.76" fill="#78d578"/>
<rect x="495.1" y="412.98" width="8.9" height="8.76" fill="#80e080"/>
<rect x="495.1" y="421.45" width="8.9" height="8.76" fill="#909090"/>
<rect x="495.1" y="429.91" width="8.9" height="8.76" fill="#989898"/>
<rect x="495.1" y="438.37" width="8.9" height="8.76" fill="#a0a0a0"/>
<rect x="495.1" y="446.83" width="8.9" height="8.76" fill="#a8a8a8"/>
<rect x="495.1" y="455.29" width="8.9" height="8.76" fill="#afafaf"/>
<rect x="495.1" y="463.75" width="8.9" height="8.76" fill="#b7b7b7"/>
<rect x="495.1" y="472.21" width="8.9" height="8.76" fill="#bfbfbf"/>
<rect x="495.1" y="480.67" width="8.9" height="8.76" fill="#c7c7c7"/>
<rect x="495.1" y="489.13" width="8.9" height="8.76" fill="#cfcfcf"/>
<rect x="495.1" y="497.59" width="8.9" height="8.76" fill="#d7d7d7"/>
<rect x="495.1" y="506.06" width="8.9" height="8.76" fill="#dedede"/>
<rect x="495.1" y="514.52" width="8.9" height="8.76" fill="#e6e6e6"/>
<rect x="495.1" y="522.98" width="8.9" height="8.76" fill="#eeeeee"/>
<rect x="495.1" y="531.44" width="8.9" height="8.76" fill="#f6f6f6"/>
<line x1="504" y1="91.60" x2="506.5" y2="91.60" stroke="#000" stroke-width="0.9"/>
<text transform="translate(506.82,100.10)" font-size="19.8" fill="#000">234</text>
<line x1="504" y1="142.35" x2="506.5" y2="142.35" stroke="#000" stroke-width="0.9"/>
<text transform="translate(506.97,150.85)" font-size="19.8" fill="#000">243</text>
<line x1="504" y1="193.10" x2="506.5" y2="193.10" stroke="#000" stroke-width="0.9"/>
<text transform="translate(507.02,201.60)" font-size="19.8" fill="#000">252</text>
<line x1="504" y1="243.85" x2="506.5" y2="243.85" stroke="#000" stroke-width="0.9"/>
<text transform="translate(507.02,252.35)" font-size="19.8" fill="#000">261</text>
<line x1="504" y1="294.60" x2="506.5" y2="294.60" stroke="#000" stroke-width="0.9"/>
<text transform="translate(506.92,303.10)" font-size="19.8" fill="#000">270</text>
<line x1="504" y1="345.35" x2="506.5" y2="345.35" stroke="#000" stroke-width="0.9"/>
<text transform="translate(506.97,353.85)" font-size="19.8" fill="#000">279</text>
<line x1="504" y1="396.10" x2="506.5" y2="396.10" stroke="#000" stroke-width="0.9"/>
<text transform="translate(506.92,404.60)" font-size="19.8" fill="#000">288</text>
<line x1="504" y1="446.85" x2="506.5" y2="446.85" stroke="#000" stroke-width="0.9"/>
<text transform="translate(507.02,455.35)" font-size="19.8" fill="#000">297</text>
<line x1="504" y1="497.60" x2="506.5" y2="497.60" stroke="#000" stroke-width="0.9"/>
<text transform="translate(507.07,506.10)" font-size="19.8" fill="#000">306</text>
<line x1="504" y1="548.35" x2="506.5" y2="548.35" stroke="#000" stroke-width="0.9"/>
<text transform="translate(507.02,556.85)" font-size="19.8" fill="#000">315</text>
</g>
<g transform="translate(1181.0,590.5)">
<g clip-path="url(#pc)"><path d="M132.6,206.0 L138.3,216.0 L134.9,229.4 L141.6,239.4 L147.2,252.7 L145.9,262.7 L134.9,268.7 L139.3,276.0 L146.6,286.0 L153.2,301.0 L156.6,319.3 L166.6,324.3 L186.6,329.3 L206.5,332.6 L221.5,326.0 L234.9,320.0 L243.2,316.0 L253.2,317.7 L259.2,322.7 L258.2,334.3 L266.5,339.3 L256.5,347.6 L244.9,356.0 L233.2,361.0 L216.5,356.0 L206.5,359.3 L199.9,369.3 L196.6,379.3 L208.2,382.6 L199.9,385.9 L184.9,390.9 L184.9,405.9 L173.2,412.6 L154.9,409.3 L151.6,392.6 L149.9,372.6 L148.2,366.0 L133.3,359.3 L131.6,351.0 L141.6,342.6 L146.6,336.0 L143.3,329.3 L149.9,319.3 L143.3,306.0 L133.3,299.3 L126.6,296.0 L116.6,289.3 L108.3,286.0 L109.9,272.7 L113.3,262.7 L106.6,246.0 L113.3,247.7 L116.6,262.7 L126.6,266.0 L123.3,256.0 L129.9,246.0 L126.6,232.7 L131.6,219.4Z" fill="#84dc84" stroke="#000" stroke-width="1.7"/>
<path d="M139.9,352.6 C142.4,350.4 151.0,348.7 156.6,349.3 C162.1,349.9 169.3,353.2 173.2,356.0 C177.1,358.7 181.0,363.5 179.9,366.0 C178.8,368.5 171.6,370.4 166.6,371.0 C161.6,371.5 154.1,370.7 149.9,369.3 C145.8,367.9 143.3,365.4 141.6,362.6 C139.9,359.9 137.4,354.9 139.9,352.6Z" fill="#a8c8ff" opacity="0.85"/>
<path d="M159.9,329.3 C161.0,327.6 173.2,331.0 179.9,332.6 C186.6,334.3 194.3,337.1 199.9,339.3 C205.4,341.5 212.1,343.5 213.2,346.0 C214.3,348.5 210.4,353.5 206.5,354.3 C202.7,355.1 195.4,352.9 189.9,351.0 C184.3,349.0 178.2,346.2 173.2,342.6 C168.2,339.0 158.8,331.0 159.9,329.3Z" fill="#a0c4ff" opacity="0.9"/>
<path d="M194.9,341.0 C196.6,340.1 203.5,341.0 206.5,342.6 C209.6,344.3 213.8,349.3 213.2,351.0 C212.7,352.6 206.0,353.2 203.2,352.6 C200.4,352.1 197.9,349.6 196.6,347.6 C195.2,345.7 193.2,341.8 194.9,341.0Z" fill="#2040ff"/>
<path d="M229.9,319.3 C232.1,317.4 242.6,316.0 246.5,317.7 C250.4,319.3 253.2,324.6 253.2,329.3 C253.2,334.0 249.3,343.7 246.5,346.0 C243.8,348.2 238.8,345.4 236.5,342.6 C234.3,339.9 234.3,333.2 233.2,329.3 C232.1,325.4 227.6,321.3 229.9,319.3Z" fill="#a0c4ff"/>
<path d="M234.9,327.6 C236.0,325.4 242.9,324.3 244.9,326.0 C246.8,327.6 247.6,335.4 246.5,337.6 C245.4,339.9 240.1,341.0 238.2,339.3 C236.3,337.6 233.8,329.9 234.9,327.6Z" fill="#2a50ff"/>
<rect x="239.2" y="335.8" width="2.5" height="2.5" fill="#ffe000"/>
<path d="M119.9,290.0 L131.6,289.3 L134.9,301.0 L131.6,311.0 L126.6,312.7 L121.6,301.0Z" fill="#fff" stroke="#000" stroke-width="1.7"/>
<path d="M143.9,341.0 L159.9,339.3 L166.6,346.0 L159.9,352.6 L146.6,352.0Z" fill="#fff" stroke="#000" stroke-width="1.7"/>
<ellipse cx="129.9" cy="249.4" rx="6.0" ry="4.3" fill="#fff" stroke="#000" stroke-width="1.1" transform="rotate(40 129.9 249.4)"/>
<ellipse cx="213.2" cy="257.0" rx="4.7" ry="6.7" fill="#fff" stroke="#000" stroke-width="1.1" transform="rotate(-20 213.2 257.0)"/>
<ellipse cx="398.1" cy="173.4" rx="6.7" ry="3.7" fill="#fff" stroke="#000" stroke-width="1.1" transform="rotate(0 398.1 173.4)"/>
<path d="M83.3,226.0 L89.9,222.0 L97.3,232.7 L94.9,240.0 L98.9,246.7 L93.9,250.0 L88.3,240.0 L85.0,232.7Z" fill="#84dc84" stroke="#000" stroke-width="1.7"/>
<path d="M146.6,212.7 L154.9,204.4 L159.2,207.7 L156.6,219.4 L149.9,220.0Z" fill="#84dc84" stroke="#000" stroke-width="1.7"/>
<path d="M151.6,190.1 L153.9,181.1 L157.2,175.4 L158.9,182.7 L154.6,193.4Z" fill="#84dc84" stroke="#000" stroke-width="1.7"/>
<path d="M168.2,186.1 L171.6,182.1 L176.6,190.1 L169.9,191.1Z" fill="#84dc84" stroke="#000" stroke-width="1.7"/>
<path d="M213.2,151.1 L219.9,141.1 L229.9,136.1 L233.2,146.1 L238.2,151.1 L226.5,152.1Z" fill="#84dc84" stroke="#000" stroke-width="1.7"/>
<path d="M281.5,142.8 L286.5,137.8 L293.2,143.4 L286.5,145.1Z" fill="#84dc84" stroke="#000" stroke-width="1.7"/>
<path d="M298.2,143.4 L304.8,141.1 L313.2,146.7 L303.2,148.7Z" fill="#84dc84" stroke="#000" stroke-width="1.7"/>
<path d="M321.5,152.1 L328.1,156.1 L329.1,160.1 L323.8,158.1Z" fill="#84dc84" stroke="#000" stroke-width="1.7"/>
<path d="M353.8,166.7 L361.5,165.4 L363.8,169.4 L356.5,170.1Z" fill="#84dc84" stroke="#000" stroke-width="1.7"/>
<path d="M373.1,169.4 L386.4,172.1 L399.8,169.4 L413.1,174.4 L426.4,177.7 L443.1,179.4 L456.4,184.4 L453.1,188.1 L436.4,186.1 L430.4,189.4 L429.1,193.4 L420.4,191.4 L416.4,186.1 L399.8,181.4 L383.1,181.4 L374.8,181.4Z" fill="#84dc84" stroke="#000" stroke-width="1.7"/>
<path d="M379.8,172.7 C381.5,171.9 388.4,171.9 389.8,172.7 C391.2,173.6 389.8,176.9 388.1,177.7 C386.4,178.6 381.2,178.6 379.8,177.7 C378.4,176.9 378.1,173.6 379.8,172.7Z" fill="#a8c8ff"/>
<path d="M199.9,276.0 L203.9,266.0 L213.2,262.7 L223.9,256.0 L233.2,249.4 L237.2,251.0 L230.5,262.7 L220.5,273.3 L217.2,284.7 L203.2,286.7Z" fill="#84dc84" stroke="#000" stroke-width="1.7"/>
<path d="M238.2,226.0 L246.5,222.0 L259.9,222.7 L267.2,226.7 L260.5,230.0 L246.5,230.0Z" fill="#84dc84" stroke="#000" stroke-width="1.7"/>
<path d="M248.2,224.4 C249.6,223.7 256.8,223.7 258.2,224.4 C259.6,225.1 257.9,228.0 256.5,228.7 C255.1,229.4 251.2,229.4 249.9,228.7 C248.5,228.0 246.8,225.1 248.2,224.4Z" fill="#a8c8ff"/>
<path d="M338.1,256.0 L349.8,246.0 L363.1,247.7 L376.5,253.4 L389.8,256.7 L400.4,251.0 L397.1,263.4 L386.4,266.7 L373.1,263.4 L353.1,265.0 L343.1,261.4Z" fill="#84dc84" stroke="#000" stroke-width="1.7"/>
<path d="M353.1,252.7 C354.8,251.5 362.0,251.9 366.5,252.7 C370.9,253.5 379.2,256.3 379.8,257.7 C380.3,259.1 373.7,260.6 369.8,261.0 C365.9,261.4 359.2,261.4 356.5,260.0 C353.7,258.6 351.5,253.9 353.1,252.7Z" fill="#a8c8ff"/>
<path d="M203.2,304.3 L209.9,301.0 L217.2,309.3 L229.9,314.3 L233.9,320.0 L223.9,324.6 L213.2,316.7 L206.5,312.7Z" fill="#84dc84" stroke="#000" stroke-width="1.7"/>
<path d="M231.5,314.3 C233.0,312.7 239.3,311.4 241.5,312.0 C243.8,312.5 245.4,315.8 244.9,317.7 C244.3,319.5 240.3,322.6 238.2,323.3 C236.1,324.0 233.6,323.5 232.5,322.0 C231.4,320.5 230.0,316.0 231.5,314.3Z" fill="#000"/>
<path d="M293.2,314.3 L298.2,311.0 L301.5,317.7 L296.5,320.0Z" fill="#84dc84" stroke="#000" stroke-width="1.7"/>
<path d="M303.2,304.3 L308.2,301.0 L310.5,306.0 L305.8,307.7Z" fill="#84dc84" stroke="#000" stroke-width="1.7"/>
<path d="M216.5,376.6 L233.2,368.0 L242.2,367.3 L233.9,379.3 L225.5,383.3Z" fill="#84dc84" stroke="#000" stroke-width="1.7"/>
<path d="M121.6,353.3 L126.6,350.0 L129.3,356.0Z" fill="#84dc84" stroke="#000" stroke-width="1.7"/>
<path d="M12.7,514.2 L25.0,517.5 L20.0,524.2 L12.7,525.9Z" fill="#84dc84" stroke="#000" stroke-width="1.7"/>
<path d="M36.6,527.5 L43.3,520.9 L46.6,524.2 L41.6,529.9Z" fill="#84dc84" stroke="#000" stroke-width="1.7"/>
<path d="M12.7,535.9 L21.7,540.9 L16.7,545.9 L12.7,547.5Z" fill="#84dc84" stroke="#000" stroke-width="1.7"/>
<rect x="264.8" y="145.1" width="2.5" height="1.6" fill="#5cb85c"/>
<rect x="273.2" y="229.4" width="2.5" height="1.6" fill="#5cb85c"/>
<rect x="409.8" y="260.0" width="2.5" height="1.6" fill="#5cb85c"/>
<rect x="328.1" y="253.7" width="2.5" height="1.6" fill="#5cb85c"/>
<rect x="483.1" y="178.7" width="2.5" height="1.6" fill="#5cb85c"/>
<rect x="191.6" y="239.4" width="2.5" height="1.6" fill="#5cb85c"/>
<rect x="313.2" y="281.0" width="2.5" height="1.6" fill="#5cb85c"/>
<rect x="436.4" y="194.4" width="2.5" height="1.6" fill="#5cb85c"/>
<rect x="394.8" y="187.7" width="2.5" height="1.6" fill="#5cb85c"/>
<path d="M198.5,342 h1.6 v2 h2 v1.6 h-2 v2 h-1.6 v-2 h-2 v-1.6 h2z" fill="#000"/></g>
<g stroke="#000" stroke-width="1.4" fill="none">
<line x1="69.45" y1="40.7" x2="69.45" y2="549.0" stroke-dasharray="3 5.47"/>
<line x1="148.15" y1="40.7" x2="148.15" y2="549.0" stroke-dasharray="3 5.47"/>
<line x1="226.85" y1="40.7" x2="226.85" y2="549.0" stroke-dasharray="3 5.47"/>
<line x1="305.55" y1="40.7" x2="305.55" y2="549.0" stroke-dasharray="3 5.47"/>
<line x1="384.25" y1="40.7" x2="384.25" y2="549.0" stroke-dasharray="3 5.47"/>
<line x1="462.95" y1="40.7" x2="462.95" y2="549.0" stroke-dasharray="3 5.47"/>
<line x1="12.7" y1="70.40" x2="485.8" y2="70.40" stroke-dasharray="3 5.2"/>
<line x1="12.7" y1="154.98" x2="485.8" y2="154.98" stroke-dasharray="3 5.2"/>
<line x1="12.7" y1="239.56" x2="485.8" y2="239.56" stroke-dasharray="3 5.2"/>
<line x1="12.7" y1="324.14" x2="485.8" y2="324.14" stroke-dasharray="3 5.2"/>
<line x1="12.7" y1="408.72" x2="485.8" y2="408.72" stroke-dasharray="3 5.2"/>
<line x1="12.7" y1="493.30" x2="485.8" y2="493.30" stroke-dasharray="3 5.2"/>
</g>
<g stroke="#000" stroke-width="1.2" fill="none" stroke-dasharray="12.3 11.3">
<path d="M13.00,284.74 L27.03,274.19 L41.06,263.69 L55.09,253.24 L69.12,242.85 L83.15,232.52 L97.17,222.24 L111.20,212.01 L125.23,201.84 L139.26,191.72 L153.29,181.65 L167.32,171.64 L181.35,161.68 L195.38,151.78 L209.41,141.93 L223.44,132.14 L237.47,122.40 L251.50,112.72 L265.52,103.09 L279.55,93.51 L293.58,83.99 L307.61,74.52 L321.64,65.10 L335.67,55.74 L349.70,46.44"/>
<path d="M13.20,398.31 L32.89,383.44 L52.58,368.67 L72.26,354.00 L91.95,339.42 L111.64,324.94 L131.32,310.55 L151.01,296.27 L170.70,282.07 L190.39,267.98 L210.07,253.98 L229.76,240.08 L249.45,226.28 L269.14,212.57 L288.82,198.97 L308.51,185.45 L328.20,172.04 L347.89,158.72 L367.57,145.50 L387.26,132.37 L406.95,119.34 L426.64,106.41 L446.32,93.58 L466.01,80.84 L485.70,68.20"/>
</g>
<text transform="translate(57.29,303.00)" font-size="12.6" fill="#000">-118</text>
<text transform="translate(136.02,303.00)" font-size="12.6" fill="#000">-116</text>
<text transform="translate(214.63,303.00)" font-size="12.6" fill="#000">-114</text>
<text transform="translate(293.45,303.00)" font-size="12.6" fill="#000">-112</text>
<text transform="translate(372.09,303.00)" font-size="12.6" fill="#000">-110</text>
<text transform="translate(450.32,303.00)" font-size="12.6" fill="#000">-108</text>
<text transform="translate(239.89,70.40)" font-size="12.6" fill="#000">18</text>
<text transform="translate(239.92,154.98)" font-size="12.6" fill="#000">16</text>
<text transform="translate(239.82,239.56)" font-size="12.6" fill="#000">14</text>
<text transform="translate(239.95,324.14)" font-size="12.6" fill="#000">12</text>
<text transform="translate(239.89,408.72)" font-size="12.6" fill="#000">10</text>
<text transform="translate(243.57,493.30)" font-size="12.6" fill="#000">8</text>
<path d="M247.1,288.1h4.6v4.1h4.3v4.6h-4.3v4.4h-4.6v-4.4h-4.4v-4.6h4.4z" fill="#000"/>
<text transform="translate(36.45,66.00) scale(0.9790,1)" font-size="25.5" fill="#000">2A12 rainrate (mm/hr)</text>
<text transform="translate(438.00,523.00)" font-size="30.0" fill="#000">(f)</text>
<rect x="495.1" y="40.70" width="8.9" height="8.76" fill="#561a18"/>
<rect x="495.1" y="49.16" width="8.9" height="8.76" fill="#5a1613"/>
<rect x="495.1" y="57.62" width="8.9" height="8.76" fill="#5d130e"/>
<rect x="495.1" y="66.08" width="8.9" height="8.76" fill="#601009"/>
<rect x="495.1" y="74.54" width="8.9" height="8.76" fill="#640c04"/>
<rect x="495.1" y="83.01" width="8.9" height="8.76" fill="#9c0c00"/>
<rect x="495.1" y="91.47" width="8.9" height="8.76" fill="#a30a00"/>
<rect x="495.1" y="99.93" width="8.9" height="8.76" fill="#a90800"/>
<rect x="495.1" y="108.39" width="8.9" height="8.76" fill="#b00600"/>
<rect x="495.1" y="116.85" width="8.9" height="8.76" fill="#b70400"/>
<rect x="495.1" y="125.31" width="8.9" height="8.76" fill="#bd0200"/>
<rect x="495.1" y="133.77" width="8.9" height="8.76" fill="#c40000"/>
<rect x="495.1" y="142.23" width="8.9" height="8.76" fill="#ff1400"/>
<rect x="495.1" y="150.69" width="8.9" height="8.76" fill="#ff1d00"/>
<rect x="495.1" y="159.15" width="8.9" height="8.76" fill="#ff2500"/>
<rect x="495.1" y="167.62" width="8.9" height="8.76" fill="#ff2e00"/>
<rect x="495.1" y="176.08" width="8.9" height="8.76" fill="#ff3700"/>
<rect x="495.1" y="184.54" width="8.9" height="8.76" fill="#ff3f00"/>
<rect x="495.1" y="193.00" width="8.9" height="8.76" fill="#ff4800"/>
<rect x="495.1" y="201.46" width="8.9" height="8.76" fill="#ff7000"/>
<rect x="495.1" y="209.92" width="8.9" height="8.76" fill="#ff7600"/>
<rect x="495.1" y="218.38" width="8.9" height="8.76" fill="#ff7b00"/>
<rect x="495.1" y="226.84" width="8.9" height="8.76" fill="#ff8100"/>
<rect x="495.1" y="235.30" width="8.9" height="8.76" fill="#ff8600"/>
<rect x="495.1" y="243.76" width="8.9" height="8.76" fill="#ff8c00"/>
<rect x="495.1" y="252.23" width="8.9" height="8.76" fill="#ffc800"/>
<rect x="495.1" y="260.69" width="8.9" height="8.76" fill="#ffd100"/>
<rect x="495.1" y="269.15" width="8.9" height="8.76" fill="#ffda00"/>
<rect x="495.1" y="277.61" width="8.9" height="8.76" fill="#ffe400"/>
<rect x="495.1" y="286.07" width="8.9" height="8.76" fill="#ffed00"/>
<rect x="495.1" y="294.53" width="8.9" height="8.76" fill="#fff600"/>
<rect x="495.1" y="302.99" width="8.9" height="8.76" fill="#ffff00"/>
<rect x="495.1" y="311.45" width="8.9" height="8.76" fill="#0000b4"/>
<rect x="495.1" y="319.91" width="8.9" height="8.76" fill="#0000c0"/>
<rect x="495.1" y="328.37" width="8.9" height="8.76" fill="#0000cc"/>
<rect x="495.1" y="336.84" width="8.9" height="8.76" fill="#0000e6"/>
<rect x="495.1" y="345.30" width="8.9" height="8.76" fill="#0000ff"/>
<rect x="495.1" y="353.76" width="8.9" height="8.76" fill="#0000ff"/>
<rect x="495.1" y="362.22" width="8.9" height="8.76" fill="#2828ff"/>
<rect x="495.1" y="370.68" width="8.9" height="8.76" fill="#3030ff"/>
<rect x="495.1" y="379.14" width="8.9" height="8.76" fill="#3c3cff"/>
<rect x="495.1" y="387.60" width="8.9" height="8.76" fill="#4050ff"/>
<rect x="495.1" y="396.06" width="8.9" height="8.76" fill="#4060ff"/>
<rect x="495.1" y="404.52" width="8.9" height="8.76" fill="#4080ff"/>
<rect x="495.1" y="412.98" width="8.9" height="8.76" fill="#40a0ff"/>
<rect x="495.1" y="421.45" width="8.9" height="8.76" fill="#50b0ff"/>
<rect x="495.1" y="429.91" width="8.9" height="8.76" fill="#60b8ff"/>
<rect x="495.1" y="438.37" width="8.9" height="8.76" fill="#78c0ff"/>
<rect x="495.1" y="446.83" width="8.9" height="8.76" fill="#90c4ff"/>
<rect x="495.1" y="455.29" width="8.9" height="8.76" fill="#a8c8ff"/>
<rect x="495.1" y="463.75" width="8.9" height="8.76" fill="#b8ccff"/>
<rect x="495.1" y="472.21" width="8.9" height="8.76" fill="#ccd4ff"/>
<rect x="495.1" y="480.67" width="8.9" height="8.76" fill="#60b460"/>
<rect x="495.1" y="489.13" width="8.9" height="8.76" fill="#66bc66"/>
<rect x="495.1" y="497.59" width="8.9" height="8.76" fill="#6cc46c"/>
<rect x="495.1" y="506.06" width="8.9" height="8.76" fill="#72cc72"/>
<rect x="495.1" y="514.52" width="8.9" height="8.76" fill="#78d478"/>
<rect x="495.1" y="522.98" width="8.9" height="8.76" fill="#7edc7e"/>
<rect x="495.1" y="531.44" width="8.9" height="8.76" fill="#84e484"/>
<line x1="504" y1="91.60" x2="506.5" y2="91.60" stroke="#000" stroke-width="0.9"/>
<text transform="translate(512.91,100.10)" font-size="19.8" fill="#000">54</text>
<line x1="504" y1="142.35" x2="506.5" y2="142.35" stroke="#000" stroke-width="0.9"/>
<text transform="translate(513.16,150.85)" font-size="19.8" fill="#000">48</text>
<line x1="504" y1="193.10" x2="506.5" y2="193.10" stroke="#000" stroke-width="0.9"/>
<text transform="translate(513.26,201.60)" font-size="19.8" fill="#000">42</text>
<line x1="504" y1="243.85" x2="506.5" y2="243.85" stroke="#000" stroke-width="0.9"/>
<text transform="translate(513.06,252.35)" font-size="19.8" fill="#000">36</text>
<line x1="504" y1="294.60" x2="506.5" y2="294.60" stroke="#000" stroke-width="0.9"/>
<text transform="translate(513.01,303.10)" font-size="19.8" fill="#000">30</text>
<line x1="504" y1="345.35" x2="506.5" y2="345.35" stroke="#000" stroke-width="0.9"/>
<text transform="translate(512.81,353.85)" font-size="19.8" fill="#000">24</text>
<line x1="504" y1="396.10" x2="506.5" y2="396.10" stroke="#000" stroke-width="0.9"/>
<text transform="translate(512.66,404.60)" font-size="19.8" fill="#000">18</text>
<line x1="504" y1="446.85" x2="506.5" y2="446.85" stroke="#000" stroke-width="0.9"/>
<text transform="translate(512.76,455.35)" font-size="19.8" fill="#000">12</text>
<line x1="504" y1="497.60" x2="506.5" y2="497.60" stroke="#000" stroke-width="0.9"/>
<text transform="translate(518.46,506.10)" font-size="19.8" fill="#000">6</text>
<line x1="504" y1="548.35" x2="506.5" y2="548.35" stroke="#000" stroke-width="0.9"/>
<text transform="translate(518.51,556.85)" font-size="19.8" fill="#000">0</text>
</g>
<g transform="translate(0.0,1181.0)">
<g clip-path="url(#pc)"><defs><clipPath id="swg"><path d="M12.7,148.7 L68.9,109.2 L118.6,73.0 L163.2,40.5 L486.0,40.5 L486.0,198.5 L395.2,260.7 L355.0,289.0 L290.0,332.3 L226.7,377.3 L141.2,438.3 L68.9,493.0 L12.7,534.8Z"/></clipPath>
<linearGradient id="gg1" x1="0" y1="0" x2="0.35" y2="1"><stop offset="0" stop-color="#c6c6c6"/><stop offset="0.45" stop-color="#cecece"/><stop offset="0.75" stop-color="#d8d8d8"/><stop offset="1" stop-color="#d4d4d4"/></linearGradient></defs>
<path d="M12.7,148.7 L68.9,109.2 L118.6,73.0 L163.2,40.5 L486.0,40.5 L486.0,198.5 L395.2,260.7 L355.0,289.0 L290.0,332.3 L226.7,377.3 L141.2,438.3 L68.9,493.0 L12.7,534.8Z" fill="url(#gg1)"/>
<g clip-path="url(#swg)">
<path d="M326.5,99.9 C343.1,77.2 406.4,59.4 433.1,50.0 C459.7,40.5 477.5,18.3 486.4,43.3 C495.3,68.3 500.8,163.8 486.4,199.9 C472.0,236.0 419.8,254.3 399.8,259.9 C379.8,265.4 377.6,245.4 366.5,233.2 C355.4,221.0 339.8,208.8 333.1,186.6 C326.5,164.4 309.8,122.7 326.5,99.9Z" fill="#d0d0d0" opacity="0.7"/>
<path d="M13.3,366.5 C27.8,341.5 78.8,370.9 99.9,383.1 C121.0,395.3 145.5,421.4 139.9,439.8 C134.4,458.1 87.7,477.5 66.6,493.1 C45.5,508.6 22.2,554.1 13.3,533.0 C4.4,511.9 -1.1,391.4 13.3,366.5Z" fill="#dcdcdc" opacity="0.8"/>
<path d="M13.3,153.2 C27.8,129.9 74.4,111.0 99.9,93.3 C125.5,75.5 144.4,55.0 166.6,46.6 C188.8,38.3 227.6,34.4 233.2,43.3 C238.8,52.2 222.1,78.3 199.9,99.9 C177.7,121.6 131.0,151.0 99.9,173.2 C68.8,195.4 27.8,236.5 13.3,233.2 C-1.1,229.9 -1.1,176.6 13.3,153.2Z" fill="#bcbcbc" opacity="0.5"/>
<path d="M162.1,162.7 C161.6,165.6 160.0,174.1 159.0,180.1 C158.0,186.1 156.1,193.1 155.9,198.7 C155.7,204.3 157.0,208.6 157.8,213.6 C158.5,218.6 159.8,226.0 160.2,228.5" fill="none" stroke="#000" stroke-width="10.895652173913042" stroke-linecap="round" stroke-linejoin="round"/><path d="M162.1,162.7 C161.6,165.6 160.0,174.1 159.0,180.1 C158.0,186.1 156.1,193.1 155.9,198.7 C155.7,204.3 157.0,208.6 157.8,213.6 C158.5,218.6 159.8,226.0 160.2,228.5" fill="none" stroke="#78c878" stroke-width="8.695652173913043" stroke-linecap="round" stroke-linejoin="round"/><path d="M162.1,162.7 C161.6,165.6 160.0,174.1 159.0,180.1 C158.0,186.1 156.1,193.1 155.9,198.7 C155.7,204.3 157.0,208.6 157.8,213.6 C158.5,218.6 159.8,226.0 160.2,228.5" fill="none" stroke="#80b8ff" stroke-width="3.9130434782608696" stroke-linecap="round" stroke-linejoin="round"/>
<path d="M179.5,178.8 C179.0,181.1 177.5,187.5 176.4,192.5 C175.3,197.4 173.5,202.6 172.7,208.6 C171.8,214.6 171.6,225.2 171.4,228.5" fill="none" stroke="#000" stroke-width="9.653416149068322" stroke-linecap="round" stroke-linejoin="round"/><path d="M179.5,178.8 C179.0,181.1 177.5,187.5 176.4,192.5 C175.3,197.4 173.5,202.6 172.7,208.6 C171.8,214.6 171.6,225.2 171.4,228.5" fill="none" stroke="#78c878" stroke-width="7.453416149068322" stroke-linecap="round" stroke-linejoin="round"/><path d="M179.5,178.8 C179.0,181.1 177.5,187.5 176.4,192.5 C175.3,197.4 173.5,202.6 172.7,208.6 C171.8,214.6 171.6,225.2 171.4,228.5" fill="none" stroke="#5080ff" stroke-width="3.354037267080745" stroke-linecap="round" stroke-linejoin="round"/>
<path d="M195.0,191.2 C194.6,193.5 193.6,199.5 192.5,204.9 C191.5,210.3 190.3,217.9 188.8,223.5 C187.4,229.1 184.7,236.0 183.9,238.4" fill="none" stroke="#000" stroke-width="14.001242236024844" stroke-linecap="round" stroke-linejoin="round"/><path d="M195.0,191.2 C194.6,193.5 193.6,199.5 192.5,204.9 C191.5,210.3 190.3,217.9 188.8,223.5 C187.4,229.1 184.7,236.0 183.9,238.4" fill="none" stroke="#78c878" stroke-width="11.801242236024844" stroke-linecap="round" stroke-linejoin="round"/><path d="M195.0,191.2 C194.6,193.5 193.6,199.5 192.5,204.9 C191.5,210.3 190.3,217.9 188.8,223.5 C187.4,229.1 184.7,236.0 183.9,238.4" fill="none" stroke="#2040ff" stroke-width="5.3105590062111805" stroke-linecap="round" stroke-linejoin="round"/>
<path d="M208.7,196.2 C208.3,198.7 207.0,205.7 206.2,211.1 C205.4,216.5 204.1,225.6 203.7,228.5" fill="none" stroke="#000" stroke-width="9.653416149068322" stroke-linecap="round" stroke-linejoin="round"/><path d="M208.7,196.2 C208.3,198.7 207.0,205.7 206.2,211.1 C205.4,216.5 204.1,225.6 203.7,228.5" fill="none" stroke="#78c878" stroke-width="7.453416149068322" stroke-linecap="round" stroke-linejoin="round"/><path d="M208.7,196.2 C208.3,198.7 207.0,205.7 206.2,211.1 C205.4,216.5 204.1,225.6 203.7,228.5" fill="none" stroke="#5080ff" stroke-width="3.354037267080745" stroke-linecap="round" stroke-linejoin="round"/>
<path d="M88.2,294.3 C87.8,297.0 87.2,305.7 85.7,310.5 C84.3,315.3 81.8,318.4 79.5,322.9 C77.2,327.5 73.3,335.3 72.0,337.8" fill="none" stroke="#000" stroke-width="10.274534161490681" stroke-linecap="round" stroke-linejoin="round"/><path d="M88.2,294.3 C87.8,297.0 87.2,305.7 85.7,310.5 C84.3,315.3 81.8,318.4 79.5,322.9 C77.2,327.5 73.3,335.3 72.0,337.8" fill="none" stroke="#78c878" stroke-width="8.074534161490682" stroke-linecap="round" stroke-linejoin="round"/><path d="M88.2,294.3 C87.8,297.0 87.2,305.7 85.7,310.5 C84.3,315.3 81.8,318.4 79.5,322.9 C77.2,327.5 73.3,335.3 72.0,337.8" fill="none" stroke="#3060ff" stroke-width="3.633540372670807" stroke-linecap="round" stroke-linejoin="round"/>
<path d="M93.2,334.1 C94.0,335.5 96.7,339.7 98.1,342.8 C99.6,345.9 101.2,351.1 101.9,352.7" fill="none" stroke="#000" stroke-width="9.032298136645963" stroke-linecap="round" stroke-linejoin="round"/><path d="M93.2,334.1 C94.0,335.5 96.7,339.7 98.1,342.8 C99.6,345.9 101.2,351.1 101.9,352.7" fill="none" stroke="#78c878" stroke-width="6.832298136645962" stroke-linecap="round" stroke-linejoin="round"/><path d="M93.2,334.1 C94.0,335.5 96.7,339.7 98.1,342.8 C99.6,345.9 101.2,351.1 101.9,352.7" fill="none" stroke="#90c0ff" stroke-width="3.074534161490683" stroke-linecap="round" stroke-linejoin="round"/>
<path d="M24.8,342.8 C26.1,344.4 31.1,351.1 32.3,352.7" fill="none" stroke="#000" stroke-width="5.926708074534162" stroke-linecap="round" stroke-linejoin="round"/><path d="M24.8,342.8 C26.1,344.4 31.1,351.1 32.3,352.7" fill="none" stroke="#78c878" stroke-width="3.726708074534161" stroke-linecap="round" stroke-linejoin="round"/><path d="M24.8,342.8 C26.1,344.4 31.1,351.1 32.3,352.7" fill="none" stroke="#80b8ff" stroke-width="1.6770186335403725" stroke-linecap="round" stroke-linejoin="round"/>
<path d="M94.4,301.8 C95.2,303.2 98.8,307.4 99.4,310.5 C100.0,313.6 98.3,318.8 98.1,320.4" fill="none" stroke="#000" stroke-width="7.790062111801242" stroke-linecap="round" stroke-linejoin="round"/><path d="M94.4,301.8 C95.2,303.2 98.8,307.4 99.4,310.5 C100.0,313.6 98.3,318.8 98.1,320.4" fill="none" stroke="#78c878" stroke-width="5.590062111801242" stroke-linecap="round" stroke-linejoin="round"/><path d="M94.4,301.8 C95.2,303.2 98.8,307.4 99.4,310.5 C100.0,313.6 98.3,318.8 98.1,320.4" fill="none" stroke="#80b8ff" stroke-width="2.5155279503105588" stroke-linecap="round" stroke-linejoin="round"/>
<path d="M53.4,310.5 C54.2,311.5 57.6,315.7 58.4,316.7" fill="none" stroke="#000" stroke-width="6.547826086956522" stroke-linecap="round" stroke-linejoin="round"/><path d="M53.4,310.5 C54.2,311.5 57.6,315.7 58.4,316.7" fill="none" stroke="#78c878" stroke-width="4.3478260869565215" stroke-linecap="round" stroke-linejoin="round"/><path d="M53.4,310.5 C54.2,311.5 57.6,315.7 58.4,316.7" fill="none" stroke="#5080ff" stroke-width="1.9565217391304348" stroke-linecap="round" stroke-linejoin="round"/>
<path d="M14.9,335.3 C15.3,337.4 17.2,343.6 17.4,347.8 C17.6,351.9 16.4,358.1 16.1,360.2" fill="none" stroke="#000" stroke-width="7.790062111801242" stroke-linecap="round" stroke-linejoin="round"/><path d="M14.9,335.3 C15.3,337.4 17.2,343.6 17.4,347.8 C17.6,351.9 16.4,358.1 16.1,360.2" fill="none" stroke="#78c878" stroke-width="5.590062111801242" stroke-linecap="round" stroke-linejoin="round"/><path d="M14.9,335.3 C15.3,337.4 17.2,343.6 17.4,347.8 C17.6,351.9 16.4,358.1 16.1,360.2" fill="none" stroke="#80b8ff" stroke-width="2.5155279503105588" stroke-linecap="round" stroke-linejoin="round"/>
<path d="M80.3,175.9 C80.9,177.8 83.3,183.8 83.7,186.9 C84.1,190.1 83.0,193.3 82.8,194.6" fill="none" stroke="#000" stroke-width="8.975641568561024" stroke-linecap="round" stroke-linejoin="round"/><path d="M80.3,175.9 C80.9,177.8 83.3,183.8 83.7,186.9 C84.1,190.1 83.0,193.3 82.8,194.6" fill="none" stroke="#78c878" stroke-width="6.7756415685610225" stroke-linecap="round" stroke-linejoin="round"/>
<path d="M70.1,192.9 C71.3,193.9 75.4,197.1 76.9,198.8 C78.5,200.5 79.0,202.3 79.5,203.0" fill="none" stroke="#000" stroke-width="6.43477598035064" stroke-linecap="round" stroke-linejoin="round"/><path d="M70.1,192.9 C71.3,193.9 75.4,197.1 76.9,198.8 C78.5,200.5 79.0,202.3 79.5,203.0" fill="none" stroke="#78c878" stroke-width="4.23477598035064" stroke-linecap="round" stroke-linejoin="round"/><path d="M70.1,192.9 C71.3,193.9 75.4,197.1 76.9,198.8 C78.5,200.5 79.0,202.3 79.5,203.0" fill="none" stroke="#a0c8ff" stroke-width="1.905649191157788" stroke-linecap="round" stroke-linejoin="round"/>
<path d="M68.4,206.4 C68.9,208.4 70.8,214.2 71.0,218.3 C71.1,222.4 68.7,226.8 69.3,231.0 C69.9,235.2 72.3,239.5 74.4,243.7 C76.5,247.9 80.3,252.2 82.0,256.4 C83.7,260.6 84.1,267.0 84.5,269.1" fill="none" stroke="#000" stroke-width="10.246074362666214" stroke-linecap="round" stroke-linejoin="round"/><path d="M68.4,206.4 C68.9,208.4 70.8,214.2 71.0,218.3 C71.1,222.4 68.7,226.8 69.3,231.0 C69.9,235.2 72.3,239.5 74.4,243.7 C76.5,247.9 80.3,252.2 82.0,256.4 C83.7,260.6 84.1,267.0 84.5,269.1" fill="none" stroke="#78c878" stroke-width="8.046074362666214" stroke-linecap="round" stroke-linejoin="round"/><path d="M68.4,206.4 C68.9,208.4 70.8,214.2 71.0,218.3 C71.1,222.4 68.7,226.8 69.3,231.0 C69.9,235.2 72.3,239.5 74.4,243.7 C76.5,247.9 80.3,252.2 82.0,256.4 C83.7,260.6 84.1,267.0 84.5,269.1" fill="none" stroke="#80b8ff" stroke-width="3.6207334631997967" stroke-linecap="round" stroke-linejoin="round"/>
<path d="M104.9,175.9 C105.1,177.4 106.1,181.6 106.6,184.4 C107.0,187.2 107.4,189.8 107.4,192.9 C107.4,196.0 106.7,201.3 106.6,203.0" fill="none" stroke="#000" stroke-width="7.2817311764207675" stroke-linecap="round" stroke-linejoin="round"/><path d="M104.9,175.9 C105.1,177.4 106.1,181.6 106.6,184.4 C107.0,187.2 107.4,189.8 107.4,192.9 C107.4,196.0 106.7,201.3 106.6,203.0" fill="none" stroke="#78c878" stroke-width="5.081731176420767" stroke-linecap="round" stroke-linejoin="round"/>
<path d="M79.5,211.5 C80.3,213.5 83.4,220.4 84.5,223.4 C85.7,226.3 85.9,228.3 86.2,229.3" fill="none" stroke="#000" stroke-width="4.740865588210384" stroke-linecap="round" stroke-linejoin="round"/><path d="M79.5,211.5 C80.3,213.5 83.4,220.4 84.5,223.4 C85.7,226.3 85.9,228.3 86.2,229.3" fill="none" stroke="#78c878" stroke-width="2.5408655882103837" stroke-linecap="round" stroke-linejoin="round"/>
<path d="M120.1,201.3 C119.5,203.5 117.8,209.8 116.7,214.1 C115.6,218.3 113.5,222.5 113.3,226.8 C113.2,231.0 114.7,235.2 115.9,239.5 C117.0,243.7 118.7,247.9 120.1,252.2 C121.5,256.4 124.3,259.9 124.3,264.9 C124.3,269.8 120.8,279.0 120.1,281.8" fill="none" stroke="#000" stroke-width="14.904327941051918" stroke-linecap="round" stroke-linejoin="round"/><path d="M120.1,201.3 C119.5,203.5 117.8,209.8 116.7,214.1 C115.6,218.3 113.5,222.5 113.3,226.8 C113.2,231.0 114.7,235.2 115.9,239.5 C117.0,243.7 118.7,247.9 120.1,252.2 C121.5,256.4 124.3,259.9 124.3,264.9 C124.3,269.8 120.8,279.0 120.1,281.8" fill="none" stroke="#78c878" stroke-width="12.704327941051918" stroke-linecap="round" stroke-linejoin="round"/><path d="M120.1,201.3 C119.5,203.5 117.8,209.8 116.7,214.1 C115.6,218.3 113.5,222.5 113.3,226.8 C113.2,231.0 114.7,235.2 115.9,239.5 C117.0,243.7 118.7,247.9 120.1,252.2 C121.5,256.4 124.3,259.9 124.3,264.9 C124.3,269.8 120.8,279.0 120.1,281.8" fill="none" stroke="#6a9cff" stroke-width="5.716947573473363" stroke-linecap="round" stroke-linejoin="round"/>
<path d="M135.3,192.9 C135.6,195.0 137.5,201.3 137.0,205.6 C136.6,209.8 132.8,214.1 132.8,218.3 C132.8,222.5 136.3,228.9 137.0,231.0" fill="none" stroke="#000" stroke-width="9.82259676463115" stroke-linecap="round" stroke-linejoin="round"/><path d="M135.3,192.9 C135.6,195.0 137.5,201.3 137.0,205.6 C136.6,209.8 132.8,214.1 132.8,218.3 C132.8,222.5 136.3,228.9 137.0,231.0" fill="none" stroke="#78c878" stroke-width="7.622596764631151" stroke-linecap="round" stroke-linejoin="round"/><path d="M135.3,192.9 C135.6,195.0 137.5,201.3 137.0,205.6 C136.6,209.8 132.8,214.1 132.8,218.3 C132.8,222.5 136.3,228.9 137.0,231.0" fill="none" stroke="#a0c8ff" stroke-width="3.430168544084018" stroke-linecap="round" stroke-linejoin="round"/>
<path d="M54.0,243.7 C55.2,245.8 58.3,252.2 60.8,256.4 C63.4,260.6 66.5,264.9 69.3,269.1 C72.1,273.3 76.3,279.7 77.8,281.8" fill="none" stroke="#000" stroke-width="11.516507156771407" stroke-linecap="round" stroke-linejoin="round"/><path d="M54.0,243.7 C55.2,245.8 58.3,252.2 60.8,256.4 C63.4,260.6 66.5,264.9 69.3,269.1 C72.1,273.3 76.3,279.7 77.8,281.8" fill="none" stroke="#78c878" stroke-width="9.316507156771406" stroke-linecap="round" stroke-linejoin="round"/><path d="M54.0,243.7 C55.2,245.8 58.3,252.2 60.8,256.4 C63.4,260.6 66.5,264.9 69.3,269.1 C72.1,273.3 76.3,279.7 77.8,281.8" fill="none" stroke="#5a90ff" stroke-width="4.192428220547133" stroke-linecap="round" stroke-linejoin="round"/>
<path d="M42.2,250.5 C43.2,252.2 46.1,256.8 48.1,260.6 C50.1,264.4 52.2,269.1 54.0,273.3 C55.9,277.6 58.3,283.9 59.1,286.0" fill="none" stroke="#000" stroke-width="8.128686372490895" stroke-linecap="round" stroke-linejoin="round"/><path d="M42.2,250.5 C43.2,252.2 46.1,256.8 48.1,260.6 C50.1,264.4 52.2,269.1 54.0,273.3 C55.9,277.6 58.3,283.9 59.1,286.0" fill="none" stroke="#78c878" stroke-width="5.928686372490895" stroke-linecap="round" stroke-linejoin="round"/><path d="M42.2,250.5 C43.2,252.2 46.1,256.8 48.1,260.6 C50.1,264.4 52.2,269.1 54.0,273.3 C55.9,277.6 58.3,283.9 59.1,286.0" fill="none" stroke="#a0c8ff" stroke-width="2.667908867620903" stroke-linecap="round" stroke-linejoin="round"/>
<path d="M29.5,250.5 C30.5,251.6 33.6,255.6 35.4,257.2 C37.2,258.9 39.6,260.1 40.5,260.6" fill="none" stroke="#000" stroke-width="6.43477598035064" stroke-linecap="round" stroke-linejoin="round"/><path d="M29.5,250.5 C30.5,251.6 33.6,255.6 35.4,257.2 C37.2,258.9 39.6,260.1 40.5,260.6" fill="none" stroke="#78c878" stroke-width="4.23477598035064" stroke-linecap="round" stroke-linejoin="round"/>
<path d="M23.6,269.1 C24.4,270.1 27.2,273.6 28.6,275.0 C30.0,276.4 31.5,277.2 32.0,277.6" fill="none" stroke="#000" stroke-width="5.587820784280511" stroke-linecap="round" stroke-linejoin="round"/><path d="M23.6,269.1 C24.4,270.1 27.2,273.6 28.6,275.0 C30.0,276.4 31.5,277.2 32.0,277.6" fill="none" stroke="#78c878" stroke-width="3.3878207842805113" stroke-linecap="round" stroke-linejoin="round"/>
<path d="M29.5,281.8 C30.2,283.2 32.2,287.5 33.7,290.3 C35.3,293.1 37.4,296.6 38.8,298.7 C40.2,300.9 41.6,302.3 42.2,303.0" fill="none" stroke="#000" stroke-width="7.2817311764207675" stroke-linecap="round" stroke-linejoin="round"/><path d="M29.5,281.8 C30.2,283.2 32.2,287.5 33.7,290.3 C35.3,293.1 37.4,296.6 38.8,298.7 C40.2,300.9 41.6,302.3 42.2,303.0" fill="none" stroke="#78c878" stroke-width="5.081731176420767" stroke-linecap="round" stroke-linejoin="round"/><path d="M29.5,281.8 C30.2,283.2 32.2,287.5 33.7,290.3 C35.3,293.1 37.4,296.6 38.8,298.7 C40.2,300.9 41.6,302.3 42.2,303.0" fill="none" stroke="#80b8ff" stroke-width="2.2867790293893453" stroke-linecap="round" stroke-linejoin="round"/>
<path d="M90.5,243.7 C91.2,245.8 93.3,252.2 94.7,256.4 C96.1,260.6 98.1,264.9 98.9,269.1 C99.8,273.3 99.8,278.3 99.8,281.8 C99.8,285.3 99.1,288.9 98.9,290.3" fill="none" stroke="#000" stroke-width="9.82259676463115" stroke-linecap="round" stroke-linejoin="round"/><path d="M90.5,243.7 C91.2,245.8 93.3,252.2 94.7,256.4 C96.1,260.6 98.1,264.9 98.9,269.1 C99.8,273.3 99.8,278.3 99.8,281.8 C99.8,285.3 99.1,288.9 98.9,290.3" fill="none" stroke="#78c878" stroke-width="7.622596764631151" stroke-linecap="round" stroke-linejoin="round"/><path d="M90.5,243.7 C91.2,245.8 93.3,252.2 94.7,256.4 C96.1,260.6 98.1,264.9 98.9,269.1 C99.8,273.3 99.8,278.3 99.8,281.8 C99.8,285.3 99.1,288.9 98.9,290.3" fill="none" stroke="#3a6cff" stroke-width="3.430168544084018" stroke-linecap="round" stroke-linejoin="round"/>
<path d="M35.4,231.0 C36.1,231.7 39.2,233.8 39.6,235.2 C40.1,236.6 38.2,238.8 37.9,239.5" fill="none" stroke="#000" stroke-width="6.43477598035064" stroke-linecap="round" stroke-linejoin="round"/><path d="M35.4,231.0 C36.1,231.7 39.2,233.8 39.6,235.2 C40.1,236.6 38.2,238.8 37.9,239.5" fill="none" stroke="#78c878" stroke-width="4.23477598035064" stroke-linecap="round" stroke-linejoin="round"/>
<path d="M13.4,281.8 C14.5,283.2 18.6,286.7 20.2,290.3 C21.7,293.8 22.3,300.9 22.7,303.0" fill="none" stroke="#000" stroke-width="6.011298382315576" stroke-linecap="round" stroke-linejoin="round"/><path d="M13.4,281.8 C14.5,283.2 18.6,286.7 20.2,290.3 C21.7,293.8 22.3,300.9 22.7,303.0" fill="none" stroke="#78c878" stroke-width="3.8112983823155755" stroke-linecap="round" stroke-linejoin="round"/><path d="M13.4,281.8 C14.5,283.2 18.6,286.7 20.2,290.3 C21.7,293.8 22.3,300.9 22.7,303.0" fill="none" stroke="#80b8ff" stroke-width="1.715084272042009" stroke-linecap="round" stroke-linejoin="round"/>
<path d="M96.4,218.3 C97.2,219.7 100.3,224.2 101.5,226.8 C102.6,229.3 102.9,232.4 103.2,233.5" fill="none" stroke="#000" stroke-width="6.011298382315576" stroke-linecap="round" stroke-linejoin="round"/><path d="M96.4,218.3 C97.2,219.7 100.3,224.2 101.5,226.8 C102.6,229.3 102.9,232.4 103.2,233.5" fill="none" stroke="#78c878" stroke-width="3.8112983823155755" stroke-linecap="round" stroke-linejoin="round"/>
<path d="M147.2,208.1 C148.3,209.5 152.3,213.5 154.0,216.6 C155.7,219.7 156.8,225.1 157.4,226.8" fill="none" stroke="#000" stroke-width="8.975641568561024" stroke-linecap="round" stroke-linejoin="round"/><path d="M147.2,208.1 C148.3,209.5 152.3,213.5 154.0,216.6 C155.7,219.7 156.8,225.1 157.4,226.8" fill="none" stroke="#78c878" stroke-width="6.7756415685610225" stroke-linecap="round" stroke-linejoin="round"/><path d="M147.2,208.1 C148.3,209.5 152.3,213.5 154.0,216.6 C155.7,219.7 156.8,225.1 157.4,226.8" fill="none" stroke="#80b8ff" stroke-width="3.0490387058524604" stroke-linecap="round" stroke-linejoin="round"/>
<path d="M109.9,256.4 C110.9,258.5 114.2,264.9 115.9,269.1 C117.6,273.3 119.4,279.7 120.1,281.8" fill="none" stroke="#000" stroke-width="8.975641568561024" stroke-linecap="round" stroke-linejoin="round"/><path d="M109.9,256.4 C110.9,258.5 114.2,264.9 115.9,269.1 C117.6,273.3 119.4,279.7 120.1,281.8" fill="none" stroke="#78c878" stroke-width="6.7756415685610225" stroke-linecap="round" stroke-linejoin="round"/><path d="M109.9,256.4 C110.9,258.5 114.2,264.9 115.9,269.1 C117.6,273.3 119.4,279.7 120.1,281.8" fill="none" stroke="#4a7cff" stroke-width="3.0490387058524604" stroke-linecap="round" stroke-linejoin="round"/>
<path d="M88.8,292.8 C89.2,294.2 90.6,298.6 91.3,301.3 C92.0,304.0 92.7,307.7 93.0,309.0" fill="none" stroke="#000" stroke-width="7.2817311764207675" stroke-linecap="round" stroke-linejoin="round"/><path d="M88.8,292.8 C89.2,294.2 90.6,298.6 91.3,301.3 C92.0,304.0 92.7,307.7 93.0,309.0" fill="none" stroke="#78c878" stroke-width="5.081731176420767" stroke-linecap="round" stroke-linejoin="round"/><path d="M88.8,292.8 C89.2,294.2 90.6,298.6 91.3,301.3 C92.0,304.0 92.7,307.7 93.0,309.0" fill="none" stroke="#3a6cff" stroke-width="2.2867790293893453" stroke-linecap="round" stroke-linejoin="round"/>
<path d="M107.4,296.2 C108.1,297.3 110.9,301.9 111.6,303.0" fill="none" stroke="#000" stroke-width="6.43477598035064" stroke-linecap="round" stroke-linejoin="round"/><path d="M107.4,296.2 C108.1,297.3 110.9,301.9 111.6,303.0" fill="none" stroke="#78c878" stroke-width="4.23477598035064" stroke-linecap="round" stroke-linejoin="round"/><path d="M107.4,296.2 C108.1,297.3 110.9,301.9 111.6,303.0" fill="none" stroke="#80b8ff" stroke-width="1.905649191157788" stroke-linecap="round" stroke-linejoin="round"/>
<path d="M31.2,213.2 C31.5,213.6 32.6,215.3 32.9,215.7" fill="none" stroke="#000" stroke-width="2.6" stroke-linecap="round" stroke-linejoin="round"/>
<path d="M21.9,225.9 C22.3,226.5 24.0,228.7 24.4,229.3" fill="none" stroke="#000" stroke-width="2.6" stroke-linecap="round" stroke-linejoin="round"/>
<path d="M46.4,223.4 C47.0,224.4 49.2,228.3 49.8,229.3" fill="none" stroke="#000" stroke-width="2.6" stroke-linecap="round" stroke-linejoin="round"/>
<path d="M124.3,170.9 C124.5,171.6 125.0,174.4 125.2,175.1" fill="none" stroke="#000" stroke-width="2.6" stroke-linecap="round" stroke-linejoin="round"/>
<path d="M138.7,178.5 C138.6,179.6 138.0,184.1 137.9,185.3" fill="none" stroke="#000" stroke-width="2.6" stroke-linecap="round" stroke-linejoin="round"/>
<path d="M136.2,191.2 C136.1,192.5 135.5,197.5 135.3,198.8" fill="none" stroke="#000" stroke-width="2.6" stroke-linecap="round" stroke-linejoin="round"/>
<path d="M93.0,206.4 C93.3,207.0 94.4,209.3 94.7,209.8" fill="none" stroke="#000" stroke-width="2.6" stroke-linecap="round" stroke-linejoin="round"/>
<ellipse cx="43.9" cy="245.4" rx="1.8" ry="1.4" fill="#000"/>
<ellipse cx="42.2" cy="225.9" rx="1.8" ry="1.4" fill="#000"/>
<ellipse cx="82.8" cy="173.4" rx="1.8" ry="1.4" fill="#000"/>
<ellipse cx="154.0" cy="275.9" rx="1.8" ry="1.4" fill="#000"/>
<ellipse cx="137.0" cy="284.3" rx="1.8" ry="1.4" fill="#000"/>
<ellipse cx="130.3" cy="252.2" rx="1.8" ry="1.4" fill="#000"/>
<ellipse cx="142.1" cy="265.7" rx="1.8" ry="1.4" fill="#000"/>
<ellipse cx="119.3" cy="244.5" rx="1.8" ry="1.4" fill="#000"/>
<path d="M141.3,438.4 C112.9,454.6 135.1,433.4 129.9,430.4 C124.7,427.4 115.4,423.3 109.9,420.4 C104.5,417.5 99.7,416.8 97.3,413.1 C94.8,409.4 94.8,403.7 95.3,398.1 C95.7,392.6 97.2,385.9 99.9,379.8 C102.7,373.7 108.7,367.0 111.6,361.5 C114.5,355.9 115.9,352.3 117.3,346.5 C118.7,340.6 118.9,332.6 119.9,326.5 C120.9,320.4 122.8,315.4 123.3,309.8 C123.7,304.3 122.2,300.9 122.6,293.2 C123.0,285.4 125.0,271.5 125.9,263.2 C126.9,254.9 127.3,249.1 128.3,243.5 C129.2,238.0 128.8,233.7 131.6,229.9 C134.4,226.0 141.0,221.5 144.9,220.5 C148.9,219.5 150.4,222.5 155.2,223.9 C160.1,225.2 168.7,227.5 173.9,228.5 C179.1,229.5 182.1,229.9 186.2,229.9 C190.4,229.9 194.7,229.2 198.9,228.5 C203.1,227.9 207.7,226.7 211.2,225.9 C214.7,225.0 216.2,224.8 219.9,223.5 C223.5,222.3 227.6,218.4 233.2,218.2 C238.8,218.0 247.1,220.6 253.2,222.5 C259.3,224.5 264.3,228.1 269.8,229.9 C275.4,231.6 280.4,233.2 286.5,233.2 C292.6,233.2 300.4,232.0 306.5,229.9 C312.6,227.8 318.2,223.0 323.2,220.5 C328.1,218.1 332.3,217.4 336.5,215.2 C340.6,213.0 345.2,207.5 348.1,207.2 C351.0,206.9 351.7,210.0 353.8,213.2 C355.9,216.4 357.2,222.4 360.5,226.5 C363.7,230.7 368.8,234.6 373.1,238.2 C377.5,241.8 382.0,244.9 386.4,248.2 C390.9,251.5 397.6,255.1 399.8,258.2 C402.0,261.2 416.4,254.0 399.8,266.5 C383.1,279.0 342.9,304.5 299.8,333.1 C256.7,361.8 169.6,422.2 141.3,438.4Z" fill="#74c474" stroke="#000" stroke-width="1.1"/>
<path d="M141.3,435.1 C113.4,450.7 137.0,430.1 132.6,427.1 C128.2,424.1 120.0,420.0 114.9,417.1 C109.8,414.2 104.4,413.1 101.9,409.8 C99.4,406.4 99.5,401.8 99.9,397.1 C100.4,392.4 101.9,387.2 104.6,381.8 C107.3,376.3 113.0,370.0 115.9,364.5 C118.8,358.9 120.5,354.5 121.9,348.5 C123.4,342.4 123.5,334.3 124.6,328.1 C125.7,322.0 127.7,317.0 128.3,311.5 C128.8,305.9 127.4,302.3 127.9,294.8 C128.4,287.3 130.3,274.3 131.3,266.5 C132.3,258.7 132.8,253.4 133.9,248.2 C135.0,243.0 135.5,238.7 137.9,235.2 C140.3,231.7 145.1,228.1 148.2,227.2 C151.4,226.3 152.3,228.6 156.6,229.9 C160.9,231.1 168.9,233.5 173.9,234.5 C178.9,235.5 182.2,235.9 186.6,235.9 C190.9,235.9 195.4,235.2 199.9,234.5 C204.3,233.9 207.7,233.4 213.2,231.9 C218.8,230.3 226.5,225.6 233.2,225.2 C239.9,224.8 247.0,227.4 253.2,229.2 C259.4,231.0 264.5,234.2 270.5,235.9 C276.5,237.5 282.6,239.2 289.2,239.2 C295.7,239.2 303.6,238.0 309.8,235.9 C316.0,233.8 320.9,228.8 326.5,226.5 C332.0,224.3 338.1,221.9 343.1,222.5 C348.1,223.2 352.0,227.2 356.5,230.5 C360.9,233.9 365.3,238.9 369.8,242.5 C374.2,246.2 378.7,249.1 383.1,252.5 C387.6,256.0 410.3,249.7 396.4,263.2 C382.6,276.6 342.4,304.5 299.8,333.1 C257.3,361.8 169.1,419.4 141.3,435.1Z" fill="#9ec4ff"/>
<path d="M143.9,433.1 C117.2,447.6 141.1,425.7 139.3,420.4 C137.4,415.2 134.7,407.7 132.6,401.4 C130.5,395.2 127.4,388.9 126.6,383.1 C125.8,377.3 126.9,371.5 127.9,366.5 C128.9,361.5 130.7,358.0 132.6,353.1 C134.5,348.2 137.0,342.6 139.3,337.1 C141.5,331.7 143.1,326.0 145.9,320.5 C148.7,314.9 153.1,308.8 155.9,303.8 C158.7,298.8 162.9,294.9 162.6,290.5 C162.2,286.1 154.9,282.1 153.9,277.2 C152.9,272.3 153.4,266.1 156.6,261.2 C159.8,256.3 166.6,250.2 173.2,247.9 C179.9,245.5 189.9,247.9 196.6,247.2 C203.2,246.5 207.1,243.9 213.2,243.9 C219.3,243.9 226.5,247.7 233.2,247.2 C239.9,246.6 247.6,241.1 253.2,240.5 C258.7,240.0 261.5,241.8 266.5,243.9 C271.5,246.0 277.6,250.4 283.2,253.2 C288.7,256.0 294.3,260.4 299.8,260.5 C305.4,260.6 310.9,256.1 316.5,253.9 C322.0,251.6 327.0,248.3 333.1,247.2 C339.3,246.1 346.5,246.1 353.1,247.2 C359.8,248.3 366.7,251.2 373.1,253.9 C379.5,256.5 403.7,250.0 391.4,263.2 C379.2,276.4 341.1,304.8 299.8,333.1 C258.6,361.5 170.7,418.5 143.9,433.1Z" fill="#2a50ff"/>
<path d="M130.6,263.2 C130.0,263.0 132.0,248.5 133.3,242.2 C134.5,235.9 136.0,232.2 138.3,225.5 C140.5,218.9 143.3,208.6 146.6,202.2 C149.9,195.8 153.5,190.3 158.2,187.2 C163.0,184.2 169.3,185.3 174.9,183.9 C180.5,182.5 186.0,177.5 191.6,178.9 C197.1,180.3 204.1,186.7 208.2,192.2 C212.4,197.8 212.4,207.6 216.5,212.2 C220.7,216.8 232.6,218.0 233.2,219.9 C233.8,221.8 225.4,221.9 219.9,223.5 C214.3,225.2 207.7,228.8 199.9,229.9 C192.1,230.9 182.7,229.8 173.2,229.9 C163.8,230.0 149.4,228.3 143.3,230.5 C137.1,232.8 138.7,238.1 136.6,243.5 C134.5,249.0 131.1,263.4 130.6,263.2Z" fill="#6a9af0" opacity="0.75"/>
<ellipse cx="121.8" cy="314.3" rx="3.6" ry="1.1" fill="#1020f0" transform="rotate(52 121.8 314.3)"/>
<ellipse cx="109.0" cy="384.7" rx="2.1" ry="2.0" fill="#1020f0" transform="rotate(79 109.0 384.7)"/>
<ellipse cx="168.8" cy="207.3" rx="1.6" ry="0.9" fill="none" stroke="#000" stroke-width="1.1" transform="rotate(59 168.8 207.3)"/>
<ellipse cx="159.1" cy="259.0" rx="3.5" ry="1.8" fill="#c8d4ff" transform="rotate(68 159.1 259.0)"/>
<ellipse cx="139.7" cy="247.5" rx="1.3" ry="1.7" fill="none" stroke="#000" stroke-width="1.1" transform="rotate(56 139.7 247.5)"/>
<ellipse cx="205.5" cy="235.3" rx="2.9" ry="1.2" fill="#78c878" transform="rotate(69 205.5 235.3)"/>
<ellipse cx="114.5" cy="345.5" rx="1.9" ry="1.1" fill="none" stroke="#000" stroke-width="1.1" transform="rotate(51 114.5 345.5)"/>
<ellipse cx="129.8" cy="335.4" rx="1.2" ry="1.4" fill="#000"/>
<ellipse cx="215.0" cy="236.5" rx="2.7" ry="1.8" fill="none" stroke="#000" stroke-width="1.1" transform="rotate(50 215.0 236.5)"/>
<ellipse cx="122.5" cy="368.1" rx="2.3" ry="2.0" fill="#c8d4ff" transform="rotate(75 122.5 368.1)"/>
<ellipse cx="195.0" cy="209.5" rx="2.1" ry="1.8" fill="none" stroke="#000" stroke-width="1.1" transform="rotate(65 195.0 209.5)"/>
<ellipse cx="134.9" cy="410.2" rx="1.2" ry="1.2" fill="none" stroke="#000" stroke-width="1.1" transform="rotate(58 134.9 410.2)"/>
<ellipse cx="176.4" cy="226.4" rx="1.2" ry="1.9" fill="none" stroke="#000" stroke-width="1.1" transform="rotate(68 176.4 226.4)"/>
<ellipse cx="179.8" cy="212.2" rx="4.0" ry="1.9" fill="#1020f0" transform="rotate(69 179.8 212.2)"/>
<ellipse cx="211.1" cy="213.0" rx="2.1" ry="1.6" fill="#1020f0" transform="rotate(59 211.1 213.0)"/>
<ellipse cx="128.1" cy="358.4" rx="3.2" ry="1.9" fill="#78c878" transform="rotate(50 128.1 358.4)"/>
<ellipse cx="189.2" cy="241.1" rx="2.6" ry="1.6" fill="none" stroke="#000" stroke-width="1.1" transform="rotate(58 189.2 241.1)"/>
<ellipse cx="187.6" cy="240.2" rx="1.4" ry="1.3" fill="#000"/>
<ellipse cx="158.2" cy="258.3" rx="1.9" ry="1.6" fill="none" stroke="#000" stroke-width="1.1" transform="rotate(60 158.2 258.3)"/>
<ellipse cx="190.1" cy="240.4" rx="2.4" ry="1.0" fill="#78c878" transform="rotate(59 190.1 240.4)"/>
<ellipse cx="194.2" cy="235.6" rx="1.8" ry="1.7" fill="none" stroke="#000" stroke-width="1.1" transform="rotate(61 194.2 235.6)"/>
<ellipse cx="185.6" cy="241.7" rx="3.6" ry="1.6" fill="#1020f0" transform="rotate(69 185.6 241.7)"/>
<ellipse cx="125.7" cy="406.1" rx="3.5" ry="1.5" fill="#c8d4ff" transform="rotate(72 125.7 406.1)"/>
<ellipse cx="207.1" cy="208.4" rx="2.3" ry="1.3" fill="#1020f0" transform="rotate(72 207.1 208.4)"/>
<ellipse cx="126.9" cy="317.8" rx="2.4" ry="1.6" fill="none" stroke="#000" stroke-width="1.1" transform="rotate(61 126.9 317.8)"/>
<ellipse cx="139.2" cy="283.4" rx="3.4" ry="1.2" fill="#c8d4ff" transform="rotate(74 139.2 283.4)"/>
<ellipse cx="174.9" cy="240.8" rx="3.0" ry="1.6" fill="#78c878" transform="rotate(41 174.9 240.8)"/>
<ellipse cx="191.0" cy="208.8" rx="2.8" ry="2.0" fill="#78c878" transform="rotate(77 191.0 208.8)"/>
<ellipse cx="133.4" cy="305.1" rx="1.9" ry="1.8" fill="none" stroke="#000" stroke-width="1.1" transform="rotate(76 133.4 305.1)"/>
<ellipse cx="122.8" cy="339.4" rx="2.2" ry="1.8" fill="#c8d4ff" transform="rotate(41 122.8 339.4)"/>
<ellipse cx="110.9" cy="366.1" rx="2.0" ry="1.2" fill="none" stroke="#000" stroke-width="1.1" transform="rotate(48 110.9 366.1)"/>
<ellipse cx="147.9" cy="291.0" rx="2.3" ry="1.2" fill="#78c878" transform="rotate(65 147.9 291.0)"/>
<ellipse cx="217.8" cy="224.9" rx="2.4" ry="1.2" fill="none" stroke="#000" stroke-width="1.1" transform="rotate(44 217.8 224.9)"/>
<ellipse cx="204.5" cy="223.0" rx="1.3" ry="0.8" fill="#000"/>
<ellipse cx="124.1" cy="354.6" rx="3.5" ry="1.1" fill="#c8d4ff" transform="rotate(60 124.1 354.6)"/>
<ellipse cx="190.3" cy="237.9" rx="1.4" ry="0.9" fill="none" stroke="#000" stroke-width="1.1" transform="rotate(62 190.3 237.9)"/>
<ellipse cx="124.5" cy="392.0" rx="3.4" ry="1.1" fill="#c8d4ff" transform="rotate(42 124.5 392.0)"/>
<ellipse cx="211.9" cy="236.1" rx="3.5" ry="1.4" fill="#78c878" transform="rotate(48 211.9 236.1)"/>
<ellipse cx="181.8" cy="248.1" rx="3.0" ry="1.3" fill="#c8d4ff" transform="rotate(66 181.8 248.1)"/>
<ellipse cx="200.3" cy="203.9" rx="2.2" ry="1.5" fill="#c8d4ff" transform="rotate(47 200.3 203.9)"/>
<ellipse cx="135.6" cy="348.2" rx="2.6" ry="1.7" fill="#78c878" transform="rotate(52 135.6 348.2)"/>
<ellipse cx="129.9" cy="317.0" rx="3.1" ry="1.5" fill="#c8d4ff" transform="rotate(79 129.9 317.0)"/>
<ellipse cx="158.9" cy="241.4" rx="2.0" ry="1.0" fill="none" stroke="#000" stroke-width="1.1" transform="rotate(58 158.9 241.4)"/>
<ellipse cx="132.4" cy="330.9" rx="1.4" ry="1.1" fill="#000"/>
<ellipse cx="196.9" cy="249.6" rx="2.6" ry="1.8" fill="none" stroke="#000" stroke-width="1.1" transform="rotate(65 196.9 249.6)"/>
<ellipse cx="145.7" cy="257.4" rx="3.1" ry="1.6" fill="#1020f0" transform="rotate(65 145.7 257.4)"/>
<ellipse cx="199.5" cy="238.1" rx="2.8" ry="1.9" fill="none" stroke="#000" stroke-width="1.1" transform="rotate(75 199.5 238.1)"/>
<ellipse cx="133.6" cy="293.8" rx="2.2" ry="1.5" fill="#1020f0" transform="rotate(43 133.6 293.8)"/>
<ellipse cx="108.4" cy="353.2" rx="3.3" ry="1.4" fill="#78c878" transform="rotate(59 108.4 353.2)"/>
<ellipse cx="201.6" cy="243.6" rx="1.0" ry="1.3" fill="#000"/>
<ellipse cx="147.0" cy="216.2" rx="2.1" ry="1.1" fill="#c8d4ff" transform="rotate(63 147.0 216.2)"/>
<ellipse cx="187.0" cy="212.6" rx="1.4" ry="1.2" fill="#000"/>
<ellipse cx="146.7" cy="221.0" rx="3.1" ry="1.9" fill="#1020f0" transform="rotate(78 146.7 221.0)"/>
<ellipse cx="140.0" cy="287.7" rx="3.3" ry="1.2" fill="#c8d4ff" transform="rotate(54 140.0 287.7)"/>
<ellipse cx="146.5" cy="279.2" rx="1.1" ry="0.9" fill="#000"/>
<ellipse cx="173.5" cy="235.0" rx="3.8" ry="1.3" fill="#1020f0" transform="rotate(41 173.5 235.0)"/>
<ellipse cx="204.3" cy="213.1" rx="2.4" ry="1.9" fill="none" stroke="#000" stroke-width="1.1" transform="rotate(43 204.3 213.1)"/>
<ellipse cx="183.2" cy="227.3" rx="3.3" ry="1.2" fill="#1020f0" transform="rotate(49 183.2 227.3)"/>
<ellipse cx="154.2" cy="292.7" rx="2.4" ry="2.0" fill="none" stroke="#000" stroke-width="1.1" transform="rotate(55 154.2 292.7)"/>
<ellipse cx="154.7" cy="262.3" rx="2.1" ry="1.3" fill="#c8d4ff" transform="rotate(45 154.7 262.3)"/>
<ellipse cx="162.1" cy="254.8" rx="3.4" ry="1.3" fill="#c8d4ff" transform="rotate(62 162.1 254.8)"/>
<ellipse cx="149.2" cy="318.0" rx="2.5" ry="2.0" fill="#78c878" transform="rotate(66 149.2 318.0)"/>
<ellipse cx="179.4" cy="230.4" rx="1.7" ry="1.2" fill="none" stroke="#000" stroke-width="1.1" transform="rotate(75 179.4 230.4)"/>
<ellipse cx="169.6" cy="228.9" rx="2.0" ry="1.8" fill="#1020f0" transform="rotate(74 169.6 228.9)"/>
<ellipse cx="208.9" cy="212.7" rx="2.3" ry="1.0" fill="none" stroke="#000" stroke-width="1.1" transform="rotate(59 208.9 212.7)"/>
<ellipse cx="109.0" cy="388.7" rx="2.1" ry="1.5" fill="none" stroke="#000" stroke-width="1.1" transform="rotate(46 109.0 388.7)"/>
<ellipse cx="138.4" cy="303.7" rx="2.7" ry="1.7" fill="#1020f0" transform="rotate(44 138.4 303.7)"/>
<ellipse cx="150.5" cy="302.4" rx="3.2" ry="1.7" fill="#c8d4ff" transform="rotate(40 150.5 302.4)"/>
<ellipse cx="129.0" cy="326.7" rx="2.0" ry="2.0" fill="#78c878" transform="rotate(72 129.0 326.7)"/>
<ellipse cx="124.8" cy="338.9" rx="1.8" ry="1.5" fill="none" stroke="#000" stroke-width="1.1" transform="rotate(52 124.8 338.9)"/>
<ellipse cx="142.7" cy="286.0" rx="2.5" ry="1.2" fill="#1020f0" transform="rotate(69 142.7 286.0)"/>
<ellipse cx="109.5" cy="353.5" rx="2.4" ry="1.4" fill="#1020f0" transform="rotate(73 109.5 353.5)"/>
<ellipse cx="177.6" cy="214.5" rx="1.5" ry="1.0" fill="none" stroke="#000" stroke-width="1.1" transform="rotate(56 177.6 214.5)"/>
<ellipse cx="141.9" cy="290.7" rx="1.8" ry="1.7" fill="none" stroke="#000" stroke-width="1.1" transform="rotate(79 141.9 290.7)"/>
<ellipse cx="179.7" cy="197.6" rx="1.1" ry="1.2" fill="#000"/>
<ellipse cx="118.2" cy="374.5" rx="2.8" ry="1.4" fill="#c8d4ff" transform="rotate(60 118.2 374.5)"/>
<ellipse cx="116.0" cy="362.0" rx="2.8" ry="1.7" fill="#c8d4ff" transform="rotate(73 116.0 362.0)"/>
<ellipse cx="123.5" cy="416.7" rx="2.4" ry="1.1" fill="#1020f0" transform="rotate(50 123.5 416.7)"/>
<ellipse cx="145.9" cy="302.7" rx="2.8" ry="1.0" fill="none" stroke="#000" stroke-width="1.1" transform="rotate(76 145.9 302.7)"/>
<ellipse cx="173.1" cy="255.8" rx="3.5" ry="1.8" fill="#c8d4ff" transform="rotate(64 173.1 255.8)"/>
<ellipse cx="113.4" cy="388.3" rx="2.6" ry="1.2" fill="none" stroke="#000" stroke-width="1.1" transform="rotate(63 113.4 388.3)"/>
<ellipse cx="210.1" cy="237.1" rx="2.2" ry="1.0" fill="#78c878" transform="rotate(47 210.1 237.1)"/>
<ellipse cx="123.9" cy="303.9" rx="1.8" ry="1.5" fill="none" stroke="#000" stroke-width="1.1" transform="rotate(47 123.9 303.9)"/>
<ellipse cx="167.6" cy="255.6" rx="2.7" ry="1.6" fill="#78c878" transform="rotate(42 167.6 255.6)"/>
<ellipse cx="188.3" cy="227.5" rx="2.9" ry="1.5" fill="#c8d4ff" transform="rotate(56 188.3 227.5)"/>
<ellipse cx="152.5" cy="295.9" rx="3.8" ry="1.5" fill="#78c878" transform="rotate(61 152.5 295.9)"/>
<ellipse cx="177.7" cy="209.7" rx="1.9" ry="1.5" fill="none" stroke="#000" stroke-width="1.1" transform="rotate(56 177.7 209.7)"/>
<ellipse cx="168.5" cy="249.8" rx="1.1" ry="0.9" fill="#000"/>
<ellipse cx="206.6" cy="245.7" rx="3.1" ry="1.9" fill="#1020f0" transform="rotate(44 206.6 245.7)"/>
<ellipse cx="204.8" cy="222.5" rx="3.9" ry="1.0" fill="#78c878" transform="rotate(50 204.8 222.5)"/>
<ellipse cx="137.5" cy="270.0" rx="2.6" ry="1.8" fill="none" stroke="#000" stroke-width="1.1" transform="rotate(56 137.5 270.0)"/>
<ellipse cx="123.3" cy="391.4" rx="1.2" ry="0.9" fill="#000"/>
<ellipse cx="124.2" cy="342.8" rx="2.6" ry="1.0" fill="none" stroke="#000" stroke-width="1.1" transform="rotate(44 124.2 342.8)"/>
<ellipse cx="194.0" cy="225.1" rx="3.9" ry="1.4" fill="#1020f0" transform="rotate(43 194.0 225.1)"/>
<ellipse cx="193.7" cy="239.7" rx="1.6" ry="1.6" fill="none" stroke="#000" stroke-width="1.1" transform="rotate(72 193.7 239.7)"/>
<ellipse cx="134.4" cy="344.6" rx="2.8" ry="1.4" fill="none" stroke="#000" stroke-width="1.1" transform="rotate(61 134.4 344.6)"/>
<ellipse cx="169.1" cy="203.9" rx="2.6" ry="1.3" fill="#78c878" transform="rotate(72 169.1 203.9)"/>
<ellipse cx="134.7" cy="322.9" rx="2.6" ry="2.0" fill="none" stroke="#000" stroke-width="1.1" transform="rotate(41 134.7 322.9)"/>
<ellipse cx="164.9" cy="235.8" rx="3.3" ry="1.4" fill="#78c878" transform="rotate(66 164.9 235.8)"/>
<ellipse cx="226.6" cy="234.4" rx="2.3" ry="1.6" fill="#1020f0" transform="rotate(49 226.6 234.4)"/>
<ellipse cx="128.8" cy="308.9" rx="2.1" ry="1.4" fill="none" stroke="#000" stroke-width="1.1" transform="rotate(41 128.8 308.9)"/>
<ellipse cx="156.0" cy="297.7" rx="2.5" ry="1.0" fill="none" stroke="#000" stroke-width="1.1" transform="rotate(76 156.0 297.7)"/>
<ellipse cx="132.8" cy="332.5" rx="2.5" ry="1.1" fill="none" stroke="#000" stroke-width="1.1" transform="rotate(50 132.8 332.5)"/>
<ellipse cx="118.4" cy="356.6" rx="3.2" ry="1.1" fill="#c8d4ff" transform="rotate(56 118.4 356.6)"/>
<ellipse cx="146.4" cy="244.4" rx="2.1" ry="1.5" fill="#c8d4ff" transform="rotate(70 146.4 244.4)"/>
<ellipse cx="218.2" cy="226.7" rx="1.0" ry="1.1" fill="#000"/>
<ellipse cx="196.9" cy="247.6" rx="2.1" ry="1.2" fill="none" stroke="#000" stroke-width="1.1" transform="rotate(58 196.9 247.6)"/>
<ellipse cx="180.1" cy="202.6" rx="1.3" ry="0.8" fill="#000"/>
<ellipse cx="121.7" cy="323.2" rx="1.5" ry="1.1" fill="none" stroke="#000" stroke-width="1.1" transform="rotate(59 121.7 323.2)"/>
<ellipse cx="138.8" cy="299.0" rx="3.0" ry="1.9" fill="#c8d4ff" transform="rotate(48 138.8 299.0)"/>
<ellipse cx="145.9" cy="229.5" rx="2.5" ry="1.8" fill="#c8d4ff" transform="rotate(69 145.9 229.5)"/>
<ellipse cx="140.6" cy="284.1" rx="2.6" ry="1.3" fill="none" stroke="#000" stroke-width="1.1" transform="rotate(71 140.6 284.1)"/>
<ellipse cx="167.5" cy="206.2" rx="1.0" ry="0.8" fill="#000"/>
<ellipse cx="115.2" cy="360.4" rx="2.4" ry="1.6" fill="none" stroke="#000" stroke-width="1.1" transform="rotate(46 115.2 360.4)"/>
<ellipse cx="143.7" cy="244.3" rx="1.2" ry="1.6" fill="none" stroke="#000" stroke-width="1.1" transform="rotate(63 143.7 244.3)"/>
<ellipse cx="137.3" cy="351.8" rx="2.3" ry="1.7" fill="#c8d4ff" transform="rotate(67 137.3 351.8)"/>
<ellipse cx="128.7" cy="342.8" rx="1.9" ry="1.3" fill="none" stroke="#000" stroke-width="1.1" transform="rotate(42 128.7 342.8)"/>
<ellipse cx="149.0" cy="270.8" rx="2.6" ry="1.2" fill="#78c878" transform="rotate(56 149.0 270.8)"/>
<ellipse cx="161.5" cy="232.7" rx="2.5" ry="1.1" fill="#1020f0" transform="rotate(54 161.5 232.7)"/>
<ellipse cx="154.3" cy="228.9" rx="3.4" ry="1.6" fill="#78c878" transform="rotate(68 154.3 228.9)"/>
<ellipse cx="173.9" cy="255.2" rx="2.4" ry="1.5" fill="#1020f0" transform="rotate(65 173.9 255.2)"/>
<ellipse cx="153.4" cy="258.5" rx="3.3" ry="1.4" fill="#c8d4ff" transform="rotate(76 153.4 258.5)"/>
<ellipse cx="127.8" cy="354.1" rx="1.2" ry="1.5" fill="none" stroke="#000" stroke-width="1.1" transform="rotate(56 127.8 354.1)"/>
<ellipse cx="129.3" cy="310.0" rx="3.1" ry="1.6" fill="#1020f0" transform="rotate(62 129.3 310.0)"/>
<ellipse cx="142.2" cy="275.2" rx="2.5" ry="1.7" fill="#c8d4ff" transform="rotate(68 142.2 275.2)"/>
<ellipse cx="209.2" cy="230.9" rx="3.0" ry="1.6" fill="#1020f0" transform="rotate(55 209.2 230.9)"/>
<ellipse cx="135.6" cy="370.4" rx="2.5" ry="1.2" fill="#78c878" transform="rotate(53 135.6 370.4)"/>
<ellipse cx="192.9" cy="219.9" rx="3.5" ry="1.5" fill="#78c878" transform="rotate(47 192.9 219.9)"/>
<ellipse cx="131.0" cy="362.5" rx="1.1" ry="1.3" fill="#000"/>
<ellipse cx="188.0" cy="247.9" rx="1.2" ry="1.5" fill="none" stroke="#000" stroke-width="1.1" transform="rotate(78 188.0 247.9)"/>
<ellipse cx="103.3" cy="361.9" rx="1.3" ry="1.2" fill="none" stroke="#000" stroke-width="1.1" transform="rotate(69 103.3 361.9)"/>
<ellipse cx="147.6" cy="266.4" rx="3.3" ry="1.3" fill="#c8d4ff" transform="rotate(56 147.6 266.4)"/>
<ellipse cx="205.9" cy="228.0" rx="1.4" ry="1.9" fill="none" stroke="#000" stroke-width="1.1" transform="rotate(50 205.9 228.0)"/>
<ellipse cx="163.3" cy="221.7" rx="0.8" ry="1.1" fill="#000"/>
<ellipse cx="116.2" cy="341.1" rx="1.6" ry="1.4" fill="none" stroke="#000" stroke-width="1.1" transform="rotate(55 116.2 341.1)"/>
<ellipse cx="105.4" cy="404.4" rx="0.9" ry="0.9" fill="#000"/>
<ellipse cx="124.2" cy="398.4" rx="2.8" ry="1.8" fill="#78c878" transform="rotate(56 124.2 398.4)"/>
<ellipse cx="134.5" cy="415.3" rx="3.5" ry="1.4" fill="#c8d4ff" transform="rotate(73 134.5 415.3)"/>
<ellipse cx="195.6" cy="234.8" rx="1.5" ry="1.0" fill="none" stroke="#000" stroke-width="1.1" transform="rotate(43 195.6 234.8)"/>
<ellipse cx="139.0" cy="314.9" rx="1.5" ry="2.0" fill="none" stroke="#000" stroke-width="1.1" transform="rotate(40 139.0 314.9)"/>
<ellipse cx="175.4" cy="247.0" rx="1.1" ry="1.2" fill="#000"/>
<ellipse cx="134.7" cy="407.3" rx="0.9" ry="1.0" fill="#000"/>
<ellipse cx="197.9" cy="243.2" rx="3.1" ry="1.7" fill="#1020f0" transform="rotate(47 197.9 243.2)"/>
<ellipse cx="144.5" cy="295.1" rx="2.0" ry="1.3" fill="none" stroke="#000" stroke-width="1.1" transform="rotate(53 144.5 295.1)"/>
<ellipse cx="124.6" cy="401.5" rx="1.4" ry="0.9" fill="#000"/>
<ellipse cx="140.6" cy="236.6" rx="1.6" ry="0.9" fill="#000"/>
<ellipse cx="184.6" cy="243.4" rx="3.8" ry="1.9" fill="#78c878" transform="rotate(65 184.6 243.4)"/>
<ellipse cx="112.2" cy="391.3" rx="2.9" ry="1.7" fill="#1020f0" transform="rotate(57 112.2 391.3)"/>
<ellipse cx="149.2" cy="247.6" rx="3.1" ry="1.5" fill="#78c878" transform="rotate(41 149.2 247.6)"/>
<ellipse cx="223.9" cy="229.2" rx="4.0" ry="1.7" fill="#78c878" transform="rotate(53 223.9 229.2)"/>
<ellipse cx="163.7" cy="248.6" rx="3.0" ry="1.9" fill="#c8d4ff" transform="rotate(73 163.7 248.6)"/>
<ellipse cx="130.9" cy="384.1" rx="3.1" ry="1.9" fill="#78c878" transform="rotate(48 130.9 384.1)"/>
<ellipse cx="134.8" cy="345.5" rx="2.1" ry="1.8" fill="none" stroke="#000" stroke-width="1.1" transform="rotate(60 134.8 345.5)"/>
<ellipse cx="129.6" cy="382.4" rx="3.2" ry="1.5" fill="#c8d4ff" transform="rotate(76 129.6 382.4)"/>
<ellipse cx="205.4" cy="229.1" rx="0.9" ry="0.8" fill="#000"/>
<ellipse cx="210.5" cy="221.0" rx="1.8" ry="1.8" fill="none" stroke="#000" stroke-width="1.1" transform="rotate(65 210.5 221.0)"/>
<ellipse cx="196.0" cy="239.8" rx="2.9" ry="1.0" fill="#1020f0" transform="rotate(54 196.0 239.8)"/>
<ellipse cx="139.7" cy="342.2" rx="2.2" ry="1.7" fill="none" stroke="#000" stroke-width="1.1" transform="rotate(47 139.7 342.2)"/>
<ellipse cx="114.1" cy="357.3" rx="2.3" ry="1.1" fill="#78c878" transform="rotate(78 114.1 357.3)"/>
<ellipse cx="145.8" cy="266.6" rx="0.9" ry="1.2" fill="#000"/>
<ellipse cx="152.5" cy="301.3" rx="3.9" ry="1.3" fill="#78c878" transform="rotate(68 152.5 301.3)"/>
<ellipse cx="128.7" cy="330.2" rx="2.6" ry="1.2" fill="none" stroke="#000" stroke-width="1.1" transform="rotate(74 128.7 330.2)"/>
<ellipse cx="157.9" cy="208.4" rx="1.0" ry="1.1" fill="#000"/>
<ellipse cx="130.0" cy="290.6" rx="2.6" ry="1.2" fill="none" stroke="#000" stroke-width="1.1" transform="rotate(57 130.0 290.6)"/>
<ellipse cx="171.2" cy="216.7" rx="2.1" ry="1.4" fill="#c8d4ff" transform="rotate(55 171.2 216.7)"/>
<ellipse cx="146.0" cy="303.2" rx="1.3" ry="1.2" fill="#000"/>
<ellipse cx="197.9" cy="213.0" rx="2.2" ry="1.6" fill="none" stroke="#000" stroke-width="1.1" transform="rotate(70 197.9 213.0)"/>
<ellipse cx="131.2" cy="385.1" rx="3.6" ry="1.1" fill="#1020f0" transform="rotate(59 131.2 385.1)"/>
<ellipse cx="98.8" cy="396.6" rx="3.3" ry="1.0" fill="#c8d4ff" transform="rotate(54 98.8 396.6)"/>
<ellipse cx="111.8" cy="379.9" rx="1.2" ry="0.9" fill="#000"/>
<ellipse cx="174.2" cy="223.9" rx="2.0" ry="1.2" fill="none" stroke="#000" stroke-width="1.1" transform="rotate(71 174.2 223.9)"/>
<ellipse cx="130.3" cy="291.1" rx="1.5" ry="1.4" fill="none" stroke="#000" stroke-width="1.1" transform="rotate(62 130.3 291.1)"/>
<ellipse cx="110.9" cy="394.3" rx="2.8" ry="1.5" fill="none" stroke="#000" stroke-width="1.1" transform="rotate(56 110.9 394.3)"/>
<ellipse cx="193.9" cy="230.3" rx="2.1" ry="1.1" fill="#78c878" transform="rotate(52 193.9 230.3)"/>
<ellipse cx="153.5" cy="211.8" rx="1.4" ry="1.9" fill="none" stroke="#000" stroke-width="1.1" transform="rotate(53 153.5 211.8)"/>
<ellipse cx="131.9" cy="280.2" rx="1.2" ry="1.0" fill="#000"/>
<ellipse cx="155.4" cy="299.9" rx="2.5" ry="1.0" fill="none" stroke="#000" stroke-width="1.1" transform="rotate(61 155.4 299.9)"/>
<ellipse cx="147.4" cy="267.6" rx="2.5" ry="1.7" fill="#78c878" transform="rotate(59 147.4 267.6)"/>
<ellipse cx="147.0" cy="264.5" rx="3.2" ry="1.3" fill="#78c878" transform="rotate(60 147.0 264.5)"/>
<ellipse cx="135.6" cy="354.0" rx="2.8" ry="1.8" fill="none" stroke="#000" stroke-width="1.1" transform="rotate(53 135.6 354.0)"/>
<ellipse cx="104.4" cy="373.8" rx="2.2" ry="1.5" fill="none" stroke="#000" stroke-width="1.1" transform="rotate(77 104.4 373.8)"/>
<ellipse cx="183.8" cy="198.5" rx="3.1" ry="1.6" fill="#c8d4ff" transform="rotate(40 183.8 198.5)"/>
<ellipse cx="157.8" cy="296.6" rx="1.7" ry="1.7" fill="none" stroke="#000" stroke-width="1.1" transform="rotate(43 157.8 296.6)"/>
<ellipse cx="112.4" cy="390.5" rx="3.1" ry="1.1" fill="#1020f0" transform="rotate(45 112.4 390.5)"/>
<ellipse cx="113.5" cy="399.9" rx="2.1" ry="1.4" fill="#78c878" transform="rotate(55 113.5 399.9)"/>
<ellipse cx="111.0" cy="368.8" rx="2.1" ry="1.1" fill="none" stroke="#000" stroke-width="1.1" transform="rotate(54 111.0 368.8)"/>
<ellipse cx="191.9" cy="248.5" rx="2.4" ry="1.5" fill="none" stroke="#000" stroke-width="1.1" transform="rotate(50 191.9 248.5)"/>
<ellipse cx="105.4" cy="388.3" rx="1.4" ry="1.1" fill="#000"/>
<ellipse cx="128.2" cy="371.4" rx="1.7" ry="1.8" fill="none" stroke="#000" stroke-width="1.1" transform="rotate(41 128.2 371.4)"/>
<ellipse cx="110.0" cy="378.7" rx="1.5" ry="1.5" fill="none" stroke="#000" stroke-width="1.1" transform="rotate(64 110.0 378.7)"/>
<ellipse cx="113.1" cy="374.1" rx="3.8" ry="1.9" fill="#78c878" transform="rotate(68 113.1 374.1)"/>
<ellipse cx="162.8" cy="257.7" rx="1.6" ry="1.5" fill="none" stroke="#000" stroke-width="1.1" transform="rotate(75 162.8 257.7)"/>
<ellipse cx="118.5" cy="396.6" rx="2.9" ry="1.5" fill="#c8d4ff" transform="rotate(69 118.5 396.6)"/>
<ellipse cx="204.1" cy="248.4" rx="2.7" ry="1.7" fill="#78c878" transform="rotate(78 204.1 248.4)"/>
<ellipse cx="144.2" cy="248.1" rx="2.2" ry="1.9" fill="#c8d4ff" transform="rotate(66 144.2 248.1)"/>
<ellipse cx="106.4" cy="406.5" rx="2.1" ry="1.0" fill="none" stroke="#000" stroke-width="1.1" transform="rotate(80 106.4 406.5)"/>
<ellipse cx="121.8" cy="317.8" rx="1.2" ry="0.9" fill="#000"/>
<ellipse cx="163.0" cy="211.8" rx="3.1" ry="2.0" fill="#78c878" transform="rotate(62 163.0 211.8)"/>
<ellipse cx="142.4" cy="275.2" rx="2.4" ry="1.2" fill="none" stroke="#000" stroke-width="1.1" transform="rotate(63 142.4 275.2)"/>
<ellipse cx="128.6" cy="401.8" rx="1.4" ry="1.2" fill="none" stroke="#000" stroke-width="1.1" transform="rotate(59 128.6 401.8)"/>
<ellipse cx="129.2" cy="348.0" rx="2.0" ry="1.2" fill="none" stroke="#000" stroke-width="1.1" transform="rotate(75 129.2 348.0)"/>
<ellipse cx="137.8" cy="271.2" rx="3.3" ry="1.8" fill="#1020f0" transform="rotate(62 137.8 271.2)"/>
<ellipse cx="107.3" cy="373.8" rx="1.5" ry="1.4" fill="none" stroke="#000" stroke-width="1.1" transform="rotate(80 107.3 373.8)"/>
<ellipse cx="147.3" cy="277.5" rx="3.5" ry="1.4" fill="#c8d4ff" transform="rotate(45 147.3 277.5)"/>
<ellipse cx="148.4" cy="261.1" rx="3.5" ry="1.5" fill="#78c878" transform="rotate(73 148.4 261.1)"/>
<ellipse cx="221.5" cy="227.2" rx="2.6" ry="2.0" fill="none" stroke="#000" stroke-width="1.1" transform="rotate(77 221.5 227.2)"/>
<ellipse cx="116.0" cy="362.2" rx="2.3" ry="1.1" fill="#c8d4ff" transform="rotate(67 116.0 362.2)"/>
<ellipse cx="147.5" cy="221.6" rx="2.7" ry="1.0" fill="none" stroke="#000" stroke-width="1.1" transform="rotate(47 147.5 221.6)"/>
<ellipse cx="122.7" cy="416.5" rx="2.0" ry="1.8" fill="#c8d4ff" transform="rotate(56 122.7 416.5)"/>
<ellipse cx="120.2" cy="367.4" rx="1.2" ry="1.1" fill="none" stroke="#000" stroke-width="1.1" transform="rotate(72 120.2 367.4)"/>
<ellipse cx="160.1" cy="236.4" rx="1.7" ry="0.9" fill="none" stroke="#000" stroke-width="1.1" transform="rotate(50 160.1 236.4)"/>
<ellipse cx="139.9" cy="277.6" rx="2.9" ry="1.4" fill="#c8d4ff" transform="rotate(62 139.9 277.6)"/>
<ellipse cx="217.1" cy="231.7" rx="4.0" ry="1.3" fill="#78c878" transform="rotate(47 217.1 231.7)"/>
<ellipse cx="195.4" cy="248.8" rx="2.3" ry="1.9" fill="#78c878" transform="rotate(51 195.4 248.8)"/>
<ellipse cx="109.9" cy="355.8" rx="1.2" ry="1.1" fill="#000"/>
<ellipse cx="164.4" cy="256.9" rx="3.3" ry="1.5" fill="#78c878" transform="rotate(44 164.4 256.9)"/>
<ellipse cx="134.9" cy="297.9" rx="2.5" ry="1.2" fill="none" stroke="#000" stroke-width="1.1" transform="rotate(73 134.9 297.9)"/>
<ellipse cx="143.4" cy="239.7" rx="2.5" ry="1.8" fill="none" stroke="#000" stroke-width="1.1" transform="rotate(79 143.4 239.7)"/>
<ellipse cx="120.7" cy="385.9" rx="1.0" ry="1.4" fill="#000"/>
<ellipse cx="122.0" cy="357.4" rx="4.0" ry="1.6" fill="#1020f0" transform="rotate(45 122.0 357.4)"/>
<ellipse cx="195.9" cy="207.1" rx="3.2" ry="1.8" fill="#c8d4ff" transform="rotate(75 195.9 207.1)"/>
<ellipse cx="149.1" cy="276.8" rx="1.5" ry="1.8" fill="none" stroke="#000" stroke-width="1.1" transform="rotate(49 149.1 276.8)"/>
<ellipse cx="139.8" cy="257.8" rx="2.2" ry="1.7" fill="none" stroke="#000" stroke-width="1.1" transform="rotate(78 139.8 257.8)"/>
<ellipse cx="142.1" cy="259.3" rx="3.0" ry="1.0" fill="#78c878" transform="rotate(75 142.1 259.3)"/>
<ellipse cx="123.8" cy="330.6" rx="1.7" ry="1.0" fill="none" stroke="#000" stroke-width="1.1" transform="rotate(42 123.8 330.6)"/>
<ellipse cx="145.1" cy="317.9" rx="3.0" ry="1.4" fill="#c8d4ff" transform="rotate(56 145.1 317.9)"/>
<ellipse cx="128.8" cy="305.3" rx="2.2" ry="1.4" fill="#c8d4ff" transform="rotate(67 128.8 305.3)"/>
<ellipse cx="168.7" cy="238.0" rx="2.1" ry="1.2" fill="#1020f0" transform="rotate(62 168.7 238.0)"/>
<ellipse cx="133.8" cy="363.4" rx="2.6" ry="1.8" fill="#1020f0" transform="rotate(66 133.8 363.4)"/>
<ellipse cx="155.7" cy="218.4" rx="3.9" ry="1.9" fill="#78c878" transform="rotate(42 155.7 218.4)"/>
<ellipse cx="160.6" cy="218.2" rx="3.3" ry="1.5" fill="#c8d4ff" transform="rotate(64 160.6 218.2)"/>
<ellipse cx="126.8" cy="398.0" rx="2.8" ry="1.4" fill="#78c878" transform="rotate(75 126.8 398.0)"/>
<ellipse cx="131.8" cy="380.4" rx="2.9" ry="1.4" fill="#1020f0" transform="rotate(57 131.8 380.4)"/>
<ellipse cx="158.5" cy="267.9" rx="2.8" ry="1.3" fill="#1020f0" transform="rotate(71 158.5 267.9)"/>
<ellipse cx="127.5" cy="375.4" rx="4.0" ry="1.3" fill="#78c878" transform="rotate(68 127.5 375.4)"/>
<ellipse cx="180.4" cy="245.5" rx="1.6" ry="0.9" fill="#000"/>
<ellipse cx="175.7" cy="252.7" rx="3.1" ry="1.5" fill="#1020f0" transform="rotate(79 175.7 252.7)"/>
<ellipse cx="115.3" cy="377.9" rx="1.4" ry="1.4" fill="#000"/>
<ellipse cx="134.1" cy="327.4" rx="3.0" ry="1.2" fill="#78c878" transform="rotate(65 134.1 327.4)"/>
<ellipse cx="154.0" cy="227.6" rx="2.9" ry="1.5" fill="#78c878" transform="rotate(80 154.0 227.6)"/>
<ellipse cx="134.0" cy="278.0" rx="2.0" ry="1.4" fill="#78c878" transform="rotate(66 134.0 278.0)"/>
<ellipse cx="132.7" cy="308.9" rx="2.1" ry="1.8" fill="#1020f0" transform="rotate(74 132.7 308.9)"/>
<ellipse cx="125.5" cy="359.6" rx="2.7" ry="1.9" fill="#1020f0" transform="rotate(49 125.5 359.6)"/>
<ellipse cx="127.0" cy="339.8" rx="2.7" ry="1.3" fill="none" stroke="#000" stroke-width="1.1" transform="rotate(58 127.0 339.8)"/>
<ellipse cx="193.1" cy="244.3" rx="3.3" ry="1.2" fill="#c8d4ff" transform="rotate(55 193.1 244.3)"/>
<ellipse cx="127.9" cy="363.2" rx="2.3" ry="1.0" fill="none" stroke="#000" stroke-width="1.1" transform="rotate(74 127.9 363.2)"/>
<ellipse cx="140.6" cy="303.8" rx="2.1" ry="1.3" fill="none" stroke="#000" stroke-width="1.1" transform="rotate(54 140.6 303.8)"/>
<ellipse cx="139.0" cy="333.3" rx="1.4" ry="1.8" fill="none" stroke="#000" stroke-width="1.1" transform="rotate(59 139.0 333.3)"/>
<ellipse cx="153.0" cy="285.5" rx="2.9" ry="1.5" fill="#78c878" transform="rotate(61 153.0 285.5)"/>
<ellipse cx="184.0" cy="219.4" rx="3.9" ry="1.4" fill="#78c878" transform="rotate(70 184.0 219.4)"/>
<ellipse cx="126.2" cy="298.9" rx="2.7" ry="1.6" fill="#78c878" transform="rotate(65 126.2 298.9)"/>
<ellipse cx="186.3" cy="243.9" rx="2.4" ry="1.3" fill="none" stroke="#000" stroke-width="1.1" transform="rotate(78 186.3 243.9)"/>
<ellipse cx="172.9" cy="217.2" rx="2.5" ry="1.8" fill="#1020f0" transform="rotate(69 172.9 217.2)"/>
<ellipse cx="200.2" cy="206.8" rx="2.5" ry="1.1" fill="none" stroke="#000" stroke-width="1.1" transform="rotate(48 200.2 206.8)"/>
<ellipse cx="140.5" cy="254.6" rx="2.3" ry="1.6" fill="#c8d4ff" transform="rotate(65 140.5 254.6)"/>
<ellipse cx="194.3" cy="237.0" rx="3.9" ry="1.2" fill="#78c878" transform="rotate(51 194.3 237.0)"/>
<ellipse cx="149.1" cy="318.8" rx="1.2" ry="2.0" fill="none" stroke="#000" stroke-width="1.1" transform="rotate(55 149.1 318.8)"/>
<ellipse cx="173.8" cy="249.7" rx="2.4" ry="1.0" fill="none" stroke="#000" stroke-width="1.1" transform="rotate(75 173.8 249.7)"/>
<ellipse cx="103.7" cy="388.4" rx="1.5" ry="0.9" fill="none" stroke="#000" stroke-width="1.1" transform="rotate(41 103.7 388.4)"/>
<ellipse cx="124.0" cy="344.7" rx="1.5" ry="1.5" fill="none" stroke="#000" stroke-width="1.1" transform="rotate(55 124.0 344.7)"/>
<ellipse cx="161.4" cy="202.6" rx="2.4" ry="1.3" fill="#78c878" transform="rotate(40 161.4 202.6)"/>
<path d="M121.3,219.0 L137.1,220.1 L136.0,235.9 L137.1,248.4 L128.1,248.4 L122.4,235.9Z" fill="#c4c4c4" stroke="#000" stroke-width="1.3"/>
<path d="M150.7,220.7 L159.7,221.3 L160.8,235.9 L152.9,237.1Z" fill="#c4c4c4" stroke="#000" stroke-width="1.3"/>
<path d="M145.0,292.4 L152.9,291.3 L156.3,298.1 L152.9,309.3 L146.1,311.6Z" fill="#c4c4c4" stroke="#000" stroke-width="1.3"/>
<path d="M160.8,295.2 L172.1,296.9 L179.5,300.9 L169.3,302.6 L159.7,303.7Z" fill="#c4c4c4" stroke="#000" stroke-width="1.3"/>
<path d="M158.6,303.7 L164.2,304.8 L163.6,310.5 L159.1,310.5Z" fill="#c4c4c4" stroke="#000" stroke-width="1.3"/>
<path d="M199.9,253.2 C203.2,251.5 218.8,250.5 226.5,250.5 C234.3,250.5 245.4,251.6 246.5,253.2 C247.6,254.7 239.9,258.6 233.2,259.9 C226.5,261.1 212.1,261.6 206.5,260.5 C201.0,259.4 196.6,254.9 199.9,253.2Z" fill="#9ec4ff" opacity="0.8"/>
<path d="M133.3,383.1 C133.8,377.0 141.0,371.5 143.3,373.1 C145.5,374.8 147.1,387.0 146.6,393.1 C146.0,399.2 142.1,411.4 139.9,409.8 C137.7,408.1 132.7,389.2 133.3,383.1Z" fill="#9ec4ff" opacity="0.8"/>
<path d="M316.5,263.2 C317.6,261.0 330.4,256.5 336.5,256.5 C342.6,256.5 354.2,261.0 353.1,263.2 C352.0,265.4 335.9,269.8 329.8,269.8 C323.7,269.8 315.4,265.4 316.5,263.2Z" fill="#9ec4ff" opacity="0.8"/>
<path d="M173.2,293.2 C175.5,289.8 184.3,287.6 186.6,289.8 C188.8,292.1 188.8,303.2 186.6,306.5 C184.3,309.8 175.5,312.0 173.2,309.8 C171.0,307.6 171.0,296.5 173.2,293.2Z" fill="#9ec4ff" opacity="0.8"/>
<path d="M106.6,383.1 C108.3,380.1 116.0,378.4 119.9,379.8 C123.8,381.2 129.4,388.1 129.9,391.4 C130.5,394.8 126.6,398.7 123.3,399.8 C119.9,400.9 112.7,400.9 109.9,398.1 C107.2,395.3 104.9,386.2 106.6,383.1Z" fill="#b8b8b8" stroke="#000" stroke-width="1.0"/>
<path d="M253.2,229.9 C254.9,227.1 263.7,224.9 266.5,226.5 C269.3,228.2 271.5,237.1 269.8,239.9 C268.2,242.6 259.3,244.9 256.5,243.2 C253.7,241.5 251.5,232.6 253.2,229.9Z" fill="#b8b8b8" stroke="#000" stroke-width="1.0"/>
<path d="M146.6,293.2 C148.2,290.9 157.1,288.7 159.9,289.8 C162.7,290.9 164.9,297.6 163.2,299.8 C161.6,302.1 152.7,304.3 149.9,303.2 C147.1,302.1 144.9,295.4 146.6,293.2Z" fill="#b8b8b8" stroke="#000" stroke-width="1.0"/>
<path d="M148.2,433.1 C135.5,434.8 156.2,417.5 156.6,409.8 C157.0,402.0 153.6,394.1 150.6,386.4 C147.5,378.8 138.6,368.8 138.3,363.8 C137.9,358.8 144.6,357.6 148.2,356.5 C151.9,355.4 157.4,359.4 159.9,357.1 C162.4,354.9 163.8,348.7 163.2,343.1 C162.7,337.6 156.0,328.0 156.6,323.8 C157.1,319.7 162.7,319.7 166.6,318.2 C170.5,316.7 176.0,317.9 179.9,314.8 C183.8,311.8 187.1,305.0 189.9,299.8 C192.7,294.7 197.1,286.5 196.6,283.8 C196.0,281.2 190.4,284.4 186.6,283.8 C182.7,283.3 177.1,282.2 173.2,280.5 C169.3,278.8 165.5,277.2 163.2,273.8 C161.0,270.5 158.8,263.5 159.9,260.5 C161.0,257.5 166.3,257.1 169.9,255.9 C173.5,254.6 178.0,252.6 181.6,253.2 C185.2,253.7 187.9,257.5 191.6,259.2 C195.2,260.9 199.6,262.0 203.2,263.2 C206.8,264.4 208.2,266.2 213.2,266.5 C218.2,266.8 226.0,265.4 233.2,264.8 C240.4,264.3 251.0,264.6 256.5,263.2 C262.1,261.8 263.9,256.0 266.5,256.5 C269.2,257.1 270.2,262.6 272.5,266.5 C274.8,270.4 278.1,274.0 280.5,279.8 C283.0,285.7 285.3,292.9 287.2,301.5 C289.0,310.1 300.5,315.1 291.5,331.5 C282.5,347.9 257.1,382.8 233.2,399.8 C209.3,416.7 161.0,431.4 148.2,433.1Z" fill="#ffe600" stroke="#000" stroke-width="1.1"/>
<path d="M152.6,429.8 C140.4,431.3 159.6,416.3 159.9,409.1 C160.2,401.9 157.0,393.6 154.6,386.4 C152.1,379.3 145.7,370.7 145.3,366.5 C144.8,362.2 148.9,362.0 151.9,361.1 C154.9,360.2 160.7,363.8 163.2,361.1 C165.8,358.4 167.6,350.6 167.2,344.8 C166.9,339.0 160.7,330.3 161.2,326.5 C161.8,322.7 166.9,323.2 170.6,321.8 C174.2,320.4 179.3,321.4 183.2,318.2 C187.1,314.9 191.0,307.8 193.9,302.5 C196.8,297.2 198.9,290.2 200.6,286.5 C202.2,282.8 201.1,283.0 203.9,280.5 C206.7,278.0 211.2,273.5 217.2,271.5 C223.2,269.5 232.2,269.3 239.9,268.5 C247.5,267.7 258.1,265.6 263.2,266.5 C268.3,267.4 268.1,270.4 270.5,273.8 C273.0,277.3 275.6,281.6 277.8,287.2 C280.1,292.7 282.2,299.8 283.8,307.2 C285.5,314.5 296.3,316.0 287.8,331.5 C279.4,346.9 255.7,383.4 233.2,399.8 C210.7,416.2 164.8,428.2 152.6,429.8Z" fill="#ff8a00"/>
<path d="M156.6,359.8 C159.4,352.0 168.2,357.6 173.2,359.8 C178.2,362.0 182.1,368.1 186.6,373.1 C191.0,378.1 199.9,383.7 199.9,389.8 C199.9,395.9 192.1,404.2 186.6,409.8 C181.0,415.3 171.6,423.6 166.6,423.1 C161.6,422.5 158.2,417.0 156.6,406.4 C154.9,395.9 153.8,367.6 156.6,359.8Z" fill="#ff9a10" opacity="0.6"/>
<path d="M159.2,259.9 C160.2,256.4 166.5,255.7 170.6,254.5 C174.7,253.3 179.8,252.1 183.9,252.5 C187.9,253.0 191.6,255.4 194.9,257.2 C198.2,259.0 202.9,259.9 203.9,263.2 C204.8,266.5 202.9,273.7 200.6,277.2 C198.2,280.6 194.0,283.1 189.9,283.8 C185.8,284.6 180.1,283.3 175.9,281.8 C171.7,280.4 167.3,278.8 164.6,275.2 C161.8,271.5 158.2,263.3 159.2,259.9Z" fill="#ffe000" stroke="#000" stroke-width="1.0"/>
<path d="M168.2,261.5 C169.1,258.5 177.1,257.9 181.6,258.2 C186.0,258.5 193.2,260.4 194.9,263.2 C196.6,266.0 194.6,272.6 191.6,274.8 C188.5,277.1 180.5,278.7 176.6,276.5 C172.7,274.3 167.4,264.6 168.2,261.5Z" fill="#ff9a00"/>
<path d="M297.5,290.5 C297.4,285.9 301.0,276.7 303.8,271.5 C306.7,266.3 310.8,261.8 314.5,259.2 C318.2,256.6 324.3,252.7 325.8,255.9 C327.4,259.0 325.6,271.8 323.8,278.2 C322.0,284.5 318.4,290.3 315.2,293.8 C311.9,297.3 307.4,299.7 304.5,299.2 C301.6,298.6 297.6,295.1 297.5,290.5Z" fill="#ffe000" stroke="#000" stroke-width="1.0"/>
<path d="M302.5,287.2 C302.7,283.8 304.9,277.1 307.2,273.2 C309.4,269.3 313.4,265.6 315.8,263.9 C318.3,262.1 321.3,260.3 321.8,262.5 C322.4,264.7 320.7,272.7 319.2,277.2 C317.6,281.6 314.7,286.5 312.5,289.2 C310.3,291.8 307.5,293.5 305.8,293.2 C304.2,292.8 302.3,290.5 302.5,287.2Z" fill="#ff9000"/>
<path d="M272.5,257.2 C273.3,255.1 276.5,252.1 279.2,251.2 C281.8,250.3 286.6,250.3 288.5,251.9 C290.4,253.4 291.4,258.4 290.5,260.5 C289.6,262.6 285.8,264.0 283.2,264.5 C280.5,265.1 276.3,265.1 274.5,263.9 C272.7,262.6 271.7,259.3 272.5,257.2Z" fill="#ffe000" stroke="#000" stroke-width="1.0"/>
<path d="M345.8,257.2 C346.9,254.7 351.7,250.3 355.8,249.2 C359.9,248.1 366.7,248.7 370.5,250.5 C374.2,252.3 377.6,257.1 378.1,259.9 C378.7,262.6 376.8,266.2 373.8,267.2 C370.7,268.2 363.9,266.4 359.8,265.8 C355.7,265.3 351.5,265.3 349.1,263.9 C346.8,262.4 344.7,259.6 345.8,257.2Z" fill="#ffd000" stroke="#000" stroke-width="1.0"/>
<path d="M352.5,258.2 C352.2,256.6 356.9,254.2 359.8,253.9 C362.7,253.5 367.7,254.5 369.8,255.9 C371.9,257.2 373.8,260.6 372.5,261.9 C371.1,263.1 364.8,263.8 361.5,263.2 C358.1,262.6 352.7,259.7 352.5,258.2Z" fill="#ff8000"/>
<path d="M322.6,308.5 L326.0,297.5 L332.7,288.8 L340.4,281.1 L347.1,275.4 L354.8,271.5 L364.4,268.7 L375.9,268.7 L383.6,263.9 L393.2,260.0 L400.0,258.1 L400.0,256.2 L355.0,289.0 L322.6,312.8Z" fill="#c8c8c8" stroke="#000" stroke-width="1.0"/>
<path d="M276.1,271.5 C276.7,269.5 280.9,268.7 283.8,267.7 C286.6,266.8 291.4,265.3 293.4,265.8 C295.3,266.3 295.4,269.0 295.3,270.6 C295.1,272.2 292.1,273.8 292.4,275.4 C292.7,277.0 295.4,278.6 297.2,280.2 C299.0,281.8 302.0,282.9 303.0,285.0 C303.9,287.1 303.9,291.1 303.0,292.7 C302.0,294.3 299.4,295.1 297.2,294.6 C295.0,294.1 291.8,291.4 289.5,289.8 C287.3,288.2 285.4,286.6 283.8,285.0 C282.2,283.4 281.2,282.4 279.9,280.2 C278.6,277.9 275.4,273.6 276.1,271.5Z" fill="#ffe000" stroke="#000" stroke-width="1.0"/>
<path d="M283.8,273.5 C284.1,270.9 289.8,269.8 291.4,270.6 C293.0,271.4 292.1,275.9 293.4,278.3 C294.6,280.7 298.5,282.9 299.1,285.0 C299.8,287.1 298.8,290.6 297.2,290.7 C295.6,290.9 291.8,288.8 289.5,285.9 C287.3,283.1 283.4,276.0 283.8,273.5Z" fill="#ff9a00"/>
<path d="M253.0,258.1 C253.4,256.8 256.7,255.6 258.8,255.2 C260.9,254.9 264.6,255.1 265.5,256.2 C266.5,257.3 266.0,260.8 264.6,262.0 C263.1,263.1 258.8,263.6 256.9,262.9 C255.0,262.3 252.7,259.4 253.0,258.1Z" fill="#c0c0c0" stroke="#000" stroke-width="1.0"/>
<path d="M325.0,277.3 C325.2,276.2 328.1,274.7 329.8,274.4 C331.6,274.1 334.8,274.4 335.6,275.4 C336.4,276.3 335.7,279.2 334.6,280.2 C333.5,281.1 330.5,281.6 328.9,281.1 C327.3,280.7 324.9,278.4 325.0,277.3Z" fill="#c0c0c0" stroke="#000" stroke-width="1.0"/>
<path d="M254.0,221.6 C257.0,218.9 268.6,216.5 271.3,220.7 C274.0,224.8 272.4,242.1 270.3,246.6 C268.2,251.1 261.7,249.2 258.8,247.6 C255.9,246.0 253.8,241.3 253.0,237.0 C252.2,232.7 251.0,224.4 254.0,221.6Z" fill="#b8b8b8" stroke="#000" stroke-width="1.0"/>
<path d="M350.0,211.1 C350.8,208.4 353.5,206.4 354.8,206.3 C356.1,206.1 357.7,207.7 357.7,210.1 C357.7,212.5 354.5,217.2 354.8,220.7 C355.1,224.2 359.6,229.3 359.6,231.2 C359.6,233.2 356.4,233.6 354.8,232.2 C353.2,230.8 350.8,226.1 350.0,222.6 C349.2,219.1 349.2,213.8 350.0,211.1Z" fill="#c0c0c0"/>
<path d="M206.6,389.7 C200.0,387.0 196.6,380.7 193.3,375.6 C190.0,370.4 188.3,363.9 186.6,358.9 C185.0,353.9 182.7,349.5 183.3,345.6 C183.8,341.7 187.7,338.9 190.0,335.6 C192.2,332.3 195.0,328.9 196.6,325.6 C198.3,322.3 198.8,319.5 200.0,315.6 C201.1,311.7 202.2,306.7 203.3,302.3 C204.4,297.8 204.4,292.3 206.6,289.0 C208.8,285.6 212.2,284.0 216.6,282.3 C221.1,280.6 227.7,279.5 233.3,279.0 C238.8,278.4 244.9,278.1 249.9,279.0 C254.9,279.8 259.9,281.7 263.3,284.0 C266.6,286.2 268.0,289.2 269.9,292.3 C271.9,295.3 273.2,298.4 274.9,302.3 C276.6,306.2 278.2,311.7 279.9,315.6 C281.6,319.5 283.0,322.7 284.9,325.6 C286.9,328.5 300.2,322.0 291.6,333.1 C283.0,344.2 247.4,382.8 233.3,392.2 C219.1,401.7 213.3,392.5 206.6,389.7Z" fill="#f8300c"/>
<path d="M214.9,305.6 C216.1,302.6 218.8,299.2 223.3,297.3 C227.7,295.3 235.8,294.0 241.6,294.0 C247.4,294.0 254.1,295.1 258.3,297.3 C262.4,299.5 264.4,303.7 266.6,307.3 C268.8,310.9 269.4,315.1 271.6,318.9 C273.8,322.8 277.4,328.1 279.9,330.6 C282.4,333.1 293.5,327.4 286.6,333.9 C279.6,340.5 248.3,365.4 238.3,369.8 C228.3,374.1 230.2,362.3 226.6,359.8 C223.0,357.3 219.9,356.0 216.6,354.8 C213.3,353.5 209.1,353.5 206.6,352.3 C204.1,351.0 201.3,348.9 201.6,347.3 C201.9,345.6 205.8,344.2 208.3,342.3 C210.8,340.3 214.7,338.4 216.6,335.6 C218.6,332.8 219.9,328.9 219.9,325.6 C219.9,322.3 217.4,318.9 216.6,315.6 C215.8,312.3 213.8,308.7 214.9,305.6Z" fill="#cc1c10"/>
<path d="M229.9,309.0 C233.3,305.6 241.6,304.5 246.6,305.6 C251.6,306.7 256.6,311.7 259.9,315.6 C263.3,319.5 268.2,323.9 266.6,328.9 C264.9,333.9 255.5,343.4 249.9,345.6 C244.4,347.8 237.2,345.6 233.3,342.3 C229.4,338.9 227.2,331.2 226.6,325.6 C226.0,320.1 226.6,312.3 229.9,309.0Z" fill="#b81810" opacity="0.7"/>
<path d="M285.7,333.1 L276.6,317.3 L269.9,302.3 L266.6,292.3 L254.9,287.3 L241.6,285.6 L226.6,286.5 L213.3,290.6 L206.6,299.0 L206.6,312.3 L209.9,322.3 L214.9,328.9 L206.6,325.6 L198.3,323.9 L195.0,332.3 L190.0,338.9 L186.6,347.3 L190.0,353.9 L200.0,358.9 L209.9,365.6 L219.9,368.9 L225.8,374.8" fill="none" stroke="#000" stroke-width="1.2" stroke-linecap="round" stroke-linejoin="round"/>
<path d="M186.6,385.6 C187.2,383.6 190.8,381.7 193.3,382.2 C195.8,382.8 200.5,386.7 201.6,388.9 C202.7,391.1 201.9,394.7 200.0,395.6 C198.0,396.4 192.2,395.6 190.0,393.9 C187.7,392.2 186.1,387.5 186.6,385.6Z" fill="#2a50ff" stroke="#000" stroke-width="1.0"/>
<path d="M283.3,72.2 C282.8,74.3 282.0,81.2 280.6,84.8 C279.3,88.3 276.9,89.7 275.4,93.5 C273.9,97.3 272.0,105.2 271.4,107.5" fill="none" stroke="#000" stroke-width="7.7" stroke-linecap="round" stroke-linejoin="round"/><path d="M283.3,72.2 C282.8,74.3 282.0,81.2 280.6,84.8 C279.3,88.3 276.9,89.7 275.4,93.5 C273.9,97.3 272.0,105.2 271.4,107.5" fill="none" stroke="#78c878" stroke-width="5.5" stroke-linecap="round" stroke-linejoin="round"/><path d="M283.3,72.2 C282.8,74.3 282.0,81.2 280.6,84.8 C279.3,88.3 276.9,89.7 275.4,93.5 C273.9,97.3 272.0,105.2 271.4,107.5" fill="none" stroke="#90c0ff" stroke-width="2.475" stroke-linecap="round" stroke-linejoin="round"/>
<path d="M240.4,132.0 L243.0,123.3 L246.5,116.3 L251.8,115.4 L257.0,118.9 L264.0,119.8 L265.8,126.8 L260.5,131.1 L253.5,128.5 L248.3,125.0 L244.8,132.0Z" fill="#78c878" stroke="#000" stroke-width="1.2"/>
<path d="M286.8,98.8 L292.0,95.3 L293.8,102.3 L290.3,105.8Z" fill="#78c878" stroke="#000" stroke-width="1.2"/>
<path d="M293.8,114.5 L300.8,110.1 L304.3,111.0 L302.5,116.3 L295.5,118.0Z" fill="#78c878" stroke="#000" stroke-width="1.2"/>
<path d="M302.5,96.1 C302.7,97.6 303.3,103.4 303.4,104.9" fill="none" stroke="#000" stroke-width="2.6" stroke-linecap="round" stroke-linejoin="round"/>
<path d="M292.0,139.0 L297.3,128.5 L300.8,132.0 L299.0,146.0 L306.0,149.5 L309.5,132.0 L318.3,126.8 L320.0,135.5 L327.0,139.0 L323.5,146.0 L318.3,153.0 L314.8,163.5 L309.5,174.0 L305.2,180.2 L303.4,174.0 L306.0,161.8 L302.5,156.5 L293.8,153.0Z" fill="#78c878" stroke="#000" stroke-width="1.3"/>
<path d="M294.7,140.8 C295.1,138.1 297.1,132.9 298.2,133.8 C299.2,134.6 299.3,142.8 300.8,146.0 C302.2,149.2 305.0,154.2 306.9,153.0 C308.8,151.9 310.3,141.9 312.2,139.0 C314.1,136.1 317.0,134.9 318.3,135.5 C319.6,136.1 320.6,139.9 320.0,142.5 C319.4,145.1 316.2,147.8 314.8,151.3 C313.3,154.8 312.6,159.4 311.3,163.5 C310.0,167.6 307.5,176.4 306.9,175.8 C306.3,175.2 308.8,163.5 307.8,160.0 C306.8,156.5 302.8,156.5 300.8,154.8 C298.7,153.0 296.5,151.9 295.5,149.5 C294.5,147.2 294.2,143.4 294.7,140.8Z" fill="#4a78ff"/>
<path d="M310.4,144.3 C310.8,142.7 312.3,141.4 313.0,141.6 C313.8,141.9 314.8,144.1 314.8,146.0 C314.8,147.9 313.7,152.2 313.0,153.0 C312.4,153.9 311.4,152.7 310.9,151.3 C310.5,149.8 310.1,145.9 310.4,144.3Z" fill="#ffe000" stroke="#000" stroke-width="0.8"/>
<path d="M264.0,146.0 C264.9,144.9 268.8,143.5 271.0,144.3 C273.2,145.0 276.9,148.9 277.1,150.4 C277.4,151.9 274.7,152.9 272.8,153.0 C270.9,153.2 267.2,152.4 265.8,151.3 C264.3,150.1 263.1,147.2 264.0,146.0Z" fill="#4a78ff" stroke="#000" stroke-width="1.2"/>
<path d="M281.5,158.3 C282.4,157.3 286.5,155.7 288.5,155.7 C290.6,155.7 293.8,157.3 293.8,158.3 C293.8,159.3 290.3,161.2 288.5,161.8 C286.8,162.4 284.4,162.4 283.3,161.8 C282.1,161.2 280.6,159.3 281.5,158.3Z" fill="#4a78ff" stroke="#000" stroke-width="1.2"/>
<path d="M366.4,161.8 C366.1,163.2 364.8,168.0 364.7,170.5 C364.6,173.0 365.7,175.6 365.9,176.7" fill="none" stroke="#000" stroke-width="6.7" stroke-linecap="round" stroke-linejoin="round"/><path d="M366.4,161.8 C366.1,163.2 364.8,168.0 364.7,170.5 C364.6,173.0 365.7,175.6 365.9,176.7" fill="none" stroke="#78c878" stroke-width="4.5" stroke-linecap="round" stroke-linejoin="round"/><path d="M366.4,161.8 C366.1,163.2 364.8,168.0 364.7,170.5 C364.6,173.0 365.7,175.6 365.9,176.7" fill="none" stroke="#90c0ff" stroke-width="2.025" stroke-linecap="round" stroke-linejoin="round"/>
<path d="M426.8,42.8 C426.1,44.5 423.9,49.5 422.4,53.3 C421.0,57.0 418.8,63.5 418.1,65.5" fill="none" stroke="#000" stroke-width="7.2" stroke-linecap="round" stroke-linejoin="round"/><path d="M426.8,42.8 C426.1,44.5 423.9,49.5 422.4,53.3 C421.0,57.0 418.8,63.5 418.1,65.5" fill="none" stroke="#78c878" stroke-width="5.0" stroke-linecap="round" stroke-linejoin="round"/><path d="M426.8,42.8 C426.1,44.5 423.9,49.5 422.4,53.3 C421.0,57.0 418.8,63.5 418.1,65.5" fill="none" stroke="#90c0ff" stroke-width="2.25" stroke-linecap="round" stroke-linejoin="round"/>
<path d="M386.5,179.3 L390.0,171.4 L398.8,172.6 L407.6,170.5 L408.4,181.0 L400.5,181.0 L395.3,179.3Z" fill="#3a66ff" stroke="#000" stroke-width="1.3"/>
<path d="M390.9,175.8 C391.4,175.2 395.7,175.9 396.2,176.7 C396.6,177.4 394.4,180.3 393.5,180.2 C392.7,180.0 390.5,176.4 390.9,175.8Z" fill="#ff8000"/>
<path d="M413.7,177.5 L419.8,175.8 L428.6,179.3 L437.3,184.5 L442.6,191.5 L437.3,196.8 L428.6,195.9 L421.6,188.0 L415.4,182.8Z" fill="#3a66ff" stroke="#000" stroke-width="1.3"/>
<path d="M429.4,188.0 C430.7,187.0 435.4,186.6 437.3,187.2 C439.2,187.7 441.2,190.2 440.8,191.5 C440.4,192.8 436.6,194.7 434.7,195.0 C432.8,195.3 430.3,194.5 429.4,193.3 C428.6,192.1 428.1,189.1 429.4,188.0Z" fill="#ff8000"/>
<path d="M446.9,186.3 L451.3,179.3 L460.1,182.8 L470.6,190.7 L463.6,198.5 L454.8,196.8 L447.8,193.3Z" fill="#3a66ff" stroke="#000" stroke-width="1.3"/>
<path d="M458.3,188.9 C459.5,188.5 463.9,188.9 464.4,189.8 C465.0,190.7 463.0,193.7 461.8,194.2 C460.6,194.6 458.0,193.3 457.4,192.4 C456.9,191.5 457.1,189.3 458.3,188.9Z" fill="#ff8000"/>
<path d="M423.3,182.8 C423.6,181.9 427.1,180.7 428.6,181.0 C430.0,181.3 432.3,183.7 432.1,184.5 C431.8,185.4 428.3,186.6 426.8,186.3 C425.3,186.0 423.0,183.7 423.3,182.8Z" fill="#ff9000"/>
<path d="M416.3,71.6 C416.4,72.9 417.0,78.2 417.2,79.5" fill="none" stroke="#000" stroke-width="2.6" stroke-linecap="round" stroke-linejoin="round"/>
<path d="M421.6,115.4 C421.6,117.1 421.8,124.1 421.9,125.9" fill="none" stroke="#000" stroke-width="2.6" stroke-linecap="round" stroke-linejoin="round"/>
<path d="M439.9,130.3 C439.8,131.3 439.2,135.4 439.1,136.4" fill="none" stroke="#000" stroke-width="2.6" stroke-linecap="round" stroke-linejoin="round"/>
<path d="M435.9,140.4 C436.0,141.4 436.3,145.1 436.4,146.0" fill="none" stroke="#000" stroke-width="2.6" stroke-linecap="round" stroke-linejoin="round"/>
<path d="M442.6,105.4 C442.6,106.3 442.6,110.1 442.6,111.0" fill="none" stroke="#000" stroke-width="2.6" stroke-linecap="round" stroke-linejoin="round"/>
<path d="M191.4,76.0 C191.5,77.0 191.8,81.1 191.9,82.1" fill="none" stroke="#000" stroke-width="2.6" stroke-linecap="round" stroke-linejoin="round"/>
<path d="M396.7,57.6 C396.8,57.9 397.0,59.1 397.0,59.4" fill="none" stroke="#000" stroke-width="2.6" stroke-linecap="round" stroke-linejoin="round"/>
<path d="M283.3,72.2 C282.7,74.3 280.4,82.7 279.8,84.8" fill="none" stroke="#000" stroke-width="2.6" stroke-linecap="round" stroke-linejoin="round"/>
<ellipse cx="416.7" cy="132.9" rx="1.5" ry="1.3" fill="#000"/>
<ellipse cx="347.7" cy="96.7" rx="1.5" ry="1.3" fill="#000"/>
<ellipse cx="236.0" cy="122.4" rx="1.5" ry="1.3" fill="#000"/>
<ellipse cx="442.6" cy="179.3" rx="1.5" ry="1.3" fill="#000"/>
<ellipse cx="404.6" cy="202.9" rx="1.5" ry="1.3" fill="#000"/>
<path d="M349.8,191.5 C349.8,189.8 352.4,190.2 355.0,191.5 C357.7,192.8 363.5,196.5 365.5,199.4 C367.6,202.3 367.9,206.8 367.3,209.0 C366.7,211.2 364.1,213.7 362.0,212.5 C360.0,211.4 357.1,205.5 355.0,202.0 C353.0,198.5 349.8,193.3 349.8,191.5Z" fill="#78c878" stroke="#000" stroke-width="1.2"/>
<path d="M389.2,212.5 C389.3,210.4 391.2,203.9 392.7,202.0 C394.1,200.1 397.2,199.7 397.9,201.2 C398.7,202.6 398.1,208.5 397.0,210.8 C396.0,213.1 393.1,214.9 391.8,215.2 C390.5,215.5 389.0,214.7 389.2,212.5Z" fill="#78c878" stroke="#000" stroke-width="1.2"/>
<path d="M409.3,207.3 C410.2,205.0 413.7,205.0 416.3,205.5 C418.9,206.1 423.0,208.5 425.1,210.8 C427.1,213.0 430.9,217.6 428.6,219.0 C426.2,220.4 414.3,221.0 411.1,219.0 C407.8,217.1 408.4,209.5 409.3,207.3Z" fill="#80b8ff" stroke="#000" stroke-width="1.2"/>
<path d="M180.0,84.8 C182.9,79.5 206.3,74.0 215.0,76.0 C223.8,78.1 235.4,91.8 232.5,97.0 C229.6,102.3 206.3,109.6 197.5,107.5 C188.8,105.5 177.1,90.0 180.0,84.8Z" fill="#b4b4b4" opacity="0.45"/>
<path d="M328.8,72.5 C334.6,68.1 363.8,64.9 372.5,67.3 C381.3,69.6 387.1,82.1 381.3,86.5 C375.5,90.9 346.3,95.8 337.5,93.5 C328.8,91.2 322.9,76.9 328.8,72.5Z" fill="#b4b4b4" opacity="0.45"/>
<path d="M372.5,111.0 C376.9,105.5 400.3,97.3 407.6,98.8 C414.8,100.2 420.7,114.2 416.3,119.8 C411.9,125.3 388.6,133.5 381.3,132.0 C374.0,130.6 368.2,116.6 372.5,111.0Z" fill="#b4b4b4" opacity="0.45"/>
<path d="M302.5,189.8 C308.4,185.7 337.5,177.5 346.3,177.5 C355.0,177.5 360.9,185.7 355.0,189.8 C349.2,193.9 320.0,202.0 311.3,202.0 C302.5,202.0 296.7,193.9 302.5,189.8Z" fill="#b4b4b4" opacity="0.45"/>
<path d="M334.0,111.0 C339.9,101.4 372.0,91.2 381.3,97.0 C390.6,102.8 395.9,136.4 390.0,146.0 C384.2,155.7 355.6,160.6 346.3,154.8 C337.0,148.9 328.2,120.6 334.0,111.0Z" fill="#dcdcdc" opacity="0.55"/>
<path d="M442.6,93.5 C448.1,75.7 477.6,55.6 484.6,67.3 C491.6,78.9 490.1,145.7 484.6,163.5 C479.0,181.3 458.3,185.7 451.3,174.0 C444.3,162.4 437.0,111.3 442.6,93.5Z" fill="#dcdcdc" opacity="0.55"/>
</g>
<line x1="103.3" y1="463.7" x2="485.8" y2="495.3" stroke="#c4c4c4" stroke-width="1.6"/>
<text transform="translate(283,231) rotate(8)" font-size="19" fill="#000" opacity="0.85">273</text></g>
<g stroke="#000" stroke-width="1.4" fill="none">
<line x1="69.45" y1="40.7" x2="69.45" y2="549.0" stroke-dasharray="3 5.47"/>
<line x1="148.15" y1="40.7" x2="148.15" y2="549.0" stroke-dasharray="3 5.47"/>
<line x1="226.85" y1="40.7" x2="226.85" y2="549.0" stroke-dasharray="3 5.47"/>
<line x1="305.55" y1="40.7" x2="305.55" y2="549.0" stroke-dasharray="3 5.47"/>
<line x1="384.25" y1="40.7" x2="384.25" y2="549.0" stroke-dasharray="3 5.47"/>
<line x1="462.95" y1="40.7" x2="462.95" y2="549.0" stroke-dasharray="3 5.47"/>
<line x1="12.7" y1="70.40" x2="485.8" y2="70.40" stroke-dasharray="3 5.2"/>
<line x1="12.7" y1="154.98" x2="485.8" y2="154.98" stroke-dasharray="3 5.2"/>
<line x1="12.7" y1="239.56" x2="485.8" y2="239.56" stroke-dasharray="3 5.2"/>
<line x1="12.7" y1="324.14" x2="485.8" y2="324.14" stroke-dasharray="3 5.2"/>
<line x1="12.7" y1="408.72" x2="485.8" y2="408.72" stroke-dasharray="3 5.2"/>
<line x1="12.7" y1="493.30" x2="485.8" y2="493.30" stroke-dasharray="3 5.2"/>
</g>
<g stroke="#000" stroke-width="1.2" fill="none" stroke-dasharray="12.3 11.3">
<path d="M13.00,284.74 L27.03,274.19 L41.06,263.69 L55.09,253.24 L69.12,242.85 L83.15,232.52 L97.17,222.24 L111.20,212.01 L125.23,201.84 L139.26,191.72 L153.29,181.65 L167.32,171.64 L181.35,161.68 L195.38,151.78 L209.41,141.93 L223.44,132.14 L237.47,122.40 L251.50,112.72 L265.52,103.09 L279.55,93.51 L293.58,83.99 L307.61,74.52 L321.64,65.10 L335.67,55.74 L349.70,46.44"/>
<path d="M13.20,398.31 L32.89,383.44 L52.58,368.67 L72.26,354.00 L91.95,339.42 L111.64,324.94 L131.32,310.55 L151.01,296.27 L170.70,282.07 L190.39,267.98 L210.07,253.98 L229.76,240.08 L249.45,226.28 L269.14,212.57 L288.82,198.97 L308.51,185.45 L328.20,172.04 L347.89,158.72 L367.57,145.50 L387.26,132.37 L406.95,119.34 L426.64,106.41 L446.32,93.58 L466.01,80.84 L485.70,68.20"/>
</g>
<text transform="translate(57.29,303.00)" font-size="12.6" fill="#000">-118</text>
<text transform="translate(136.02,303.00)" font-size="12.6" fill="#000">-116</text>
<text transform="translate(214.63,303.00)" font-size="12.6" fill="#000">-114</text>
<text transform="translate(293.45,303.00)" font-size="12.6" fill="#000">-112</text>
<text transform="translate(372.09,303.00)" font-size="12.6" fill="#000">-110</text>
<text transform="translate(450.32,303.00)" font-size="12.6" fill="#000">-108</text>
<text transform="translate(239.89,70.40)" font-size="12.6" fill="#000">18</text>
<text transform="translate(239.92,154.98)" font-size="12.6" fill="#000">16</text>
<text transform="translate(239.82,239.56)" font-size="12.6" fill="#000">14</text>
<text transform="translate(239.95,324.14)" font-size="12.6" fill="#000">12</text>
<text transform="translate(239.89,408.72)" font-size="12.6" fill="#000">10</text>
<text transform="translate(243.57,493.30)" font-size="12.6" fill="#000">8</text>
<path d="M247.1,288.1h4.6v4.1h4.3v4.6h-4.3v4.4h-4.6v-4.4h-4.4v-4.6h4.4z" fill="#000"/>
<text transform="translate(37.88,65.70) scale(0.9730,1)" font-size="25.5" fill="#000">VIRS T</text>
<text transform="translate(116.27,71.50) scale(1.0597,1)" font-size="14.5" fill="#000">B11</text>
<text transform="translate(152.05,66.00) scale(0.9464,1)" font-size="25.5" fill="#000">(K)</text>
<text transform="translate(438.00,523.00)" font-size="30.0" fill="#000">(g)</text>
<rect x="495.1" y="40.70" width="8.9" height="8.76" fill="#561a18"/>
<rect x="495.1" y="49.16" width="8.9" height="8.76" fill="#5a1613"/>
<rect x="495.1" y="57.62" width="8.9" height="8.76" fill="#5d130e"/>
<rect x="495.1" y="66.08" width="8.9" height="8.76" fill="#601009"/>
<rect x="495.1" y="74.54" width="8.9" height="8.76" fill="#640c04"/>
<rect x="495.1" y="83.01" width="8.9" height="8.76" fill="#9c0c00"/>
<rect x="495.1" y="91.47" width="8.9" height="8.76" fill="#a60900"/>
<rect x="495.1" y="99.93" width="8.9" height="8.76" fill="#b00600"/>
<rect x="495.1" y="108.39" width="8.9" height="8.76" fill="#ba0300"/>
<rect x="495.1" y="116.85" width="8.9" height="8.76" fill="#c40000"/>
<rect x="495.1" y="125.31" width="8.9" height="8.76" fill="#ff1400"/>
<rect x="495.1" y="133.77" width="8.9" height="8.76" fill="#ff2100"/>
<rect x="495.1" y="142.23" width="8.9" height="8.76" fill="#ff2e00"/>
<rect x="495.1" y="150.69" width="8.9" height="8.76" fill="#ff3b00"/>
<rect x="495.1" y="159.15" width="8.9" height="8.76" fill="#ff4800"/>
<rect x="495.1" y="167.62" width="8.9" height="8.76" fill="#ff7000"/>
<rect x="495.1" y="176.08" width="8.9" height="8.76" fill="#ff7700"/>
<rect x="495.1" y="184.54" width="8.9" height="8.76" fill="#ff7e00"/>
<rect x="495.1" y="193.00" width="8.9" height="8.76" fill="#ff8500"/>
<rect x="495.1" y="201.46" width="8.9" height="8.76" fill="#ff8c00"/>
<rect x="495.1" y="209.92" width="8.9" height="8.76" fill="#ffc800"/>
<rect x="495.1" y="218.38" width="8.9" height="8.76" fill="#ffd600"/>
<rect x="495.1" y="226.84" width="8.9" height="8.76" fill="#ffe400"/>
<rect x="495.1" y="235.30" width="8.9" height="8.76" fill="#fff100"/>
<rect x="495.1" y="243.76" width="8.9" height="8.76" fill="#ffff00"/>
<rect x="495.1" y="252.23" width="8.9" height="8.76" fill="#0000b4"/>
<rect x="495.1" y="260.69" width="8.9" height="8.76" fill="#0000c0"/>
<rect x="495.1" y="269.15" width="8.9" height="8.76" fill="#0000cc"/>
<rect x="495.1" y="277.61" width="8.9" height="8.76" fill="#0000e6"/>
<rect x="495.1" y="286.07" width="8.9" height="8.76" fill="#0000ff"/>
<rect x="495.1" y="294.53" width="8.9" height="8.76" fill="#2828ff"/>
<rect x="495.1" y="302.99" width="8.9" height="8.76" fill="#3c3cff"/>
<rect x="495.1" y="311.45" width="8.9" height="8.76" fill="#4060ff"/>
<rect x="495.1" y="319.91" width="8.9" height="8.76" fill="#4080ff"/>
<rect x="495.1" y="328.37" width="8.9" height="8.76" fill="#40a0ff"/>
<rect x="495.1" y="336.84" width="8.9" height="8.76" fill="#58b4ff"/>
<rect x="495.1" y="345.30" width="8.9" height="8.76" fill="#78c0ff"/>
<rect x="495.1" y="353.76" width="8.9" height="8.76" fill="#98c8ff"/>
<rect x="495.1" y="362.22" width="8.9" height="8.76" fill="#b4ccff"/>
<rect x="495.1" y="370.68" width="8.9" height="8.76" fill="#ccd4ff"/>
<rect x="495.1" y="379.14" width="8.9" height="8.76" fill="#60b460"/>
<rect x="495.1" y="387.60" width="8.9" height="8.76" fill="#68bf68"/>
<rect x="495.1" y="396.06" width="8.9" height="8.76" fill="#70ca70"/>
<rect x="495.1" y="404.52" width="8.9" height="8.76" fill="#78d578"/>
<rect x="495.1" y="412.98" width="8.9" height="8.76" fill="#80e080"/>
<rect x="495.1" y="421.45" width="8.9" height="8.76" fill="#909090"/>
<rect x="495.1" y="429.91" width="8.9" height="8.76" fill="#989898"/>
<rect x="495.1" y="438.37" width="8.9" height="8.76" fill="#a0a0a0"/>
<rect x="495.1" y="446.83" width="8.9" height="8.76" fill="#a8a8a8"/>
<rect x="495.1" y="455.29" width="8.9" height="8.76" fill="#afafaf"/>
<rect x="495.1" y="463.75" width="8.9" height="8.76" fill="#b7b7b7"/>
<rect x="495.1" y="472.21" width="8.9" height="8.76" fill="#bfbfbf"/>
<rect x="495.1" y="480.67" width="8.9" height="8.76" fill="#c7c7c7"/>
<rect x="495.1" y="489.13" width="8.9" height="8.76" fill="#cfcfcf"/>
<rect x="495.1" y="497.59" width="8.9" height="8.76" fill="#d7d7d7"/>
<rect x="495.1" y="506.06" width="8.9" height="8.76" fill="#dedede"/>
<rect x="495.1" y="514.52" width="8.9" height="8.76" fill="#e6e6e6"/>
<rect x="495.1" y="522.98" width="8.9" height="8.76" fill="#eeeeee"/>
<rect x="495.1" y="531.44" width="8.9" height="8.76" fill="#f6f6f6"/>
<line x1="504" y1="91.60" x2="506.5" y2="91.60" stroke="#000" stroke-width="0.9"/>
<text transform="translate(506.72,100.10)" font-size="19.8" fill="#000">196</text>
<line x1="504" y1="142.35" x2="506.5" y2="142.35" stroke="#000" stroke-width="0.9"/>
<text transform="translate(506.92,150.85)" font-size="19.8" fill="#000">208</text>
<line x1="504" y1="193.10" x2="506.5" y2="193.10" stroke="#000" stroke-width="0.9"/>
<text transform="translate(506.92,201.60)" font-size="19.8" fill="#000">220</text>
<line x1="504" y1="243.85" x2="506.5" y2="243.85" stroke="#000" stroke-width="0.9"/>
<text transform="translate(507.02,252.35)" font-size="19.8" fill="#000">232</text>
<line x1="504" y1="294.60" x2="506.5" y2="294.60" stroke="#000" stroke-width="0.9"/>
<text transform="translate(506.82,303.10)" font-size="19.8" fill="#000">244</text>
<line x1="504" y1="345.35" x2="506.5" y2="345.35" stroke="#000" stroke-width="0.9"/>
<text transform="translate(506.97,353.85)" font-size="19.8" fill="#000">256</text>
<line x1="504" y1="396.10" x2="506.5" y2="396.10" stroke="#000" stroke-width="0.9"/>
<text transform="translate(506.92,404.60)" font-size="19.8" fill="#000">268</text>
<line x1="504" y1="446.85" x2="506.5" y2="446.85" stroke="#000" stroke-width="0.9"/>
<text transform="translate(506.92,455.35)" font-size="19.8" fill="#000">280</text>
<line x1="504" y1="497.60" x2="506.5" y2="497.60" stroke="#000" stroke-width="0.9"/>
<text transform="translate(507.02,506.10)" font-size="19.8" fill="#000">292</text>
<line x1="504" y1="548.35" x2="506.5" y2="548.35" stroke="#000" stroke-width="0.9"/>
<text transform="translate(506.92,556.85)" font-size="19.8" fill="#000">304</text>
</g>
<g transform="translate(590.5,1181.0)">
<g clip-path="url(#pc)"><path d="M284.4,141.0 C284.8,140.6 285.7,139.2 286.4,138.5 C287.2,137.8 288.4,137.2 288.8,136.9" fill="none" stroke="#ff4400" stroke-width="1.8" stroke-linecap="round" stroke-linejoin="round"/>
<path d="M290.4,135.2 C290.7,134.8 293.0,134.4 294.0,134.4 C295.1,134.4 296.1,134.9 296.9,135.5 C297.6,136.1 297.9,137.4 298.6,138.1 C299.2,138.8 300.5,139.2 300.8,139.8 C301.1,140.3 300.8,141.3 300.3,141.6 C299.7,141.9 298.3,141.8 297.4,141.6 C296.6,141.4 296.1,141.1 295.2,140.3 C294.2,139.6 292.6,137.8 291.8,136.9 C291.0,136.1 290.0,135.7 290.4,135.2Z" fill="#1010ff"/>
<path d="M303.5,139.2 C304.0,138.7 305.5,138.8 306.5,138.5 C307.4,138.2 308.4,137.3 309.3,137.5 C310.1,137.7 310.7,139.0 311.5,139.6 C312.4,140.3 313.3,141.0 314.4,141.3 C315.4,141.7 316.8,141.3 317.8,141.6 C318.7,141.9 319.4,142.4 320.0,143.0 C320.6,143.7 320.8,144.7 321.3,145.4 C321.7,146.1 322.1,146.5 323.0,147.1 C323.8,147.7 324.9,148.6 326.2,149.2 C327.5,149.9 330.0,150.3 330.9,150.9 C331.7,151.6 331.2,152.7 331.4,153.3 C331.6,154.0 331.1,154.4 332.0,154.9 C332.9,155.3 336.0,155.5 337.0,156.0 C337.9,156.5 337.8,157.4 337.6,157.8 C337.4,158.2 336.8,158.7 335.8,158.5 C334.9,158.3 332.8,157.2 331.9,156.8 C330.9,156.4 330.4,156.8 330.2,156.3 C330.0,155.7 331.2,154.2 330.6,153.4 C330.1,152.7 328.1,152.3 326.8,151.7 C325.5,151.2 323.9,150.8 322.8,150.0 C321.8,149.3 321.4,148.0 320.6,147.3 C319.7,146.7 318.7,146.5 317.8,146.1 C316.8,145.7 315.9,145.0 314.9,145.0 C314.0,145.0 313.1,146.2 312.1,146.1 C311.1,146.0 309.8,145.0 308.7,144.4 C307.7,143.8 306.8,143.2 305.9,142.7 C305.0,142.2 303.9,142.0 303.5,141.5 C303.1,140.9 303.0,139.7 303.5,139.2Z" fill="#2020ff"/>
<path d="M304.2,138.6 C304.6,137.8 307.4,136.8 308.7,136.9 C310.0,137.1 311.0,139.0 312.1,139.8 C313.2,140.5 314.6,141.0 315.5,141.5 C316.4,141.9 317.5,142.0 317.8,142.6 C318.0,143.2 317.9,144.7 317.2,144.8 C316.5,145.0 315.0,143.9 313.8,143.7 C312.6,143.5 311.1,144.0 309.9,143.7 C308.6,143.4 307.4,142.9 306.5,142.0 C305.5,141.2 303.8,139.5 304.2,138.6Z" fill="#ff4a10"/>
<path d="M333.6,155.6 C334.0,155.4 336.4,155.8 337.0,156.1 C337.5,156.5 337.4,157.6 337.0,157.8 C336.5,158.0 334.7,157.6 334.1,157.3 C333.6,156.9 333.1,155.8 333.6,155.6Z" fill="#ff4a10"/>
<circle cx="261.3" cy="139.8" r="1.0" fill="#ff4400"/>
<circle cx="264.4" cy="144.6" r="1.0" fill="#ff4400"/>
<circle cx="266.4" cy="140.9" r="0.8" fill="#ff4400"/>
<circle cx="277.1" cy="146.1" r="1.6" fill="#ff4400"/>
<circle cx="284.7" cy="141.7" r="1.0" fill="#ff4400"/>
<circle cx="331.3" cy="139.5" r="1.0" fill="#ff4400"/>
<circle cx="332.4" cy="145.7" r="1.3" fill="#ff4400"/>
<circle cx="343.7" cy="159.0" r="0.9" fill="#ff4400"/>
<path d="M268.9,141.7 C269.3,142.2 270.8,144.1 271.2,144.6" fill="none" stroke="#ff4400" stroke-width="1.6" stroke-linecap="round" stroke-linejoin="round"/>
<path d="M139.5,257.0 C139.0,255.3 140.3,251.6 141.0,250.0 C141.7,248.4 142.8,247.1 143.5,247.4 C144.2,247.7 144.1,250.6 145.0,252.0 C145.9,253.4 148.1,254.6 149.0,256.0 C149.9,257.4 151.3,259.7 150.5,260.4 C149.7,261.1 145.8,261.0 144.0,260.4 C142.2,259.8 140.0,258.7 139.5,257.0Z" fill="#ff4400"/>
<path d="M250.6,223.0 C250.8,222.2 251.5,220.8 252.5,220.3 C253.5,219.8 255.7,219.5 256.5,219.8 C257.3,220.1 257.9,221.2 257.5,222.0 C257.1,222.8 255.1,224.3 254.0,224.8 C252.9,225.3 251.6,225.3 251.0,225.0 C250.4,224.7 250.3,223.8 250.6,223.0Z" fill="#1030ff"/>
<circle cx="115.8" cy="258.7" r="0.8" fill="#ff4400"/>
<circle cx="145.7" cy="279.0" r="1.0" fill="#ff4400"/>
<circle cx="140.6" cy="279.6" r="0.6" fill="#ff4400"/>
<circle cx="121.3" cy="283.5" r="0.7" fill="#ff4400"/>
<circle cx="123.5" cy="286.0" r="0.5" fill="#ff4400"/>
<circle cx="59.4" cy="281.3" r="0.7" fill="#ff4400"/>
<circle cx="67.3" cy="306.7" r="1.0" fill="#ff4400"/>
<circle cx="22.1" cy="313.5" r="1.0" fill="#ff4400"/>
<circle cx="30.6" cy="319.1" r="0.6" fill="#ff4400"/>
<circle cx="30.6" cy="323.7" r="0.6" fill="#ff4400"/>
<circle cx="61.6" cy="318.6" r="0.6" fill="#ff4400"/>
<circle cx="148.6" cy="290.3" r="0.6" fill="#ff4400"/>
<circle cx="198.8" cy="219.8" r="0.6" fill="#ff4400"/>
<circle cx="245.5" cy="216.9" r="0.7" fill="#ff4400"/>
<circle cx="245.8" cy="224.0" r="0.6" fill="#ff4400"/></g>
<g stroke="#000" stroke-width="1.4" fill="none">
<line x1="69.45" y1="40.7" x2="69.45" y2="549.0" stroke-dasharray="3 5.47"/>
<line x1="148.15" y1="40.7" x2="148.15" y2="549.0" stroke-dasharray="3 5.47"/>
<line x1="226.85" y1="40.7" x2="226.85" y2="549.0" stroke-dasharray="3 5.47"/>
<line x1="305.55" y1="40.7" x2="305.55" y2="549.0" stroke-dasharray="3 5.47"/>
<line x1="384.25" y1="40.7" x2="384.25" y2="549.0" stroke-dasharray="3 5.47"/>
<line x1="462.95" y1="40.7" x2="462.95" y2="549.0" stroke-dasharray="3 5.47"/>
<line x1="12.7" y1="70.40" x2="485.8" y2="70.40" stroke-dasharray="3 5.2"/>
<line x1="12.7" y1="154.98" x2="485.8" y2="154.98" stroke-dasharray="3 5.2"/>
<line x1="12.7" y1="239.56" x2="485.8" y2="239.56" stroke-dasharray="3 5.2"/>
<line x1="12.7" y1="324.14" x2="485.8" y2="324.14" stroke-dasharray="3 5.2"/>
<line x1="12.7" y1="408.72" x2="485.8" y2="408.72" stroke-dasharray="3 5.2"/>
<line x1="12.7" y1="493.30" x2="485.8" y2="493.30" stroke-dasharray="3 5.2"/>
</g>
<g stroke="#000" stroke-width="1.2" fill="none" stroke-dasharray="12.3 11.3">
<path d="M13.00,284.74 L27.03,274.19 L41.06,263.69 L55.09,253.24 L69.12,242.85 L83.15,232.52 L97.17,222.24 L111.20,212.01 L125.23,201.84 L139.26,191.72 L153.29,181.65 L167.32,171.64 L181.35,161.68 L195.38,151.78 L209.41,141.93 L223.44,132.14 L237.47,122.40 L251.50,112.72 L265.52,103.09 L279.55,93.51 L293.58,83.99 L307.61,74.52 L321.64,65.10 L335.67,55.74 L349.70,46.44"/>
<path d="M13.20,398.31 L32.89,383.44 L52.58,368.67 L72.26,354.00 L91.95,339.42 L111.64,324.94 L131.32,310.55 L151.01,296.27 L170.70,282.07 L190.39,267.98 L210.07,253.98 L229.76,240.08 L249.45,226.28 L269.14,212.57 L288.82,198.97 L308.51,185.45 L328.20,172.04 L347.89,158.72 L367.57,145.50 L387.26,132.37 L406.95,119.34 L426.64,106.41 L446.32,93.58 L466.01,80.84 L485.70,68.20"/>
</g>
<text transform="translate(57.29,303.00)" font-size="12.6" fill="#000">-118</text>
<text transform="translate(136.02,303.00)" font-size="12.6" fill="#000">-116</text>
<text transform="translate(214.63,303.00)" font-size="12.6" fill="#000">-114</text>
<text transform="translate(293.45,303.00)" font-size="12.6" fill="#000">-112</text>
<text transform="translate(372.09,303.00)" font-size="12.6" fill="#000">-110</text>
<text transform="translate(450.32,303.00)" font-size="12.6" fill="#000">-108</text>
<text transform="translate(239.89,70.40)" font-size="12.6" fill="#000">18</text>
<text transform="translate(239.92,154.98)" font-size="12.6" fill="#000">16</text>
<text transform="translate(239.82,239.56)" font-size="12.6" fill="#000">14</text>
<text transform="translate(239.95,324.14)" font-size="12.6" fill="#000">12</text>
<text transform="translate(239.89,408.72)" font-size="12.6" fill="#000">10</text>
<text transform="translate(243.57,493.30)" font-size="12.6" fill="#000">8</text>
<path d="M247.1,288.1h4.6v4.1h4.3v4.6h-4.3v4.4h-4.6v-4.4h-4.4v-4.6h4.4z" fill="#000"/>
<text transform="translate(35.85,66.00) scale(0.9780,1)" font-size="25.5" fill="#000">2A23 rain types</text>
<text transform="translate(438.00,523.00)" font-size="30.0" fill="#000">(h)</text>
<rect x="495.2" y="40.7" width="9.3" height="169.2" fill="#ff4400"/>
<rect x="495.2" y="209.9" width="9.3" height="169.2" fill="#0000ff"/>
<rect x="495.2" y="379.1" width="9.3" height="168.7" fill="#fff"/>
<rect x="495.2" y="40.7" width="9.3" height="507.1" fill="none" stroke="#000" stroke-width="0.9"/>
<text transform="translate(506.99,48.00)" font-size="20.3" fill="#000">Conv</text>
<line x1="504.5" y1="40.7" x2="506.5" y2="40.7" stroke="#000" stroke-width="0.8"/>
<text transform="translate(507.09,217.20)" font-size="20.3" fill="#000">Strat</text>
<line x1="504.5" y1="209.9" x2="506.5" y2="209.9" stroke="#000" stroke-width="0.8"/>
<text transform="translate(506.38,386.40)" font-size="20.3" fill="#000">N/A</text>
<line x1="504.5" y1="379.1" x2="506.5" y2="379.1" stroke="#000" stroke-width="0.8"/>
</g>
<g transform="translate(1181.0,1181.0)">
<g clip-path="url(#pc)"><path d="M284.4,141.0 C284.8,140.6 285.7,139.2 286.4,138.5 C287.2,137.8 288.4,137.2 288.8,136.9" fill="none" stroke="#d8d8d8" stroke-width="1.6" stroke-linecap="round" stroke-linejoin="round"/>
<path d="M290.4,135.2 C290.7,134.8 293.0,134.4 294.0,134.4 C295.1,134.4 296.1,134.9 296.9,135.5 C297.6,136.1 297.9,137.4 298.6,138.1 C299.2,138.8 300.5,139.2 300.8,139.8 C301.1,140.3 300.8,141.3 300.3,141.6 C299.7,141.9 298.3,141.8 297.4,141.6 C296.6,141.4 296.1,141.1 295.2,140.3 C294.2,139.6 292.6,137.8 291.8,136.9 C291.0,136.1 290.0,135.7 290.4,135.2Z" fill="#c4c4c4"/>
<path d="M303.5,139.2 C304.0,138.7 305.5,138.8 306.5,138.5 C307.4,138.2 308.4,137.3 309.3,137.5 C310.1,137.7 310.7,139.0 311.5,139.6 C312.4,140.3 313.3,141.0 314.4,141.3 C315.4,141.7 316.8,141.3 317.8,141.6 C318.7,141.9 319.4,142.4 320.0,143.0 C320.6,143.7 320.8,144.7 321.3,145.4 C321.7,146.1 322.1,146.5 323.0,147.1 C323.8,147.7 324.9,148.6 326.2,149.2 C327.5,149.9 330.0,150.3 330.9,150.9 C331.7,151.6 331.2,152.7 331.4,153.3 C331.6,154.0 331.1,154.4 332.0,154.9 C332.9,155.3 336.0,155.5 337.0,156.0 C337.9,156.5 337.8,157.4 337.6,157.8 C337.4,158.2 336.8,158.7 335.8,158.5 C334.9,158.3 332.8,157.2 331.9,156.8 C330.9,156.4 330.4,156.8 330.2,156.3 C330.0,155.7 331.2,154.2 330.6,153.4 C330.1,152.7 328.1,152.3 326.8,151.7 C325.5,151.2 323.9,150.8 322.8,150.0 C321.8,149.3 321.4,148.0 320.6,147.3 C319.7,146.7 318.7,146.5 317.8,146.1 C316.8,145.7 315.9,145.0 314.9,145.0 C314.0,145.0 313.1,146.2 312.1,146.1 C311.1,146.0 309.8,145.0 308.7,144.4 C307.7,143.8 306.8,143.2 305.9,142.7 C305.0,142.2 303.9,142.0 303.5,141.5 C303.1,140.9 303.0,139.7 303.5,139.2Z" fill="#c8c8c8"/>
<path d="M305.3,138.1 C305.4,137.3 307.4,136.6 308.2,136.9 C308.9,137.3 309.9,139.6 309.9,140.3 C309.8,141.1 308.3,141.8 307.6,141.5 C306.8,141.1 305.2,138.8 305.3,138.1Z" fill="#60c860"/>
<path d="M139.5,257.0 C139.0,255.3 140.3,251.6 141.0,250.0 C141.7,248.4 142.8,247.1 143.5,247.4 C144.2,247.7 144.1,250.6 145.0,252.0 C145.9,253.4 148.1,254.6 149.0,256.0 C149.9,257.4 151.3,259.7 150.5,260.4 C149.7,261.1 145.8,261.0 144.0,260.4 C142.2,259.8 140.0,258.7 139.5,257.0Z" fill="#cfcfcf"/>
<circle cx="115.8" cy="258.7" r="0.8" fill="#d4d4d4"/>
<circle cx="145.7" cy="279.0" r="1.0" fill="#d4d4d4"/>
<circle cx="140.6" cy="279.6" r="0.6" fill="#d4d4d4"/>
<circle cx="121.3" cy="283.5" r="0.7" fill="#d4d4d4"/>
<circle cx="123.5" cy="286.0" r="0.5" fill="#d4d4d4"/>
<circle cx="59.4" cy="281.3" r="0.7" fill="#d4d4d4"/>
<circle cx="67.3" cy="306.7" r="1.0" fill="#d4d4d4"/>
<circle cx="22.1" cy="313.5" r="1.0" fill="#d4d4d4"/></g>
<g stroke="#000" stroke-width="1.4" fill="none">
<line x1="69.45" y1="40.7" x2="69.45" y2="549.0" stroke-dasharray="3 5.47"/>
<line x1="148.15" y1="40.7" x2="148.15" y2="549.0" stroke-dasharray="3 5.47"/>
<line x1="226.85" y1="40.7" x2="226.85" y2="549.0" stroke-dasharray="3 5.47"/>
<line x1="305.55" y1="40.7" x2="305.55" y2="549.0" stroke-dasharray="3 5.47"/>
<line x1="384.25" y1="40.7" x2="384.25" y2="549.0" stroke-dasharray="3 5.47"/>
<line x1="462.95" y1="40.7" x2="462.95" y2="549.0" stroke-dasharray="3 5.47"/>
<line x1="12.7" y1="70.40" x2="485.8" y2="70.40" stroke-dasharray="3 5.2"/>
<line x1="12.7" y1="154.98" x2="485.8" y2="154.98" stroke-dasharray="3 5.2"/>
<line x1="12.7" y1="239.56" x2="485.8" y2="239.56" stroke-dasharray="3 5.2"/>
<line x1="12.7" y1="324.14" x2="485.8" y2="324.14" stroke-dasharray="3 5.2"/>
<line x1="12.7" y1="408.72" x2="485.8" y2="408.72" stroke-dasharray="3 5.2"/>
<line x1="12.7" y1="493.30" x2="485.8" y2="493.30" stroke-dasharray="3 5.2"/>
</g>
<g stroke="#000" stroke-width="1.2" fill="none" stroke-dasharray="12.3 11.3">
<path d="M13.00,284.74 L27.03,274.19 L41.06,263.69 L55.09,253.24 L69.12,242.85 L83.15,232.52 L97.17,222.24 L111.20,212.01 L125.23,201.84 L139.26,191.72 L153.29,181.65 L167.32,171.64 L181.35,161.68 L195.38,151.78 L209.41,141.93 L223.44,132.14 L237.47,122.40 L251.50,112.72 L265.52,103.09 L279.55,93.51 L293.58,83.99 L307.61,74.52 L321.64,65.10 L335.67,55.74 L349.70,46.44"/>
<path d="M13.20,398.31 L32.89,383.44 L52.58,368.67 L72.26,354.00 L91.95,339.42 L111.64,324.94 L131.32,310.55 L151.01,296.27 L170.70,282.07 L190.39,267.98 L210.07,253.98 L229.76,240.08 L249.45,226.28 L269.14,212.57 L288.82,198.97 L308.51,185.45 L328.20,172.04 L347.89,158.72 L367.57,145.50 L387.26,132.37 L406.95,119.34 L426.64,106.41 L446.32,93.58 L466.01,80.84 L485.70,68.20"/>
</g>
<text transform="translate(57.29,303.00)" font-size="12.6" fill="#000">-118</text>
<text transform="translate(136.02,303.00)" font-size="12.6" fill="#000">-116</text>
<text transform="translate(214.63,303.00)" font-size="12.6" fill="#000">-114</text>
<text transform="translate(293.45,303.00)" font-size="12.6" fill="#000">-112</text>
<text transform="translate(372.09,303.00)" font-size="12.6" fill="#000">-110</text>
<text transform="translate(450.32,303.00)" font-size="12.6" fill="#000">-108</text>
<text transform="translate(239.89,70.40)" font-size="12.6" fill="#000">18</text>
<text transform="translate(239.92,154.98)" font-size="12.6" fill="#000">16</text>
<text transform="translate(239.82,239.56)" font-size="12.6" fill="#000">14</text>
<text transform="translate(239.95,324.14)" font-size="12.6" fill="#000">12</text>
<text transform="translate(239.89,408.72)" font-size="12.6" fill="#000">10</text>
<text transform="translate(243.57,493.30)" font-size="12.6" fill="#000">8</text>
<path d="M247.1,288.1h4.6v4.1h4.3v4.6h-4.3v4.4h-4.6v-4.4h-4.4v-4.6h4.4z" fill="#000"/>
<text transform="translate(36.35,66.00) scale(0.9792,1)" font-size="25.5" fill="#000">2A23 storm height (km)</text>
<text transform="translate(438.00,523.00)" font-size="30.0" fill="#000">(i)</text>
<rect x="495.1" y="40.70" width="8.9" height="8.76" fill="#561a18"/>
<rect x="495.1" y="49.16" width="8.9" height="8.76" fill="#5a1613"/>
<rect x="495.1" y="57.62" width="8.9" height="8.76" fill="#5d130e"/>
<rect x="495.1" y="66.08" width="8.9" height="8.76" fill="#601009"/>
<rect x="495.1" y="74.54" width="8.9" height="8.76" fill="#640c04"/>
<rect x="495.1" y="83.01" width="8.9" height="8.76" fill="#9c0c00"/>
<rect x="495.1" y="91.47" width="8.9" height="8.76" fill="#a60900"/>
<rect x="495.1" y="99.93" width="8.9" height="8.76" fill="#b00600"/>
<rect x="495.1" y="108.39" width="8.9" height="8.76" fill="#ba0300"/>
<rect x="495.1" y="116.85" width="8.9" height="8.76" fill="#c40000"/>
<rect x="495.1" y="125.31" width="8.9" height="8.76" fill="#ff1400"/>
<rect x="495.1" y="133.77" width="8.9" height="8.76" fill="#ff2100"/>
<rect x="495.1" y="142.23" width="8.9" height="8.76" fill="#ff2e00"/>
<rect x="495.1" y="150.69" width="8.9" height="8.76" fill="#ff3b00"/>
<rect x="495.1" y="159.15" width="8.9" height="8.76" fill="#ff4800"/>
<rect x="495.1" y="167.62" width="8.9" height="8.76" fill="#ff7000"/>
<rect x="495.1" y="176.08" width="8.9" height="8.76" fill="#ff7700"/>
<rect x="495.1" y="184.54" width="8.9" height="8.76" fill="#ff7e00"/>
<rect x="495.1" y="193.00" width="8.9" height="8.76" fill="#ff8500"/>
<rect x="495.1" y="201.46" width="8.9" height="8.76" fill="#ff8c00"/>
<rect x="495.1" y="209.92" width="8.9" height="8.76" fill="#ffc800"/>
<rect x="495.1" y="218.38" width="8.9" height="8.76" fill="#ffd600"/>
<rect x="495.1" y="226.84" width="8.9" height="8.76" fill="#ffe400"/>
<rect x="495.1" y="235.30" width="8.9" height="8.76" fill="#fff100"/>
<rect x="495.1" y="243.76" width="8.9" height="8.76" fill="#ffff00"/>
<rect x="495.1" y="252.23" width="8.9" height="8.76" fill="#0000b4"/>
<rect x="495.1" y="260.69" width="8.9" height="8.76" fill="#0000c0"/>
<rect x="495.1" y="269.15" width="8.9" height="8.76" fill="#0000cc"/>
<rect x="495.1" y="277.61" width="8.9" height="8.76" fill="#0000e6"/>
<rect x="495.1" y="286.07" width="8.9" height="8.76" fill="#0000ff"/>
<rect x="495.1" y="294.53" width="8.9" height="8.76" fill="#2828ff"/>
<rect x="495.1" y="302.99" width="8.9" height="8.76" fill="#3c3cff"/>
<rect x="495.1" y="311.45" width="8.9" height="8.76" fill="#4060ff"/>
<rect x="495.1" y="319.91" width="8.9" height="8.76" fill="#4080ff"/>
<rect x="495.1" y="328.37" width="8.9" height="8.76" fill="#40a0ff"/>
<rect x="495.1" y="336.84" width="8.9" height="8.76" fill="#58b4ff"/>
<rect x="495.1" y="345.30" width="8.9" height="8.76" fill="#78c0ff"/>
<rect x="495.1" y="353.76" width="8.9" height="8.76" fill="#98c8ff"/>
<rect x="495.1" y="362.22" width="8.9" height="8.76" fill="#b4ccff"/>
<rect x="495.1" y="370.68" width="8.9" height="8.76" fill="#ccd4ff"/>
<rect x="495.1" y="379.14" width="8.9" height="8.76" fill="#60b460"/>
<rect x="495.1" y="387.60" width="8.9" height="8.76" fill="#68bf68"/>
<rect x="495.1" y="396.06" width="8.9" height="8.76" fill="#70ca70"/>
<rect x="495.1" y="404.52" width="8.9" height="8.76" fill="#78d578"/>
<rect x="495.1" y="412.98" width="8.9" height="8.76" fill="#80e080"/>
<rect x="495.1" y="421.45" width="8.9" height="8.76" fill="#909090"/>
<rect x="495.1" y="429.91" width="8.9" height="8.76" fill="#989898"/>
<rect x="495.1" y="438.37" width="8.9" height="8.76" fill="#a0a0a0"/>
<rect x="495.1" y="446.83" width="8.9" height="8.76" fill="#a8a8a8"/>
<rect x="495.1" y="455.29" width="8.9" height="8.76" fill="#afafaf"/>
<rect x="495.1" y="463.75" width="8.9" height="8.76" fill="#b7b7b7"/>
<rect x="495.1" y="472.21" width="8.9" height="8.76" fill="#bfbfbf"/>
<rect x="495.1" y="480.67" width="8.9" height="8.76" fill="#c7c7c7"/>
<rect x="495.1" y="489.13" width="8.9" height="8.76" fill="#cfcfcf"/>
<rect x="495.1" y="497.59" width="8.9" height="8.76" fill="#d7d7d7"/>
<rect x="495.1" y="506.06" width="8.9" height="8.76" fill="#dedede"/>
<rect x="495.1" y="514.52" width="8.9" height="8.76" fill="#e6e6e6"/>
<rect x="495.1" y="522.98" width="8.9" height="8.76" fill="#eeeeee"/>
<rect x="495.1" y="531.44" width="8.9" height="8.76" fill="#f6f6f6"/>
<line x1="504" y1="91.60" x2="506.5" y2="91.60" stroke="#000" stroke-width="0.9"/>
<text transform="translate(513.00,100.10)" font-size="19.8" fill="#000">18.0</text>
<line x1="504" y1="142.35" x2="506.5" y2="142.35" stroke="#000" stroke-width="0.9"/>
<text transform="translate(513.00,150.85)" font-size="19.8" fill="#000">16.0</text>
<line x1="504" y1="193.10" x2="506.5" y2="193.10" stroke="#000" stroke-width="0.9"/>
<text transform="translate(513.00,201.60)" font-size="19.8" fill="#000">14.0</text>
<line x1="504" y1="243.85" x2="506.5" y2="243.85" stroke="#000" stroke-width="0.9"/>
<text transform="translate(513.00,252.35)" font-size="19.8" fill="#000">12.0</text>
<line x1="504" y1="294.60" x2="506.5" y2="294.60" stroke="#000" stroke-width="0.9"/>
<text transform="translate(513.00,303.10)" font-size="19.8" fill="#000">10.0</text>
<line x1="504" y1="345.35" x2="506.5" y2="345.35" stroke="#000" stroke-width="0.9"/>
<text transform="translate(518.79,353.85)" font-size="19.8" fill="#000">8.0</text>
<line x1="504" y1="396.10" x2="506.5" y2="396.10" stroke="#000" stroke-width="0.9"/>
<text transform="translate(518.74,404.60)" font-size="19.8" fill="#000">6.0</text>
<line x1="504" y1="446.85" x2="506.5" y2="446.85" stroke="#000" stroke-width="0.9"/>
<text transform="translate(518.99,455.35)" font-size="19.8" fill="#000">4.0</text>
<line x1="504" y1="497.60" x2="506.5" y2="497.60" stroke="#000" stroke-width="0.9"/>
<text transform="translate(518.74,506.10)" font-size="19.8" fill="#000">2.0</text>
<line x1="504" y1="548.35" x2="506.5" y2="548.35" stroke="#000" stroke-width="0.9"/>
<text transform="translate(518.84,556.85)" font-size="19.8" fill="#000">0.0</text>
</g>
</svg></body></html>
